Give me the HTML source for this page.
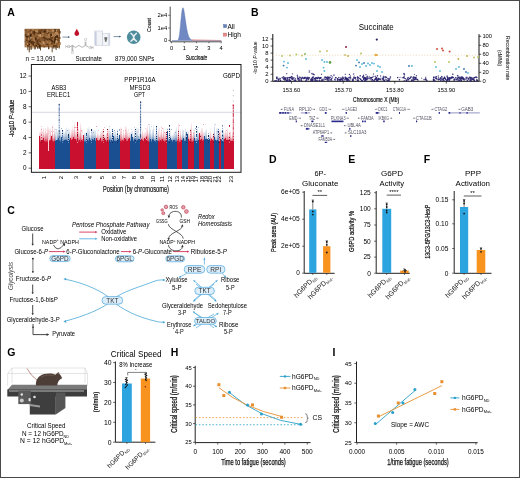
<!DOCTYPE html>
<html><head><meta charset="utf-8"><style>
html,body{margin:0;padding:0;background:#fff;}
svg{display:block;will-change:transform;}
text{font-family:"Liberation Sans", sans-serif;}
</style></head><body>
<svg width="520" height="478" viewBox="0 0 520 478">
<rect x="0" y="0" width="520" height="478" fill="#fff"/>
<text x="7.30" y="16.40" font-size="10.5" text-anchor="start" font-weight="bold" fill="#000">A</text>
<g>
<rect x="24.60" y="28.80" width="35.40" height="18.50" fill="#8e6036"/>
<rect x="32.8" y="38.1" width="2.3" height="1.8" fill="#a87848"/>
<rect x="44.6" y="39.1" width="1.2" height="1.3" fill="#b8885a"/>
<rect x="58.9" y="36.8" width="1.6" height="2.2" fill="#8a5a30"/>
<rect x="29.8" y="39.6" width="1.4" height="0.8" fill="#8a5a30"/>
<rect x="51.3" y="31.5" width="1.3" height="0.9" fill="#4a2a10"/>
<rect x="54.4" y="36.8" width="1.9" height="2.8" fill="#3a2008"/>
<rect x="38.2" y="42.4" width="2.3" height="1.1" fill="#b8885a"/>
<rect x="37.2" y="29.4" width="1.1" height="2.9" fill="#b8885a"/>
<rect x="39.6" y="39.5" width="1.5" height="2.6" fill="#7a4a22"/>
<rect x="44.3" y="37.9" width="1.7" height="2.8" fill="#3a2008"/>
<rect x="48.1" y="44.6" width="2.4" height="2.3" fill="#7a4a22"/>
<rect x="30.2" y="43.4" width="2.2" height="2.1" fill="#8a5a30"/>
<rect x="49.2" y="32.4" width="1.3" height="0.9" fill="#7a4a22"/>
<rect x="54.0" y="45.6" width="1.4" height="0.9" fill="#5a3518"/>
<rect x="55.5" y="29.1" width="2.0" height="2.7" fill="#3a2008"/>
<rect x="26.1" y="39.2" width="1.4" height="2.1" fill="#4a2a10"/>
<rect x="43.5" y="44.5" width="1.6" height="3.0" fill="#7a4a22"/>
<rect x="35.3" y="30.1" width="0.9" height="1.2" fill="#8a5a30"/>
<rect x="38.6" y="39.2" width="1.9" height="3.0" fill="#6b4220"/>
<rect x="36.3" y="34.9" width="2.2" height="1.6" fill="#6b4220"/>
<rect x="40.4" y="37.6" width="1.0" height="2.9" fill="#8a5a30"/>
<rect x="52.5" y="33.4" width="2.3" height="1.8" fill="#c8a070"/>
<rect x="33.5" y="34.0" width="0.8" height="1.7" fill="#a87848"/>
<rect x="44.6" y="29.1" width="0.9" height="2.2" fill="#6b4220"/>
<rect x="40.6" y="40.3" width="1.8" height="1.4" fill="#a87848"/>
<rect x="41.4" y="38.8" width="2.3" height="1.4" fill="#4a2a10"/>
<rect x="40.3" y="38.9" width="1.1" height="1.2" fill="#a87848"/>
<rect x="50.7" y="43.1" width="1.3" height="1.6" fill="#7a4a22"/>
<rect x="51.2" y="29.3" width="1.3" height="1.3" fill="#6b4220"/>
<rect x="52.3" y="32.9" width="1.9" height="2.2" fill="#6b4220"/>
<rect x="27.9" y="39.0" width="1.9" height="1.3" fill="#a87848"/>
<rect x="52.5" y="45.1" width="1.3" height="2.2" fill="#5a3518"/>
<rect x="55.0" y="36.5" width="2.1" height="0.9" fill="#c8a070"/>
<rect x="57.5" y="34.2" width="2.2" height="1.5" fill="#6b4220"/>
<rect x="53.1" y="30.3" width="1.7" height="1.7" fill="#a87848"/>
<rect x="42.4" y="43.2" width="1.4" height="1.7" fill="#b8885a"/>
<rect x="39.0" y="35.8" width="1.0" height="0.8" fill="#3a2008"/>
<rect x="57.0" y="43.8" width="1.5" height="2.9" fill="#8a5a30"/>
<rect x="56.5" y="32.6" width="2.1" height="2.3" fill="#b8885a"/>
<rect x="42.5" y="33.7" width="2.2" height="2.7" fill="#a87848"/>
<rect x="54.1" y="45.3" width="2.1" height="0.9" fill="#5a3518"/>
<rect x="55.7" y="40.6" width="2.2" height="2.8" fill="#c8a070"/>
<rect x="44.4" y="29.0" width="1.1" height="1.5" fill="#5a3518"/>
<rect x="47.4" y="37.7" width="0.9" height="2.8" fill="#3a2008"/>
<rect x="28.5" y="30.9" width="1.6" height="2.5" fill="#8a5a30"/>
<rect x="36.7" y="32.2" width="2.2" height="1.1" fill="#8a5a30"/>
<rect x="32.8" y="33.5" width="2.1" height="0.8" fill="#6b4220"/>
<rect x="46.2" y="43.5" width="2.0" height="1.3" fill="#4a2a10"/>
<rect x="45.9" y="37.6" width="1.6" height="2.5" fill="#4a2a10"/>
<rect x="24.7" y="29.7" width="0.9" height="0.9" fill="#6b4220"/>
<rect x="41.2" y="29.4" width="1.6" height="1.9" fill="#5a3518"/>
<rect x="30.0" y="30.0" width="1.8" height="2.1" fill="#3a2008"/>
<rect x="37.0" y="32.0" width="1.5" height="1.1" fill="#a87848"/>
<rect x="24.7" y="41.1" width="1.7" height="0.9" fill="#5a3518"/>
<rect x="40.5" y="39.9" width="1.4" height="2.6" fill="#8a5a30"/>
<rect x="46.0" y="36.1" width="1.8" height="2.5" fill="#a87848"/>
<rect x="35.4" y="45.0" width="1.5" height="1.3" fill="#3a2008"/>
<rect x="43.0" y="40.6" width="2.1" height="1.3" fill="#5a3518"/>
<rect x="29.1" y="29.3" width="1.4" height="2.8" fill="#a87848"/>
<rect x="51.8" y="33.3" width="1.9" height="2.9" fill="#b8885a"/>
<rect x="49.8" y="43.2" width="2.1" height="2.3" fill="#8a5a30"/>
<rect x="49.8" y="38.4" width="2.1" height="2.4" fill="#5a3518"/>
<rect x="40.9" y="32.8" width="0.9" height="1.0" fill="#3a2008"/>
<rect x="28.0" y="43.8" width="2.1" height="1.6" fill="#6b4220"/>
<rect x="53.9" y="29.2" width="1.9" height="2.6" fill="#5a3518"/>
<rect x="57.4" y="38.6" width="0.9" height="2.5" fill="#5a3518"/>
<rect x="42.2" y="41.0" width="1.7" height="1.0" fill="#5a3518"/>
<rect x="43.6" y="38.2" width="2.1" height="1.3" fill="#6b4220"/>
<rect x="30.8" y="33.0" width="1.2" height="2.1" fill="#3a2008"/>
<rect x="56.9" y="38.3" width="1.4" height="1.3" fill="#5a3518"/>
<rect x="56.6" y="43.1" width="1.5" height="2.1" fill="#6b4220"/>
<rect x="44.5" y="44.5" width="1.0" height="1.7" fill="#b8885a"/>
<rect x="55.1" y="31.6" width="2.0" height="2.8" fill="#b8885a"/>
<rect x="42.4" y="36.3" width="1.0" height="2.5" fill="#6b4220"/>
<rect x="29.6" y="37.6" width="2.2" height="2.0" fill="#c8a070"/>
<rect x="51.4" y="40.2" width="1.8" height="2.1" fill="#3a2008"/>
<rect x="58.4" y="43.9" width="0.8" height="1.9" fill="#7a4a22"/>
<rect x="37.8" y="31.7" width="1.2" height="1.9" fill="#a87848"/>
<rect x="54.3" y="35.9" width="1.9" height="1.3" fill="#b8885a"/>
<rect x="44.6" y="44.1" width="0.8" height="3.0" fill="#8a5a30"/>
<rect x="27.1" y="44.9" width="1.5" height="1.3" fill="#4a2a10"/>
<rect x="32.7" y="41.0" width="2.3" height="2.7" fill="#5a3518"/>
<rect x="32.9" y="32.0" width="1.0" height="2.2" fill="#7a4a22"/>
<rect x="47.8" y="29.4" width="1.1" height="0.9" fill="#7a4a22"/>
<rect x="30.9" y="30.3" width="1.0" height="1.4" fill="#5a3518"/>
<rect x="56.0" y="29.4" width="1.7" height="2.3" fill="#b8885a"/>
<rect x="24.8" y="34.5" width="1.4" height="1.0" fill="#3a2008"/>
<rect x="46.8" y="41.4" width="1.4" height="2.0" fill="#b8885a"/>
<rect x="28.7" y="33.5" width="1.0" height="2.8" fill="#3a2008"/>
<rect x="55.9" y="30.4" width="1.9" height="1.6" fill="#a87848"/>
<rect x="40.1" y="40.1" width="1.0" height="2.9" fill="#7a4a22"/>
<rect x="36.2" y="38.4" width="1.0" height="1.9" fill="#8a5a30"/>
<rect x="36.7" y="41.0" width="1.8" height="2.4" fill="#6b4220"/>
<rect x="29.7" y="35.1" width="1.0" height="2.9" fill="#b8885a"/>
<rect x="29.5" y="34.4" width="1.7" height="2.2" fill="#3a2008"/>
<rect x="40.3" y="34.1" width="1.9" height="1.0" fill="#6b4220"/>
<rect x="30.8" y="38.2" width="1.4" height="1.4" fill="#3a2008"/>
<rect x="37.8" y="43.6" width="1.6" height="1.4" fill="#4a2a10"/>
<rect x="48.5" y="37.6" width="2.3" height="1.8" fill="#a87848"/>
<rect x="52.4" y="30.0" width="2.2" height="1.0" fill="#b8885a"/>
<rect x="33.9" y="30.5" width="1.7" height="2.8" fill="#5a3518"/>
<rect x="28.5" y="40.7" width="1.9" height="1.7" fill="#3a2008"/>
<rect x="58.4" y="31.0" width="2.2" height="2.6" fill="#6b4220"/>
<rect x="43.3" y="31.7" width="1.1" height="1.4" fill="#6b4220"/>
<rect x="51.5" y="29.3" width="2.2" height="2.9" fill="#b8885a"/>
<rect x="37.8" y="38.2" width="1.8" height="2.9" fill="#7a4a22"/>
<rect x="48.2" y="33.9" width="0.8" height="1.2" fill="#b8885a"/>
<rect x="46.4" y="30.6" width="1.6" height="2.0" fill="#c8a070"/>
<rect x="40.4" y="32.1" width="1.1" height="2.6" fill="#8a5a30"/>
<rect x="56.5" y="44.9" width="1.7" height="2.9" fill="#5a3518"/>
<rect x="55.3" y="31.1" width="1.8" height="0.9" fill="#5a3518"/>
<rect x="37.0" y="32.8" width="1.6" height="0.8" fill="#5a3518"/>
<rect x="36.3" y="34.4" width="1.9" height="1.1" fill="#a87848"/>
<rect x="54.1" y="39.0" width="1.9" height="2.4" fill="#4a2a10"/>
<rect x="36.4" y="42.5" width="2.2" height="1.8" fill="#5a3518"/>
<rect x="50.6" y="37.0" width="2.1" height="1.7" fill="#5a3518"/>
<rect x="53.7" y="40.8" width="1.6" height="2.3" fill="#3a2008"/>
<rect x="43.1" y="36.0" width="1.3" height="1.8" fill="#b8885a"/>
<rect x="50.6" y="35.6" width="1.5" height="0.9" fill="#6b4220"/>
<rect x="33.4" y="43.2" width="1.6" height="2.1" fill="#b8885a"/>
<rect x="32.3" y="28.8" width="1.2" height="1.6" fill="#c8a070"/>
<rect x="54.0" y="37.9" width="1.1" height="1.2" fill="#6b4220"/>
<rect x="38.5" y="31.7" width="1.0" height="2.1" fill="#4a2a10"/>
<rect x="39.8" y="31.9" width="1.4" height="1.5" fill="#4a2a10"/>
<rect x="25.7" y="40.9" width="1.4" height="1.7" fill="#c8a070"/>
<rect x="25.5" y="45.2" width="1.2" height="1.7" fill="#c8a070"/>
<rect x="31.2" y="34.5" width="1.4" height="1.1" fill="#5a3518"/>
<rect x="26.4" y="41.2" width="2.4" height="2.9" fill="#7a4a22"/>
<rect x="51.8" y="45.1" width="1.2" height="1.4" fill="#b8885a"/>
<rect x="52.6" y="39.5" width="1.3" height="0.9" fill="#a87848"/>
<rect x="39.6" y="30.3" width="1.0" height="2.3" fill="#4a2a10"/>
<rect x="25.3" y="37.4" width="0.9" height="2.2" fill="#b8885a"/>
<rect x="55.6" y="32.2" width="1.3" height="1.9" fill="#b8885a"/>
<rect x="36.7" y="40.0" width="1.3" height="2.1" fill="#3a2008"/>
<rect x="57.2" y="30.3" width="1.1" height="1.7" fill="#7a4a22"/>
<rect x="42.1" y="38.1" width="1.9" height="2.8" fill="#8a5a30"/>
<rect x="30.6" y="41.4" width="2.1" height="2.0" fill="#3a2008"/>
<rect x="56.4" y="35.0" width="1.5" height="1.8" fill="#3a2008"/>
<rect x="48.8" y="34.7" width="1.6" height="2.5" fill="#6b4220"/>
<rect x="56.1" y="40.6" width="0.9" height="1.2" fill="#b8885a"/>
<rect x="50.5" y="42.8" width="2.0" height="2.3" fill="#5a3518"/>
<rect x="27.9" y="32.8" width="2.2" height="2.7" fill="#4a2a10"/>
<rect x="40.1" y="44.0" width="2.4" height="0.8" fill="#a87848"/>
<rect x="31.3" y="42.2" width="1.3" height="1.5" fill="#5a3518"/>
<rect x="40.1" y="42.8" width="1.2" height="0.9" fill="#c8a070"/>
<rect x="29.9" y="39.8" width="1.0" height="1.4" fill="#4a2a10"/>
<rect x="31.8" y="43.3" width="1.5" height="2.5" fill="#8a5a30"/>
<rect x="45.4" y="42.2" width="2.1" height="1.8" fill="#8a5a30"/>
<rect x="46.0" y="29.5" width="1.8" height="2.7" fill="#5a3518"/>
<rect x="28.1" y="44.8" width="0.9" height="1.8" fill="#7a4a22"/>
<rect x="32.3" y="42.9" width="1.8" height="2.5" fill="#5a3518"/>
<rect x="54.6" y="34.7" width="2.0" height="1.4" fill="#b8885a"/>
<rect x="57.1" y="36.3" width="1.1" height="2.0" fill="#3a2008"/>
<rect x="40.6" y="41.2" width="1.3" height="1.2" fill="#5a3518"/>
<rect x="50.5" y="44.5" width="1.5" height="2.2" fill="#a87848"/>
<rect x="45.4" y="32.4" width="2.1" height="0.9" fill="#a87848"/>
<rect x="32.7" y="36.3" width="1.1" height="1.2" fill="#7a4a22"/>
<rect x="56.6" y="41.1" width="2.3" height="2.0" fill="#b8885a"/>
<rect x="39.0" y="44.9" width="1.6" height="2.5" fill="#3a2008"/>
<rect x="38.6" y="45.8" width="1.3" height="2.9" fill="#4a2a10"/>
<rect x="30.9" y="30.4" width="1.3" height="1.9" fill="#6b4220"/>
<rect x="46.6" y="29.5" width="1.2" height="1.8" fill="#c8a070"/>
<rect x="36.5" y="41.4" width="1.0" height="1.8" fill="#7a4a22"/>
<rect x="55.9" y="36.3" width="1.0" height="2.5" fill="#c8a070"/>
<rect x="48.7" y="45.4" width="2.3" height="1.7" fill="#a87848"/>
<rect x="56.9" y="36.9" width="1.2" height="2.9" fill="#8a5a30"/>
<rect x="34.5" y="29.3" width="2.2" height="2.6" fill="#a87848"/>
<rect x="34.8" y="32.9" width="0.8" height="1.1" fill="#8a5a30"/>
<rect x="42.9" y="37.9" width="2.3" height="0.8" fill="#6b4220"/>
<rect x="58.4" y="42.3" width="2.4" height="2.5" fill="#a87848"/>
<rect x="58.3" y="29.4" width="1.2" height="1.4" fill="#6b4220"/>
<rect x="55.7" y="43.0" width="2.1" height="1.8" fill="#8a5a30"/>
<rect x="33.6" y="40.2" width="1.5" height="1.4" fill="#b8885a"/>
<rect x="26.1" y="36.1" width="2.3" height="2.6" fill="#6b4220"/>
<rect x="33.1" y="31.1" width="1.6" height="2.6" fill="#3a2008"/>
<rect x="43.6" y="33.6" width="0.9" height="1.9" fill="#6b4220"/>
<rect x="26.7" y="42.7" width="1.5" height="2.3" fill="#b8885a"/>
<rect x="56.5" y="42.6" width="1.5" height="1.9" fill="#8a5a30"/>
<rect x="30.5" y="31.9" width="2.4" height="2.0" fill="#6b4220"/>
<rect x="38.6" y="34.8" width="1.2" height="1.4" fill="#b8885a"/>
<rect x="34.3" y="37.8" width="1.0" height="0.9" fill="#a87848"/>
<rect x="41.3" y="32.7" width="2.3" height="2.1" fill="#b8885a"/>
<rect x="25.7" y="38.6" width="1.0" height="1.1" fill="#8a5a30"/>
<rect x="51.6" y="41.6" width="1.0" height="2.3" fill="#7a4a22"/>
<rect x="37.4" y="37.6" width="1.1" height="2.8" fill="#b8885a"/>
<rect x="30.8" y="35.3" width="1.3" height="1.4" fill="#3a2008"/>
<rect x="57.3" y="44.8" width="1.8" height="2.0" fill="#a87848"/>
<rect x="25.8" y="35.9" width="2.4" height="1.0" fill="#3a2008"/>
<rect x="32.5" y="32.2" width="1.9" height="1.1" fill="#5a3518"/>
<rect x="46.4" y="30.9" width="2.3" height="2.9" fill="#4a2a10"/>
<rect x="48.4" y="36.1" width="1.5" height="1.4" fill="#b8885a"/>
<rect x="43.8" y="31.8" width="2.3" height="1.1" fill="#b8885a"/>
<rect x="55.7" y="31.8" width="1.9" height="2.2" fill="#b8885a"/>
<rect x="29.5" y="29.7" width="1.3" height="2.2" fill="#6b4220"/>
<rect x="29.1" y="31.3" width="2.3" height="2.0" fill="#8a5a30"/>
<rect x="37.8" y="30.6" width="1.1" height="0.9" fill="#3a2008"/>
<rect x="28.2" y="30.8" width="1.0" height="1.6" fill="#7a4a22"/>
<rect x="56.1" y="30.1" width="0.8" height="1.6" fill="#c8a070"/>
<rect x="29.5" y="36.9" width="1.4" height="2.9" fill="#5a3518"/>
<rect x="41.3" y="40.8" width="1.6" height="2.4" fill="#a87848"/>
<rect x="42.9" y="43.3" width="1.7" height="1.8" fill="#b8885a"/>
<rect x="43.1" y="36.3" width="1.5" height="1.6" fill="#8a5a30"/>
<rect x="50.6" y="33.8" width="1.3" height="2.7" fill="#6b4220"/>
<rect x="57.6" y="34.2" width="1.0" height="2.1" fill="#c8a070"/>
<rect x="26.6" y="39.2" width="1.0" height="0.8" fill="#6b4220"/>
<rect x="54.5" y="42.3" width="1.6" height="2.5" fill="#a87848"/>
<rect x="27.8" y="38.0" width="1.3" height="2.1" fill="#b8885a"/>
<rect x="32.1" y="36.6" width="1.8" height="2.1" fill="#a87848"/>
<rect x="48.8" y="41.9" width="2.2" height="2.6" fill="#a87848"/>
<rect x="34.5" y="45.4" width="1.1" height="2.1" fill="#7a4a22"/>
<rect x="32.2" y="45.7" width="1.3" height="2.9" fill="#c8a070"/>
<rect x="40.2" y="36.9" width="2.1" height="1.2" fill="#8a5a30"/>
<rect x="45.9" y="37.7" width="0.9" height="1.7" fill="#4a2a10"/>
<rect x="53.8" y="42.0" width="1.2" height="1.6" fill="#4a2a10"/>
<rect x="31.9" y="30.1" width="1.1" height="2.0" fill="#8a5a30"/>
<rect x="55.0" y="36.1" width="1.9" height="1.6" fill="#3a2008"/>
<rect x="34.9" y="37.4" width="1.5" height="2.8" fill="#3a2008"/>
<rect x="48.2" y="30.6" width="1.0" height="1.3" fill="#b8885a"/>
<rect x="37.4" y="39.2" width="2.2" height="1.3" fill="#6b4220"/>
<rect x="39.6" y="32.1" width="1.7" height="2.8" fill="#4a2a10"/>
<rect x="43.0" y="41.3" width="1.5" height="2.3" fill="#c8a070"/>
<rect x="28.8" y="43.8" width="1.2" height="1.1" fill="#3a2008"/>
<rect x="35.1" y="38.2" width="2.1" height="2.1" fill="#5a3518"/>
<rect x="27.5" y="29.3" width="1.4" height="1.9" fill="#a87848"/>
<rect x="58.5" y="36.8" width="1.4" height="1.9" fill="#6b4220"/>
<rect x="39.5" y="39.5" width="1.5" height="1.0" fill="#7a4a22"/>
<rect x="58.3" y="40.6" width="0.9" height="2.7" fill="#5a3518"/>
<rect x="50.3" y="34.3" width="1.3" height="2.8" fill="#4a2a10"/>
<rect x="46.3" y="30.4" width="1.8" height="2.7" fill="#a87848"/>
<rect x="32.4" y="34.3" width="2.3" height="0.9" fill="#3a2008"/>
<rect x="42.4" y="44.1" width="1.6" height="2.1" fill="#8a5a30"/>
<rect x="27.5" y="32.7" width="2.1" height="2.8" fill="#b8885a"/>
<rect x="38.2" y="34.6" width="1.9" height="2.0" fill="#b8885a"/>
<rect x="31.6" y="33.9" width="1.7" height="1.6" fill="#6b4220"/>
<rect x="42.4" y="34.2" width="1.1" height="0.9" fill="#8a5a30"/>
<rect x="39.5" y="34.1" width="1.6" height="2.7" fill="#c8a070"/>
<rect x="30.9" y="30.6" width="1.0" height="2.8" fill="#b8885a"/>
<rect x="38.3" y="32.4" width="2.0" height="1.5" fill="#6b4220"/>
<rect x="33.1" y="43.8" width="1.2" height="1.6" fill="#4a2a10"/>
<rect x="32.3" y="33.6" width="1.2" height="2.3" fill="#a87848"/>
<rect x="36.3" y="30.7" width="1.3" height="1.2" fill="#c8a070"/>
<rect x="30.4" y="37.0" width="1.1" height="2.3" fill="#c8a070"/>
<rect x="45.6" y="31.8" width="1.4" height="2.0" fill="#8a5a30"/>
<rect x="45.2" y="39.5" width="1.4" height="1.0" fill="#b8885a"/>
<rect x="43.0" y="36.6" width="1.7" height="1.4" fill="#4a2a10"/>
<rect x="55.5" y="40.5" width="1.4" height="1.9" fill="#c8a070"/>
<rect x="41.3" y="35.7" width="2.0" height="1.1" fill="#b8885a"/>
<rect x="39.0" y="43.5" width="1.7" height="1.0" fill="#6b4220"/>
<rect x="42.8" y="43.3" width="1.8" height="1.1" fill="#b8885a"/>
<rect x="56.3" y="35.2" width="1.7" height="2.6" fill="#4a2a10"/>
<rect x="31.6" y="30.4" width="1.7" height="2.1" fill="#8a5a30"/>
<rect x="47.9" y="33.7" width="2.4" height="2.6" fill="#a87848"/>
<rect x="50.3" y="33.8" width="1.5" height="2.0" fill="#4a2a10"/>
<rect x="50.9" y="36.0" width="1.7" height="1.3" fill="#a87848"/>
<rect x="48.6" y="38.4" width="1.9" height="1.5" fill="#3a2008"/>
<rect x="30.2" y="44.4" width="1.1" height="1.7" fill="#b8885a"/>
<rect x="31.3" y="35.7" width="1.0" height="0.9" fill="#a87848"/>
<rect x="41.2" y="32.2" width="1.9" height="1.1" fill="#8a5a30"/>
<rect x="43.6" y="30.8" width="2.2" height="1.9" fill="#3a2008"/>
<rect x="38.3" y="29.9" width="1.9" height="1.3" fill="#7a4a22"/>
<rect x="34.6" y="46.5" width="0.9" height="2.5" fill="#5a3a1a"/>
<rect x="29.6" y="46.5" width="0.9" height="3.2" fill="#5a3a1a"/>
<rect x="30.9" y="46.5" width="0.9" height="3.2" fill="#5a3a1a"/>
<rect x="48.5" y="46.5" width="0.9" height="2.7" fill="#5a3a1a"/>
<rect x="51.7" y="46.5" width="0.9" height="5.8" fill="#5a3a1a"/>
<rect x="48.0" y="46.5" width="0.9" height="2.6" fill="#5a3a1a"/>
<rect x="34.5" y="46.5" width="0.9" height="3.1" fill="#5a3a1a"/>
<rect x="37.3" y="46.5" width="0.9" height="2.0" fill="#5a3a1a"/>
<rect x="54.7" y="46.5" width="0.9" height="2.1" fill="#5a3a1a"/>
<rect x="28.8" y="46.5" width="0.9" height="5.9" fill="#5a3a1a"/>
<rect x="37.0" y="46.5" width="0.9" height="2.0" fill="#5a3a1a"/>
<rect x="53.3" y="46.5" width="0.9" height="2.1" fill="#5a3a1a"/>
<rect x="27.4" y="46.5" width="0.9" height="3.7" fill="#5a3a1a"/>
<rect x="58.8" y="46.5" width="0.9" height="2.1" fill="#5a3a1a"/>
<rect x="55.7" y="46.5" width="0.9" height="3.5" fill="#5a3a1a"/>
<rect x="40.1" y="46.5" width="0.9" height="4.0" fill="#5a3a1a"/>
</g>
<line x1="62.50" y1="37.10" x2="69.60" y2="37.10" stroke="#2d4a6b" stroke-width="0.6"/>
<polygon points="69.60,37.10 68.00,36.22 68.00,37.98" fill="#2d4a6b"/>
<line x1="113.50" y1="36.60" x2="120.80" y2="36.60" stroke="#2d4a6b" stroke-width="0.6"/>
<polygon points="120.80,36.60 119.20,35.72 119.20,37.48" fill="#2d4a6b"/>
<path d="M76.8,28.8 C75.5,31.5 74.4,32.6 74.4,33.6 A2.4,2.4 0 0 0 79.2,33.6 C79.2,32.6 78.1,31.5 76.8,28.8 Z" fill="#c0102a"/>
<polyline points="69.5,47.2 72.4,45.4 75.6,47.4 78.9,45.4 82.2,47.4 85.5,45.4 88.6,47.2" fill="none" stroke="#777" stroke-width="0.55"/>
<line x1="72.00" y1="45.60" x2="72.00" y2="51.20" stroke="#777" stroke-width="0.5"/>
<line x1="72.80" y1="45.60" x2="72.80" y2="51.20" stroke="#777" stroke-width="0.5"/>
<line x1="85.10" y1="45.40" x2="85.10" y2="41.60" stroke="#777" stroke-width="0.5"/>
<line x1="85.90" y1="45.40" x2="85.90" y2="41.60" stroke="#777" stroke-width="0.5"/>
<text x="65.60" y="48.40" font-size="3" text-anchor="start" fill="#777">HO</text>
<text x="88.80" y="48.60" font-size="3" text-anchor="start" fill="#777">OH</text>
<text x="71.30" y="54.20" font-size="3" text-anchor="start" fill="#777">O</text>
<text x="84.40" y="41.40" font-size="3" text-anchor="start" fill="#777">O</text>
<rect x="94.80" y="31.00" width="8.00" height="14.60" fill="#f1f3f7" stroke="#b4bccc" stroke-width="0.4"/>
<rect x="95.00" y="31.50" width="1.60" height="13.80" fill="#c6cee0"/>
<rect x="102.50" y="33.50" width="7.40" height="12.00" fill="#f3f4f7" stroke="#b4bccc" stroke-width="0.4"/>
<rect x="108.40" y="34.00" width="1.30" height="11.00" fill="#c8cfdf"/>
<path d="M104.1,37.4 Q105.8,36.6 107.5,37.4 L106.4,41.8 Q105.8,42.3 105.2,41.8 Z" fill="#707070"/>
<circle cx="133.70" cy="37.30" r="6.80" fill="#4d8c9c"/>
<path d="M131.0,33.4 Q136.4,37.3 131.0,41.2 M136.4,33.4 Q131.0,37.3 136.4,41.2" stroke="#e6eef0" stroke-width="1.5" fill="none" stroke-linecap="round"/>
<text x="25.60" y="61.20" font-size="7.3" text-anchor="start" textLength="30.20" lengthAdjust="spacingAndGlyphs">n = 13,091</text>
<text x="75.40" y="61.20" font-size="7.3" text-anchor="start" textLength="26.60" lengthAdjust="spacingAndGlyphs">Succinate</text>
<text x="115.00" y="61.20" font-size="7.3" text-anchor="start" textLength="39.40" lengthAdjust="spacingAndGlyphs">879,000 SNPs</text>
<path d="M172.00,40.60 L172.00,40.60 L172.25,40.60 L172.49,40.60 L172.74,40.60 L172.98,40.60 L173.23,40.60 L173.48,40.60 L173.72,40.60 L173.97,40.60 L174.21,40.60 L174.46,40.60 L174.71,40.60 L174.95,40.60 L175.20,40.60 L175.44,40.60 L175.69,40.60 L175.94,40.60 L176.18,40.60 L176.43,40.60 L176.67,40.59 L176.92,40.58 L177.17,40.54 L177.41,40.48 L177.66,40.36 L177.90,40.16 L178.15,39.84 L178.40,39.35 L178.64,38.66 L178.89,37.71 L179.13,36.49 L179.38,34.96 L179.63,33.13 L179.87,31.02 L180.12,28.67 L180.36,26.14 L180.61,23.51 L180.86,20.85 L181.10,18.26 L181.35,15.83 L181.59,13.62 L181.84,11.72 L182.09,10.15 L182.33,8.97 L182.58,8.19 L182.82,7.80 L183.07,7.80 L183.32,8.16 L183.56,8.85 L183.81,9.83 L184.05,11.04 L184.30,12.45 L184.55,14.01 L184.79,15.66 L185.04,17.38 L185.28,19.13 L185.53,20.87 L185.78,22.57 L186.02,24.22 L186.27,25.79 L186.51,27.28 L186.76,28.68 L187.01,29.98 L187.25,31.17 L187.50,32.26 L187.74,33.26 L187.99,34.16 L188.24,34.96 L188.48,35.69 L188.73,36.33 L188.97,36.90 L189.22,37.40 L189.47,37.84 L189.71,38.22 L189.96,38.56 L190.20,38.85 L190.45,39.11 L190.70,39.33 L190.94,39.52 L191.19,39.68 L191.43,39.82 L191.68,39.94 L191.93,40.04 L192.17,40.13 L192.42,40.20 L192.66,40.26 L192.91,40.32 L193.16,40.36 L193.40,40.40 L193.65,40.43 L193.89,40.46 L194.14,40.48 L194.39,40.50 L194.63,40.52 L194.88,40.53 L195.12,40.54 L195.37,40.55 L195.62,40.56 L195.86,40.57 L196.11,40.57 L196.35,40.58 L196.60,40.58 L196.85,40.58 L197.09,40.59 L197.34,40.59 L197.58,40.59 L197.83,40.59 L198.08,40.59 L198.32,40.59 L198.57,40.60 L198.81,40.60 L199.06,40.60 L199.31,40.60 L199.55,40.60 L199.80,40.60 L200.04,40.60 L200.29,40.60 L200.54,40.60 L200.78,40.60 L201.03,40.60 L201.27,40.60 L201.52,40.60 L201.77,40.60 L202.01,40.60 L202.26,40.60 L202.50,40.60 L202.75,40.60 L203.00,40.60 L203.24,40.60 L203.49,40.60 L203.73,40.60 L203.98,40.60 L204.23,40.60 L204.47,40.60 L204.72,40.60 L204.96,40.60 L205.21,40.60 L205.46,40.60 L205.70,40.60 L205.95,40.60 L206.19,40.60 L206.44,40.60 L206.69,40.60 L206.93,40.60 L207.18,40.60 L207.42,40.60 L207.67,40.60 L207.92,40.60 L208.16,40.60 L208.41,40.60 L208.65,40.60 L208.90,40.60 L209.15,40.60 L209.39,40.60 L209.64,40.60 L209.88,40.60 L210.13,40.60 L210.38,40.60 L210.62,40.60 L210.87,40.60 L211.11,40.60 L211.36,40.60 L211.61,40.60 L211.85,40.60 L212.10,40.60 L212.34,40.60 L212.59,40.60 L212.84,40.60 L213.08,40.60 L213.33,40.60 L213.57,40.60 L213.82,40.60 L214.07,40.60 L214.31,40.60 L214.56,40.60 L214.80,40.60 L215.05,40.60 L215.30,40.60 L215.54,40.60 L215.79,40.60 L216.03,40.60 L216.28,40.60 L216.53,40.60 L216.77,40.60 L217.02,40.60 L217.26,40.60 L217.51,40.60 L217.76,40.60 L218.00,40.60 L218.25,40.60 L218.49,40.60 L218.74,40.60 L218.99,40.60 L219.23,40.60 L219.48,40.60 L219.72,40.60 L219.97,40.60 L220.22,40.60 L220.46,40.60 L220.71,40.60 L220.95,40.60 L221.20,40.60 L221.20,40.60 Z" fill="#7189c2" stroke="#5570ad" stroke-width="0.4"/>
<path d="M191.68,40.60 L191.68,39.60 L221.20,40.00 L221.20,40.60 Z" fill="#e08585"/>
<line x1="170.20" y1="6.60" x2="170.20" y2="41.80" stroke="#222" stroke-width="0.8"/>
<line x1="170.20" y1="41.80" x2="221.60" y2="41.80" stroke="#222" stroke-width="0.8"/>
<line x1="168.20" y1="15.30" x2="170.20" y2="15.30" stroke="#222" stroke-width="0.6"/>
<text x="167.20" y="17.30" font-size="5.8" text-anchor="end">2e4</text>
<line x1="168.20" y1="28.00" x2="170.20" y2="28.00" stroke="#222" stroke-width="0.6"/>
<text x="167.20" y="30.00" font-size="5.8" text-anchor="end">1e4</text>
<line x1="168.20" y1="40.40" x2="170.20" y2="40.40" stroke="#222" stroke-width="0.6"/>
<text x="167.20" y="42.40" font-size="5.8" text-anchor="end">0</text>
<line x1="171.50" y1="41.80" x2="171.50" y2="43.30" stroke="#222" stroke-width="0.6"/>
<text x="171.50" y="49.80" font-size="5.8" text-anchor="middle">0</text>
<line x1="184.30" y1="41.80" x2="184.30" y2="43.30" stroke="#222" stroke-width="0.6"/>
<text x="184.30" y="49.80" font-size="5.8" text-anchor="middle">1</text>
<line x1="196.60" y1="41.80" x2="196.60" y2="43.30" stroke="#222" stroke-width="0.6"/>
<text x="196.60" y="49.80" font-size="5.8" text-anchor="middle">2</text>
<line x1="208.90" y1="41.80" x2="208.90" y2="43.30" stroke="#222" stroke-width="0.6"/>
<text x="208.90" y="49.80" font-size="5.8" text-anchor="middle">3</text>
<line x1="221.20" y1="41.80" x2="221.20" y2="43.30" stroke="#222" stroke-width="0.6"/>
<text x="221.20" y="49.80" font-size="5.8" text-anchor="middle">4</text>
<text x="150.80" y="25.00" font-size="6.2" text-anchor="middle" textLength="14.00" lengthAdjust="spacingAndGlyphs" transform="rotate(-90 150.80 25.00)" stroke="#222" stroke-width="0.15">Count</text>
<text x="196.50" y="60.30" font-size="7.2" text-anchor="middle" font-style="italic" textLength="21.40" lengthAdjust="spacingAndGlyphs" stroke="#222" stroke-width="0.2">Succinate</text>
<rect x="223.60" y="24.60" width="3.00" height="3.00" fill="#6680b8" stroke="#3d5a96" stroke-width="0.4"/>
<rect x="223.60" y="33.10" width="3.00" height="3.00" fill="#e89090" stroke="#c04040" stroke-width="0.4"/>
<text x="227.40" y="28.60" font-size="6.6" text-anchor="start">All</text>
<text x="227.40" y="37.10" font-size="6.6" text-anchor="start">High</text>
<defs>
<linearGradient id="gr" x1="0" y1="0" x2="0" y2="1"><stop offset="0" stop-color="#c9112f" stop-opacity="0.06"/><stop offset="0.4" stop-color="#c9112f" stop-opacity="0.22"/><stop offset="0.75" stop-color="#c9112f" stop-opacity="0.5"/><stop offset="1" stop-color="#c9112f" stop-opacity="0.9"/></linearGradient>
<linearGradient id="gb" x1="0" y1="0" x2="0" y2="1"><stop offset="0" stop-color="#1a4f91" stop-opacity="0.06"/><stop offset="0.4" stop-color="#1a4f91" stop-opacity="0.22"/><stop offset="0.75" stop-color="#1a4f91" stop-opacity="0.5"/><stop offset="1" stop-color="#1a4f91" stop-opacity="0.9"/></linearGradient>
</defs>
<g shape-rendering="crispEdges">
<rect x="39.10" y="141.70" width="15.70" height="27.26" fill="#c9112f"/>
<rect x="39.10" y="131.70" width="0.50" height="10.39" fill="url(#gr)"/>
<rect x="39.10" y="136.04" width="0.50" height="5.66" fill="#c9112f"/>
<rect x="39.60" y="131.28" width="0.50" height="10.81" fill="url(#gr)"/>
<rect x="39.60" y="141.26" width="0.50" height="0.45" fill="#c9112f"/>
<rect x="40.10" y="130.34" width="0.50" height="11.75" fill="url(#gr)"/>
<rect x="40.60" y="134.48" width="0.50" height="7.61" fill="url(#gr)"/>
<rect x="40.60" y="139.11" width="0.50" height="2.59" fill="#c9112f"/>
<rect x="40.60" y="125.36" width="0.50" height="6.14" fill="#ffffff" opacity="0.55"/>
<rect x="41.10" y="127.77" width="0.50" height="14.32" fill="url(#gr)"/>
<rect x="41.10" y="139.61" width="0.50" height="2.10" fill="#c9112f"/>
<rect x="41.10" y="134.27" width="0.50" height="6.14" fill="#ffffff" opacity="0.55"/>
<rect x="41.60" y="130.47" width="0.50" height="11.62" fill="url(#gr)"/>
<rect x="41.60" y="141.10" width="0.50" height="0.61" fill="#c9112f"/>
<rect x="41.60" y="130.13" width="0.50" height="6.14" fill="#ffffff" opacity="0.55"/>
<rect x="42.10" y="131.79" width="0.50" height="10.30" fill="url(#gr)"/>
<rect x="42.10" y="140.10" width="0.50" height="1.61" fill="#c9112f"/>
<rect x="42.60" y="131.34" width="0.50" height="10.75" fill="url(#gr)"/>
<rect x="42.60" y="140.36" width="0.50" height="1.34" fill="#c9112f"/>
<rect x="43.10" y="127.51" width="0.50" height="14.57" fill="url(#gr)"/>
<rect x="43.10" y="137.68" width="0.50" height="4.02" fill="#c9112f"/>
<rect x="43.60" y="131.71" width="0.50" height="10.38" fill="url(#gr)"/>
<rect x="44.10" y="132.10" width="0.50" height="9.99" fill="url(#gr)"/>
<rect x="44.10" y="140.63" width="0.50" height="1.07" fill="#c9112f"/>
<rect x="44.60" y="127.95" width="0.50" height="14.14" fill="url(#gr)"/>
<rect x="44.60" y="136.41" width="0.50" height="5.29" fill="#c9112f"/>
<rect x="45.10" y="127.65" width="0.50" height="14.44" fill="url(#gr)"/>
<rect x="45.60" y="128.92" width="0.50" height="13.17" fill="url(#gr)"/>
<rect x="45.60" y="140.82" width="0.50" height="0.89" fill="#c9112f"/>
<rect x="46.10" y="128.49" width="0.50" height="13.60" fill="url(#gr)"/>
<rect x="46.10" y="127.06" width="0.50" height="6.14" fill="#ffffff" opacity="0.55"/>
<rect x="46.60" y="133.81" width="0.50" height="8.28" fill="url(#gr)"/>
<rect x="46.60" y="140.40" width="0.50" height="1.30" fill="#c9112f"/>
<rect x="47.10" y="126.38" width="0.50" height="15.70" fill="url(#gr)"/>
<rect x="47.60" y="122.89" width="0.50" height="19.20" fill="url(#gr)"/>
<rect x="47.60" y="138.13" width="0.50" height="3.57" fill="#c9112f"/>
<rect x="48.10" y="126.84" width="0.50" height="15.25" fill="url(#gr)"/>
<rect x="48.10" y="137.48" width="0.50" height="4.23" fill="#c9112f"/>
<rect x="48.60" y="134.41" width="0.50" height="7.68" fill="url(#gr)"/>
<rect x="48.60" y="141.18" width="0.50" height="0.53" fill="#c9112f"/>
<rect x="49.10" y="129.24" width="0.50" height="12.85" fill="url(#gr)"/>
<rect x="49.10" y="140.93" width="0.50" height="0.77" fill="#c9112f"/>
<rect x="49.10" y="133.58" width="0.50" height="6.14" fill="#ffffff" opacity="0.55"/>
<rect x="49.60" y="127.88" width="0.50" height="14.21" fill="url(#gr)"/>
<rect x="49.60" y="140.68" width="0.50" height="1.02" fill="#c9112f"/>
<rect x="50.10" y="127.81" width="0.50" height="14.28" fill="url(#gr)"/>
<rect x="50.10" y="139.83" width="0.50" height="1.88" fill="#c9112f"/>
<rect x="50.60" y="126.43" width="0.50" height="15.66" fill="url(#gr)"/>
<rect x="50.60" y="137.97" width="0.50" height="3.74" fill="#c9112f"/>
<rect x="51.10" y="133.72" width="0.50" height="8.37" fill="url(#gr)"/>
<rect x="51.10" y="135.52" width="0.50" height="6.19" fill="#c9112f"/>
<rect x="51.60" y="127.88" width="0.50" height="14.21" fill="url(#gr)"/>
<rect x="51.60" y="139.67" width="0.50" height="2.03" fill="#c9112f"/>
<rect x="52.10" y="124.28" width="0.50" height="17.81" fill="url(#gr)"/>
<rect x="52.10" y="141.11" width="0.50" height="0.60" fill="#c9112f"/>
<rect x="52.60" y="133.20" width="0.50" height="8.89" fill="url(#gr)"/>
<rect x="52.60" y="139.71" width="0.50" height="1.99" fill="#c9112f"/>
<rect x="53.10" y="133.83" width="0.50" height="8.26" fill="url(#gr)"/>
<rect x="53.60" y="130.88" width="0.50" height="11.21" fill="url(#gr)"/>
<rect x="53.60" y="139.61" width="0.50" height="2.09" fill="#c9112f"/>
<rect x="54.10" y="128.08" width="0.50" height="14.01" fill="url(#gr)"/>
<rect x="54.10" y="141.02" width="0.50" height="0.69" fill="#c9112f"/>
<rect x="54.60" y="133.30" width="0.20" height="8.79" fill="url(#gr)"/>
<rect x="54.60" y="139.84" width="0.20" height="1.86" fill="#c9112f"/>
<rect x="54.60" y="131.07" width="0.20" height="6.14" fill="#ffffff" opacity="0.55"/>
<rect x="52.52" y="141.64" width="0.90" height="0.90" fill="#e36a7c"/>
<rect x="52.52" y="140.04" width="0.90" height="0.90" fill="#eea0ab"/>
<rect x="52.52" y="138.07" width="0.90" height="0.90" fill="#d8344e"/>
<rect x="52.52" y="137.12" width="0.90" height="0.90" fill="#eea0ab"/>
<rect x="52.52" y="136.12" width="0.90" height="0.90" fill="#8e0f24"/>
<rect x="52.52" y="135.04" width="0.90" height="0.90" fill="#8e0f24"/>
<rect x="52.52" y="133.60" width="0.90" height="0.90" fill="#8e0f24"/>
<rect x="52.52" y="132.63" width="0.90" height="0.90" fill="#e36a7c"/>
<rect x="52.52" y="130.79" width="0.90" height="0.90" fill="#e36a7c"/>
<rect x="52.52" y="129.77" width="0.90" height="0.90" fill="#d8344e"/>
<rect x="52.52" y="127.85" width="0.90" height="0.90" fill="#d8344e"/>
<rect x="52.52" y="125.93" width="0.90" height="0.90" fill="#eea0ab"/>
<rect x="52.52" y="124.57" width="0.90" height="0.90" fill="#8e0f24"/>
<rect x="40.91" y="141.64" width="0.90" height="0.90" fill="#8e0f24"/>
<rect x="40.91" y="140.24" width="0.90" height="0.90" fill="#8e0f24"/>
<rect x="40.91" y="138.24" width="0.90" height="0.90" fill="#eea0ab"/>
<rect x="40.91" y="136.81" width="0.90" height="0.90" fill="#d8344e"/>
<rect x="40.91" y="135.29" width="0.90" height="0.90" fill="#e36a7c"/>
<rect x="40.91" y="133.68" width="0.90" height="0.90" fill="#e36a7c"/>
<rect x="40.87" y="126.41" width="0.80" height="0.80" fill="#f5c6cc"/>
<rect x="43.12" y="132.82" width="0.80" height="0.80" fill="#f5c6cc"/>
<rect x="41.35" y="128.84" width="0.80" height="0.80" fill="#eea0ab"/>
<rect x="50.93" y="131.08" width="0.80" height="0.80" fill="#f5c6cc"/>
<rect x="46.92" y="131.69" width="0.80" height="0.80" fill="#f5c6cc"/>
<rect x="49.55" y="131.93" width="0.80" height="0.80" fill="#f5c6cc"/>
<rect x="51.72" y="126.88" width="0.80" height="0.80" fill="#eea0ab"/>
<rect x="52.92" y="130.80" width="0.80" height="0.80" fill="#f5c6cc"/>
<rect x="42.40" y="132.26" width="0.80" height="0.80" fill="#f5c6cc"/>
<rect x="48.40" y="129.80" width="0.60" height="20.74" fill="#f4d0d6"/>
<rect x="54.80" y="141.70" width="15.40" height="27.26" fill="#1a4f91"/>
<rect x="54.80" y="128.75" width="0.50" height="13.34" fill="url(#gb)"/>
<rect x="54.80" y="138.98" width="0.50" height="2.73" fill="#1a4f91"/>
<rect x="55.30" y="131.21" width="0.50" height="10.88" fill="url(#gb)"/>
<rect x="55.30" y="141.00" width="0.50" height="0.71" fill="#1a4f91"/>
<rect x="55.80" y="132.00" width="0.50" height="10.09" fill="url(#gb)"/>
<rect x="55.80" y="140.21" width="0.50" height="1.49" fill="#1a4f91"/>
<rect x="56.30" y="128.73" width="0.50" height="13.36" fill="url(#gb)"/>
<rect x="56.30" y="140.38" width="0.50" height="1.32" fill="#1a4f91"/>
<rect x="56.30" y="134.12" width="0.50" height="6.14" fill="#ffffff" opacity="0.55"/>
<rect x="56.80" y="124.68" width="0.50" height="17.40" fill="url(#gb)"/>
<rect x="56.80" y="139.85" width="0.50" height="1.85" fill="#1a4f91"/>
<rect x="57.30" y="128.65" width="0.50" height="13.44" fill="url(#gb)"/>
<rect x="57.30" y="140.37" width="0.50" height="1.33" fill="#1a4f91"/>
<rect x="57.30" y="126.76" width="0.50" height="6.14" fill="#ffffff" opacity="0.55"/>
<rect x="57.80" y="133.20" width="0.50" height="8.88" fill="url(#gb)"/>
<rect x="57.80" y="139.53" width="0.50" height="2.18" fill="#1a4f91"/>
<rect x="58.30" y="130.34" width="0.50" height="11.75" fill="url(#gb)"/>
<rect x="58.30" y="138.09" width="0.50" height="3.61" fill="#1a4f91"/>
<rect x="58.80" y="127.94" width="0.50" height="14.15" fill="url(#gb)"/>
<rect x="58.80" y="141.27" width="0.50" height="0.43" fill="#1a4f91"/>
<rect x="58.80" y="130.06" width="0.50" height="6.14" fill="#ffffff" opacity="0.55"/>
<rect x="59.30" y="128.71" width="0.50" height="13.37" fill="url(#gb)"/>
<rect x="59.30" y="140.77" width="0.50" height="0.93" fill="#1a4f91"/>
<rect x="59.80" y="131.18" width="0.50" height="10.91" fill="url(#gb)"/>
<rect x="59.80" y="138.61" width="0.50" height="3.10" fill="#1a4f91"/>
<rect x="60.30" y="129.09" width="0.50" height="12.99" fill="url(#gb)"/>
<rect x="60.80" y="127.77" width="0.50" height="14.32" fill="url(#gb)"/>
<rect x="60.80" y="139.55" width="0.50" height="2.16" fill="#1a4f91"/>
<rect x="61.30" y="132.28" width="0.50" height="9.81" fill="url(#gb)"/>
<rect x="61.30" y="137.06" width="0.50" height="4.64" fill="#1a4f91"/>
<rect x="61.80" y="127.92" width="0.50" height="14.16" fill="url(#gb)"/>
<rect x="61.80" y="139.39" width="0.50" height="2.31" fill="#1a4f91"/>
<rect x="62.30" y="129.63" width="0.50" height="12.46" fill="url(#gb)"/>
<rect x="62.30" y="139.45" width="0.50" height="2.25" fill="#1a4f91"/>
<rect x="62.80" y="133.54" width="0.50" height="8.55" fill="url(#gb)"/>
<rect x="62.80" y="133.07" width="0.50" height="8.64" fill="#1a4f91"/>
<rect x="63.30" y="131.05" width="0.50" height="11.04" fill="url(#gb)"/>
<rect x="63.30" y="140.86" width="0.50" height="0.85" fill="#1a4f91"/>
<rect x="63.80" y="128.60" width="0.50" height="13.48" fill="url(#gb)"/>
<rect x="64.30" y="130.95" width="0.50" height="11.14" fill="url(#gb)"/>
<rect x="64.30" y="140.24" width="0.50" height="1.47" fill="#1a4f91"/>
<rect x="64.30" y="126.95" width="0.50" height="6.14" fill="#ffffff" opacity="0.55"/>
<rect x="64.80" y="134.68" width="0.50" height="7.40" fill="url(#gb)"/>
<rect x="64.80" y="141.29" width="0.50" height="0.42" fill="#1a4f91"/>
<rect x="65.30" y="128.63" width="0.50" height="13.46" fill="url(#gb)"/>
<rect x="65.30" y="140.11" width="0.50" height="1.59" fill="#1a4f91"/>
<rect x="65.80" y="128.72" width="0.50" height="13.36" fill="url(#gb)"/>
<rect x="65.80" y="135.31" width="0.50" height="6.39" fill="#1a4f91"/>
<rect x="66.30" y="127.12" width="0.50" height="14.97" fill="url(#gb)"/>
<rect x="66.30" y="140.06" width="0.50" height="1.64" fill="#1a4f91"/>
<rect x="66.80" y="129.58" width="0.50" height="12.51" fill="url(#gb)"/>
<rect x="66.80" y="140.08" width="0.50" height="1.62" fill="#1a4f91"/>
<rect x="67.30" y="130.88" width="0.50" height="11.21" fill="url(#gb)"/>
<rect x="67.30" y="140.65" width="0.50" height="1.05" fill="#1a4f91"/>
<rect x="67.80" y="122.89" width="0.50" height="19.20" fill="url(#gb)"/>
<rect x="67.80" y="134.12" width="0.50" height="7.58" fill="#1a4f91"/>
<rect x="68.30" y="128.42" width="0.50" height="13.67" fill="url(#gb)"/>
<rect x="68.30" y="140.17" width="0.50" height="1.53" fill="#1a4f91"/>
<rect x="68.80" y="134.96" width="0.50" height="7.13" fill="url(#gb)"/>
<rect x="68.80" y="140.11" width="0.50" height="1.59" fill="#1a4f91"/>
<rect x="69.30" y="129.02" width="0.50" height="13.06" fill="url(#gb)"/>
<rect x="69.30" y="140.22" width="0.50" height="1.48" fill="#1a4f91"/>
<rect x="69.80" y="134.67" width="0.40" height="7.42" fill="url(#gb)"/>
<rect x="69.80" y="140.53" width="0.40" height="1.17" fill="#1a4f91"/>
<rect x="68.41" y="141.64" width="0.90" height="0.90" fill="#5c83b8"/>
<rect x="68.41" y="140.33" width="0.90" height="0.90" fill="#94afd3"/>
<rect x="68.41" y="138.80" width="0.90" height="0.90" fill="#14305e"/>
<rect x="68.41" y="137.39" width="0.90" height="0.90" fill="#14305e"/>
<rect x="68.41" y="136.17" width="0.90" height="0.90" fill="#2e5f9e"/>
<rect x="68.41" y="135.21" width="0.90" height="0.90" fill="#14305e"/>
<rect x="68.41" y="134.27" width="0.90" height="0.90" fill="#14305e"/>
<rect x="68.41" y="132.52" width="0.90" height="0.90" fill="#14305e"/>
<rect x="62.40" y="141.64" width="0.90" height="0.90" fill="#5c83b8"/>
<rect x="62.40" y="139.89" width="0.90" height="0.90" fill="#94afd3"/>
<rect x="62.40" y="138.94" width="0.90" height="0.90" fill="#5c83b8"/>
<rect x="62.40" y="137.40" width="0.90" height="0.90" fill="#5c83b8"/>
<rect x="62.40" y="135.87" width="0.90" height="0.90" fill="#5c83b8"/>
<rect x="62.40" y="134.68" width="0.90" height="0.90" fill="#5c83b8"/>
<rect x="62.40" y="132.72" width="0.90" height="0.90" fill="#14305e"/>
<rect x="62.40" y="131.43" width="0.90" height="0.90" fill="#5c83b8"/>
<rect x="62.40" y="129.61" width="0.90" height="0.90" fill="#14305e"/>
<rect x="62.40" y="128.58" width="0.90" height="0.90" fill="#5c83b8"/>
<rect x="58.80" y="132.44" width="0.80" height="0.80" fill="#c4d3e8"/>
<rect x="63.17" y="127.67" width="0.80" height="0.80" fill="#94afd3"/>
<rect x="61.00" y="127.94" width="0.80" height="0.80" fill="#94afd3"/>
<rect x="56.28" y="129.27" width="0.80" height="0.80" fill="#c4d3e8"/>
<rect x="56.58" y="129.87" width="0.80" height="0.80" fill="#c4d3e8"/>
<rect x="62.54" y="127.93" width="0.80" height="0.80" fill="#94afd3"/>
<rect x="67.16" y="130.06" width="0.80" height="0.80" fill="#94afd3"/>
<rect x="55.38" y="129.45" width="0.80" height="0.80" fill="#c4d3e8"/>
<rect x="70.20" y="141.70" width="13.80" height="27.26" fill="#c9112f"/>
<rect x="70.20" y="133.35" width="0.50" height="8.74" fill="url(#gr)"/>
<rect x="70.20" y="137.68" width="0.50" height="4.02" fill="#c9112f"/>
<rect x="70.70" y="127.86" width="0.50" height="14.23" fill="url(#gr)"/>
<rect x="70.70" y="135.06" width="0.50" height="6.64" fill="#c9112f"/>
<rect x="71.20" y="129.30" width="0.50" height="12.79" fill="url(#gr)"/>
<rect x="71.20" y="140.32" width="0.50" height="1.38" fill="#c9112f"/>
<rect x="71.70" y="131.87" width="0.50" height="10.22" fill="url(#gr)"/>
<rect x="72.20" y="126.83" width="0.50" height="15.25" fill="url(#gr)"/>
<rect x="72.20" y="138.75" width="0.50" height="2.95" fill="#c9112f"/>
<rect x="72.70" y="131.47" width="0.50" height="10.62" fill="url(#gr)"/>
<rect x="73.20" y="129.02" width="0.50" height="13.07" fill="url(#gr)"/>
<rect x="73.20" y="137.38" width="0.50" height="4.33" fill="#c9112f"/>
<rect x="73.70" y="132.07" width="0.50" height="10.02" fill="url(#gr)"/>
<rect x="73.70" y="140.16" width="0.50" height="1.54" fill="#c9112f"/>
<rect x="74.20" y="122.89" width="0.50" height="19.20" fill="url(#gr)"/>
<rect x="74.20" y="138.71" width="0.50" height="2.99" fill="#c9112f"/>
<rect x="74.70" y="128.92" width="0.50" height="13.17" fill="url(#gr)"/>
<rect x="74.70" y="136.73" width="0.50" height="4.98" fill="#c9112f"/>
<rect x="75.20" y="129.84" width="0.50" height="12.25" fill="url(#gr)"/>
<rect x="75.20" y="138.52" width="0.50" height="3.18" fill="#c9112f"/>
<rect x="75.70" y="128.34" width="0.50" height="13.75" fill="url(#gr)"/>
<rect x="75.70" y="140.32" width="0.50" height="1.39" fill="#c9112f"/>
<rect x="75.70" y="131.13" width="0.50" height="6.14" fill="#ffffff" opacity="0.55"/>
<rect x="76.20" y="130.27" width="0.50" height="11.82" fill="url(#gr)"/>
<rect x="76.20" y="141.12" width="0.50" height="0.58" fill="#c9112f"/>
<rect x="76.70" y="130.06" width="0.50" height="12.03" fill="url(#gr)"/>
<rect x="76.70" y="139.34" width="0.50" height="2.37" fill="#c9112f"/>
<rect x="77.20" y="131.08" width="0.50" height="11.01" fill="url(#gr)"/>
<rect x="77.20" y="121.76" width="0.50" height="19.94" fill="#c9112f"/>
<rect x="77.70" y="129.79" width="0.50" height="12.30" fill="url(#gr)"/>
<rect x="77.70" y="133.11" width="0.50" height="8.59" fill="#c9112f"/>
<rect x="77.70" y="128.74" width="0.50" height="6.14" fill="#ffffff" opacity="0.55"/>
<rect x="78.20" y="127.92" width="0.50" height="14.16" fill="url(#gr)"/>
<rect x="78.70" y="131.40" width="0.50" height="10.68" fill="url(#gr)"/>
<rect x="78.70" y="136.52" width="0.50" height="5.18" fill="#c9112f"/>
<rect x="79.20" y="131.28" width="0.50" height="10.81" fill="url(#gr)"/>
<rect x="79.20" y="139.86" width="0.50" height="1.84" fill="#c9112f"/>
<rect x="79.70" y="130.28" width="0.50" height="11.81" fill="url(#gr)"/>
<rect x="80.20" y="122.89" width="0.50" height="19.20" fill="url(#gr)"/>
<rect x="80.70" y="133.88" width="0.50" height="8.21" fill="url(#gr)"/>
<rect x="80.70" y="139.63" width="0.50" height="2.07" fill="#c9112f"/>
<rect x="80.70" y="125.70" width="0.50" height="6.14" fill="#ffffff" opacity="0.55"/>
<rect x="81.20" y="131.94" width="0.50" height="10.14" fill="url(#gr)"/>
<rect x="81.20" y="139.71" width="0.50" height="2.00" fill="#c9112f"/>
<rect x="81.70" y="132.98" width="0.50" height="9.11" fill="url(#gr)"/>
<rect x="81.70" y="139.90" width="0.50" height="1.80" fill="#c9112f"/>
<rect x="82.20" y="129.63" width="0.50" height="12.46" fill="url(#gr)"/>
<rect x="82.20" y="141.09" width="0.50" height="0.62" fill="#c9112f"/>
<rect x="82.20" y="132.96" width="0.50" height="6.14" fill="#ffffff" opacity="0.55"/>
<rect x="82.70" y="129.38" width="0.50" height="12.71" fill="url(#gr)"/>
<rect x="82.70" y="136.70" width="0.50" height="5.00" fill="#c9112f"/>
<rect x="83.20" y="134.79" width="0.50" height="7.30" fill="url(#gr)"/>
<rect x="83.20" y="135.36" width="0.50" height="6.34" fill="#c9112f"/>
<rect x="83.20" y="126.06" width="0.50" height="6.14" fill="#ffffff" opacity="0.55"/>
<rect x="83.70" y="131.88" width="0.30" height="10.21" fill="url(#gr)"/>
<rect x="83.70" y="133.76" width="0.30" height="7.94" fill="#c9112f"/>
<rect x="77.29" y="141.64" width="0.90" height="0.90" fill="#eea0ab"/>
<rect x="77.29" y="140.55" width="0.90" height="0.90" fill="#e36a7c"/>
<rect x="77.29" y="138.93" width="0.90" height="0.90" fill="#8e0f24"/>
<rect x="77.29" y="137.29" width="0.90" height="0.90" fill="#e36a7c"/>
<rect x="77.29" y="135.38" width="0.90" height="0.90" fill="#8e0f24"/>
<rect x="77.29" y="134.28" width="0.90" height="0.90" fill="#8e0f24"/>
<rect x="77.29" y="133.20" width="0.90" height="0.90" fill="#e36a7c"/>
<rect x="77.29" y="131.54" width="0.90" height="0.90" fill="#e36a7c"/>
<rect x="77.29" y="129.72" width="0.90" height="0.90" fill="#e36a7c"/>
<rect x="77.29" y="127.70" width="0.90" height="0.90" fill="#e36a7c"/>
<rect x="77.29" y="126.23" width="0.90" height="0.90" fill="#e36a7c"/>
<rect x="78.57" y="141.64" width="0.90" height="0.90" fill="#8e0f24"/>
<rect x="78.57" y="139.93" width="0.90" height="0.90" fill="#e36a7c"/>
<rect x="78.57" y="138.28" width="0.90" height="0.90" fill="#e36a7c"/>
<rect x="78.57" y="136.26" width="0.90" height="0.90" fill="#e36a7c"/>
<rect x="78.57" y="134.32" width="0.90" height="0.90" fill="#8e0f24"/>
<rect x="78.57" y="133.33" width="0.90" height="0.90" fill="#8e0f24"/>
<rect x="78.57" y="131.92" width="0.90" height="0.90" fill="#d8344e"/>
<rect x="74.04" y="126.86" width="0.80" height="0.80" fill="#eea0ab"/>
<rect x="77.80" y="128.62" width="0.80" height="0.80" fill="#f5c6cc"/>
<rect x="76.88" y="131.01" width="0.80" height="0.80" fill="#f5c6cc"/>
<rect x="74.94" y="127.04" width="0.80" height="0.80" fill="#eea0ab"/>
<rect x="81.27" y="130.34" width="0.80" height="0.80" fill="#eea0ab"/>
<rect x="76.33" y="127.00" width="0.80" height="0.80" fill="#f5c6cc"/>
<rect x="81.38" y="130.91" width="0.80" height="0.80" fill="#f5c6cc"/>
<rect x="74.21" y="126.80" width="0.80" height="0.80" fill="#eea0ab"/>
<rect x="84.00" y="141.70" width="11.80" height="27.26" fill="#1a4f91"/>
<rect x="84.00" y="131.89" width="0.50" height="10.20" fill="url(#gb)"/>
<rect x="84.50" y="132.02" width="0.50" height="10.07" fill="url(#gb)"/>
<rect x="84.50" y="140.25" width="0.50" height="1.46" fill="#1a4f91"/>
<rect x="85.00" y="132.88" width="0.50" height="9.21" fill="url(#gb)"/>
<rect x="85.50" y="128.98" width="0.50" height="13.11" fill="url(#gb)"/>
<rect x="85.50" y="138.87" width="0.50" height="2.83" fill="#1a4f91"/>
<rect x="86.00" y="131.64" width="0.50" height="10.45" fill="url(#gb)"/>
<rect x="86.00" y="138.86" width="0.50" height="2.84" fill="#1a4f91"/>
<rect x="86.50" y="134.27" width="0.50" height="7.81" fill="url(#gb)"/>
<rect x="86.50" y="139.86" width="0.50" height="1.85" fill="#1a4f91"/>
<rect x="87.00" y="127.96" width="0.50" height="14.13" fill="url(#gb)"/>
<rect x="87.00" y="140.44" width="0.50" height="1.26" fill="#1a4f91"/>
<rect x="87.50" y="132.84" width="0.50" height="9.25" fill="url(#gb)"/>
<rect x="87.50" y="140.58" width="0.50" height="1.12" fill="#1a4f91"/>
<rect x="88.00" y="126.93" width="0.50" height="15.16" fill="url(#gb)"/>
<rect x="88.00" y="140.71" width="0.50" height="1.00" fill="#1a4f91"/>
<rect x="88.50" y="132.14" width="0.50" height="9.95" fill="url(#gb)"/>
<rect x="88.50" y="141.23" width="0.50" height="0.48" fill="#1a4f91"/>
<rect x="89.00" y="129.05" width="0.50" height="13.03" fill="url(#gb)"/>
<rect x="89.00" y="137.73" width="0.50" height="3.97" fill="#1a4f91"/>
<rect x="89.50" y="133.82" width="0.50" height="8.27" fill="url(#gb)"/>
<rect x="89.50" y="137.04" width="0.50" height="4.67" fill="#1a4f91"/>
<rect x="90.00" y="135.01" width="0.50" height="7.08" fill="url(#gb)"/>
<rect x="90.00" y="139.98" width="0.50" height="1.72" fill="#1a4f91"/>
<rect x="90.50" y="127.75" width="0.50" height="14.33" fill="url(#gb)"/>
<rect x="90.50" y="138.12" width="0.50" height="3.58" fill="#1a4f91"/>
<rect x="90.50" y="129.37" width="0.50" height="6.14" fill="#ffffff" opacity="0.55"/>
<rect x="91.00" y="128.86" width="0.50" height="13.23" fill="url(#gb)"/>
<rect x="91.00" y="138.77" width="0.50" height="2.93" fill="#1a4f91"/>
<rect x="91.50" y="134.53" width="0.50" height="7.56" fill="url(#gb)"/>
<rect x="92.00" y="129.43" width="0.50" height="12.66" fill="url(#gb)"/>
<rect x="92.00" y="138.52" width="0.50" height="3.18" fill="#1a4f91"/>
<rect x="92.50" y="129.30" width="0.50" height="12.78" fill="url(#gb)"/>
<rect x="92.50" y="140.80" width="0.50" height="0.90" fill="#1a4f91"/>
<rect x="93.00" y="130.01" width="0.50" height="12.08" fill="url(#gb)"/>
<rect x="93.00" y="140.01" width="0.50" height="1.69" fill="#1a4f91"/>
<rect x="93.50" y="129.74" width="0.50" height="12.35" fill="url(#gb)"/>
<rect x="93.50" y="140.54" width="0.50" height="1.16" fill="#1a4f91"/>
<rect x="94.00" y="130.06" width="0.50" height="12.03" fill="url(#gb)"/>
<rect x="94.00" y="138.11" width="0.50" height="3.60" fill="#1a4f91"/>
<rect x="94.50" y="128.35" width="0.50" height="13.74" fill="url(#gb)"/>
<rect x="94.50" y="139.46" width="0.50" height="2.24" fill="#1a4f91"/>
<rect x="95.00" y="129.72" width="0.50" height="12.37" fill="url(#gb)"/>
<rect x="95.00" y="140.50" width="0.50" height="1.20" fill="#1a4f91"/>
<rect x="95.50" y="134.05" width="0.30" height="8.03" fill="url(#gb)"/>
<rect x="95.50" y="131.37" width="0.30" height="10.34" fill="#1a4f91"/>
<rect x="86.28" y="141.64" width="0.90" height="0.90" fill="#5c83b8"/>
<rect x="86.28" y="140.40" width="0.90" height="0.90" fill="#94afd3"/>
<rect x="86.28" y="139.12" width="0.90" height="0.90" fill="#14305e"/>
<rect x="86.28" y="137.46" width="0.90" height="0.90" fill="#5c83b8"/>
<rect x="86.28" y="135.48" width="0.90" height="0.90" fill="#2e5f9e"/>
<rect x="86.28" y="133.89" width="0.90" height="0.90" fill="#2e5f9e"/>
<rect x="86.28" y="132.61" width="0.90" height="0.90" fill="#14305e"/>
<rect x="90.74" y="141.64" width="0.90" height="0.90" fill="#5c83b8"/>
<rect x="90.74" y="140.21" width="0.90" height="0.90" fill="#94afd3"/>
<rect x="90.74" y="139.09" width="0.90" height="0.90" fill="#5c83b8"/>
<rect x="90.74" y="137.44" width="0.90" height="0.90" fill="#94afd3"/>
<rect x="90.74" y="135.54" width="0.90" height="0.90" fill="#94afd3"/>
<rect x="90.74" y="133.56" width="0.90" height="0.90" fill="#14305e"/>
<rect x="90.74" y="132.01" width="0.90" height="0.90" fill="#94afd3"/>
<rect x="90.74" y="130.10" width="0.90" height="0.90" fill="#14305e"/>
<rect x="90.74" y="128.92" width="0.90" height="0.90" fill="#14305e"/>
<rect x="95.52" y="126.12" width="0.80" height="0.80" fill="#c4d3e8"/>
<rect x="93.29" y="132.62" width="0.80" height="0.80" fill="#94afd3"/>
<rect x="94.53" y="124.03" width="0.80" height="0.80" fill="#c4d3e8"/>
<rect x="89.31" y="131.66" width="0.80" height="0.80" fill="#c4d3e8"/>
<rect x="91.15" y="132.14" width="0.80" height="0.80" fill="#94afd3"/>
<rect x="93.11" y="132.20" width="0.80" height="0.80" fill="#94afd3"/>
<rect x="95.80" y="141.70" width="12.90" height="27.26" fill="#c9112f"/>
<rect x="95.80" y="133.13" width="0.50" height="8.96" fill="url(#gr)"/>
<rect x="96.30" y="135.17" width="0.50" height="6.92" fill="url(#gr)"/>
<rect x="96.30" y="137.60" width="0.50" height="4.11" fill="#c9112f"/>
<rect x="96.80" y="130.67" width="0.50" height="11.42" fill="url(#gr)"/>
<rect x="97.30" y="131.58" width="0.50" height="10.51" fill="url(#gr)"/>
<rect x="97.30" y="139.77" width="0.50" height="1.94" fill="#c9112f"/>
<rect x="97.80" y="132.84" width="0.50" height="9.24" fill="url(#gr)"/>
<rect x="97.80" y="140.52" width="0.50" height="1.18" fill="#c9112f"/>
<rect x="98.30" y="134.48" width="0.50" height="7.61" fill="url(#gr)"/>
<rect x="98.30" y="141.19" width="0.50" height="0.51" fill="#c9112f"/>
<rect x="98.80" y="125.66" width="0.50" height="16.43" fill="url(#gr)"/>
<rect x="98.80" y="140.89" width="0.50" height="0.82" fill="#c9112f"/>
<rect x="99.30" y="134.59" width="0.50" height="7.50" fill="url(#gr)"/>
<rect x="99.30" y="140.32" width="0.50" height="1.38" fill="#c9112f"/>
<rect x="99.80" y="132.41" width="0.50" height="9.67" fill="url(#gr)"/>
<rect x="100.30" y="131.63" width="0.50" height="10.46" fill="url(#gr)"/>
<rect x="100.30" y="137.82" width="0.50" height="3.88" fill="#c9112f"/>
<rect x="100.80" y="135.08" width="0.50" height="7.01" fill="url(#gr)"/>
<rect x="100.80" y="138.99" width="0.50" height="2.72" fill="#c9112f"/>
<rect x="101.30" y="130.84" width="0.50" height="11.24" fill="url(#gr)"/>
<rect x="101.80" y="126.10" width="0.50" height="15.99" fill="url(#gr)"/>
<rect x="101.80" y="140.95" width="0.50" height="0.75" fill="#c9112f"/>
<rect x="102.30" y="129.77" width="0.50" height="12.32" fill="url(#gr)"/>
<rect x="102.30" y="140.61" width="0.50" height="1.09" fill="#c9112f"/>
<rect x="102.80" y="129.17" width="0.50" height="12.92" fill="url(#gr)"/>
<rect x="102.80" y="140.83" width="0.50" height="0.88" fill="#c9112f"/>
<rect x="103.30" y="130.85" width="0.50" height="11.23" fill="url(#gr)"/>
<rect x="103.30" y="140.82" width="0.50" height="0.88" fill="#c9112f"/>
<rect x="103.80" y="134.16" width="0.50" height="7.93" fill="url(#gr)"/>
<rect x="103.80" y="139.22" width="0.50" height="2.48" fill="#c9112f"/>
<rect x="104.30" y="133.79" width="0.50" height="8.29" fill="url(#gr)"/>
<rect x="104.30" y="137.72" width="0.50" height="3.98" fill="#c9112f"/>
<rect x="104.80" y="133.96" width="0.50" height="8.13" fill="url(#gr)"/>
<rect x="105.30" y="134.62" width="0.50" height="7.47" fill="url(#gr)"/>
<rect x="105.30" y="140.48" width="0.50" height="1.22" fill="#c9112f"/>
<rect x="105.80" y="130.21" width="0.50" height="11.88" fill="url(#gr)"/>
<rect x="105.80" y="137.93" width="0.50" height="3.78" fill="#c9112f"/>
<rect x="106.30" y="132.63" width="0.50" height="9.46" fill="url(#gr)"/>
<rect x="106.80" y="129.80" width="0.50" height="12.29" fill="url(#gr)"/>
<rect x="106.80" y="138.28" width="0.50" height="3.42" fill="#c9112f"/>
<rect x="107.30" y="129.27" width="0.50" height="12.82" fill="url(#gr)"/>
<rect x="107.30" y="140.78" width="0.50" height="0.92" fill="#c9112f"/>
<rect x="107.80" y="134.36" width="0.50" height="7.73" fill="url(#gr)"/>
<rect x="107.80" y="140.14" width="0.50" height="1.56" fill="#c9112f"/>
<rect x="108.30" y="128.84" width="0.40" height="13.25" fill="url(#gr)"/>
<rect x="106.87" y="141.64" width="0.90" height="0.90" fill="#8e0f24"/>
<rect x="106.87" y="140.14" width="0.90" height="0.90" fill="#8e0f24"/>
<rect x="106.87" y="138.40" width="0.90" height="0.90" fill="#e36a7c"/>
<rect x="106.87" y="136.82" width="0.90" height="0.90" fill="#8e0f24"/>
<rect x="106.87" y="135.14" width="0.90" height="0.90" fill="#e36a7c"/>
<rect x="106.87" y="133.94" width="0.90" height="0.90" fill="#e36a7c"/>
<rect x="106.87" y="132.64" width="0.90" height="0.90" fill="#e36a7c"/>
<rect x="106.87" y="131.41" width="0.90" height="0.90" fill="#eea0ab"/>
<rect x="106.87" y="129.36" width="0.90" height="0.90" fill="#8e0f24"/>
<rect x="102.66" y="141.64" width="0.90" height="0.90" fill="#e36a7c"/>
<rect x="102.66" y="140.52" width="0.90" height="0.90" fill="#e36a7c"/>
<rect x="102.66" y="138.91" width="0.90" height="0.90" fill="#8e0f24"/>
<rect x="102.66" y="137.04" width="0.90" height="0.90" fill="#8e0f24"/>
<rect x="102.66" y="135.08" width="0.90" height="0.90" fill="#8e0f24"/>
<rect x="102.66" y="133.50" width="0.90" height="0.90" fill="#e36a7c"/>
<rect x="102.66" y="131.89" width="0.90" height="0.90" fill="#eea0ab"/>
<rect x="102.66" y="130.93" width="0.90" height="0.90" fill="#8e0f24"/>
<rect x="102.66" y="128.87" width="0.90" height="0.90" fill="#e36a7c"/>
<rect x="104.46" y="127.16" width="0.80" height="0.80" fill="#f5c6cc"/>
<rect x="103.74" y="128.51" width="0.80" height="0.80" fill="#eea0ab"/>
<rect x="97.85" y="130.61" width="0.80" height="0.80" fill="#eea0ab"/>
<rect x="97.64" y="130.79" width="0.80" height="0.80" fill="#f5c6cc"/>
<rect x="98.04" y="129.74" width="0.80" height="0.80" fill="#f5c6cc"/>
<rect x="96.49" y="126.33" width="0.80" height="0.80" fill="#eea0ab"/>
<rect x="108.70" y="141.70" width="11.10" height="27.26" fill="#1a4f91"/>
<rect x="108.70" y="132.08" width="0.50" height="10.01" fill="url(#gb)"/>
<rect x="109.20" y="128.29" width="0.50" height="13.80" fill="url(#gb)"/>
<rect x="109.20" y="139.88" width="0.50" height="1.83" fill="#1a4f91"/>
<rect x="109.70" y="133.01" width="0.50" height="9.07" fill="url(#gb)"/>
<rect x="109.70" y="140.34" width="0.50" height="1.37" fill="#1a4f91"/>
<rect x="110.20" y="129.87" width="0.50" height="12.21" fill="url(#gb)"/>
<rect x="110.20" y="125.75" width="0.50" height="6.14" fill="#ffffff" opacity="0.55"/>
<rect x="110.70" y="132.64" width="0.50" height="9.45" fill="url(#gb)"/>
<rect x="110.70" y="140.51" width="0.50" height="1.20" fill="#1a4f91"/>
<rect x="110.70" y="126.05" width="0.50" height="6.14" fill="#ffffff" opacity="0.55"/>
<rect x="111.20" y="132.90" width="0.50" height="9.19" fill="url(#gb)"/>
<rect x="111.20" y="140.46" width="0.50" height="1.25" fill="#1a4f91"/>
<rect x="111.70" y="132.70" width="0.50" height="9.38" fill="url(#gb)"/>
<rect x="111.70" y="137.00" width="0.50" height="4.70" fill="#1a4f91"/>
<rect x="112.20" y="133.30" width="0.50" height="8.79" fill="url(#gb)"/>
<rect x="112.20" y="141.10" width="0.50" height="0.61" fill="#1a4f91"/>
<rect x="112.70" y="127.71" width="0.50" height="14.38" fill="url(#gb)"/>
<rect x="113.20" y="130.99" width="0.50" height="11.10" fill="url(#gb)"/>
<rect x="113.20" y="135.52" width="0.50" height="6.18" fill="#1a4f91"/>
<rect x="113.70" y="127.50" width="0.50" height="14.59" fill="url(#gb)"/>
<rect x="113.70" y="137.20" width="0.50" height="4.50" fill="#1a4f91"/>
<rect x="114.20" y="130.98" width="0.50" height="11.11" fill="url(#gb)"/>
<rect x="114.20" y="141.31" width="0.50" height="0.39" fill="#1a4f91"/>
<rect x="114.70" y="131.71" width="0.50" height="10.38" fill="url(#gb)"/>
<rect x="114.70" y="140.10" width="0.50" height="1.61" fill="#1a4f91"/>
<rect x="114.70" y="126.28" width="0.50" height="6.14" fill="#ffffff" opacity="0.55"/>
<rect x="115.20" y="130.75" width="0.50" height="11.33" fill="url(#gb)"/>
<rect x="115.20" y="140.93" width="0.50" height="0.77" fill="#1a4f91"/>
<rect x="115.70" y="133.21" width="0.50" height="8.88" fill="url(#gb)"/>
<rect x="115.70" y="140.39" width="0.50" height="1.31" fill="#1a4f91"/>
<rect x="116.20" y="134.09" width="0.50" height="8.00" fill="url(#gb)"/>
<rect x="116.20" y="141.13" width="0.50" height="0.58" fill="#1a4f91"/>
<rect x="116.70" y="131.68" width="0.50" height="10.41" fill="url(#gb)"/>
<rect x="116.70" y="140.84" width="0.50" height="0.86" fill="#1a4f91"/>
<rect x="116.70" y="127.25" width="0.50" height="6.14" fill="#ffffff" opacity="0.55"/>
<rect x="117.20" y="129.21" width="0.50" height="12.88" fill="url(#gb)"/>
<rect x="117.20" y="141.21" width="0.50" height="0.50" fill="#1a4f91"/>
<rect x="117.70" y="128.69" width="0.50" height="13.40" fill="url(#gb)"/>
<rect x="117.70" y="137.40" width="0.50" height="4.30" fill="#1a4f91"/>
<rect x="118.20" y="135.05" width="0.50" height="7.04" fill="url(#gb)"/>
<rect x="118.20" y="139.08" width="0.50" height="2.63" fill="#1a4f91"/>
<rect x="118.70" y="122.89" width="0.50" height="19.20" fill="url(#gb)"/>
<rect x="118.70" y="133.50" width="0.50" height="8.21" fill="#1a4f91"/>
<rect x="119.20" y="132.83" width="0.50" height="9.26" fill="url(#gb)"/>
<rect x="119.20" y="134.57" width="0.50" height="7.14" fill="#1a4f91"/>
<rect x="119.70" y="131.95" width="0.10" height="10.14" fill="url(#gb)"/>
<rect x="119.70" y="140.81" width="0.10" height="0.89" fill="#1a4f91"/>
<rect x="116.91" y="141.64" width="0.90" height="0.90" fill="#14305e"/>
<rect x="116.91" y="139.72" width="0.90" height="0.90" fill="#14305e"/>
<rect x="116.91" y="138.01" width="0.90" height="0.90" fill="#14305e"/>
<rect x="116.91" y="136.25" width="0.90" height="0.90" fill="#5c83b8"/>
<rect x="116.91" y="134.42" width="0.90" height="0.90" fill="#14305e"/>
<rect x="116.91" y="132.74" width="0.90" height="0.90" fill="#5c83b8"/>
<rect x="116.91" y="130.69" width="0.90" height="0.90" fill="#5c83b8"/>
<rect x="111.94" y="141.64" width="0.90" height="0.90" fill="#14305e"/>
<rect x="111.94" y="139.58" width="0.90" height="0.90" fill="#2e5f9e"/>
<rect x="111.94" y="138.05" width="0.90" height="0.90" fill="#14305e"/>
<rect x="111.94" y="136.44" width="0.90" height="0.90" fill="#14305e"/>
<rect x="111.94" y="135.23" width="0.90" height="0.90" fill="#2e5f9e"/>
<rect x="111.94" y="134.12" width="0.90" height="0.90" fill="#5c83b8"/>
<rect x="111.94" y="132.91" width="0.90" height="0.90" fill="#14305e"/>
<rect x="111.94" y="131.36" width="0.90" height="0.90" fill="#14305e"/>
<rect x="111.94" y="129.40" width="0.90" height="0.90" fill="#2e5f9e"/>
<rect x="118.87" y="129.12" width="0.80" height="0.80" fill="#94afd3"/>
<rect x="119.01" y="129.92" width="0.80" height="0.80" fill="#94afd3"/>
<rect x="109.41" y="126.47" width="0.80" height="0.80" fill="#c4d3e8"/>
<rect x="112.26" y="130.05" width="0.80" height="0.80" fill="#94afd3"/>
<rect x="114.44" y="129.87" width="0.80" height="0.80" fill="#94afd3"/>
<rect x="115.29" y="126.58" width="0.80" height="0.80" fill="#94afd3"/>
<rect x="119.80" y="141.70" width="10.60" height="27.26" fill="#c9112f"/>
<rect x="119.80" y="128.72" width="0.50" height="13.37" fill="url(#gr)"/>
<rect x="119.80" y="138.45" width="0.50" height="3.25" fill="#c9112f"/>
<rect x="120.30" y="127.04" width="0.50" height="15.05" fill="url(#gr)"/>
<rect x="120.30" y="141.16" width="0.50" height="0.55" fill="#c9112f"/>
<rect x="120.80" y="128.55" width="0.50" height="13.53" fill="url(#gr)"/>
<rect x="120.80" y="138.95" width="0.50" height="2.75" fill="#c9112f"/>
<rect x="121.30" y="127.97" width="0.50" height="14.12" fill="url(#gr)"/>
<rect x="121.80" y="131.84" width="0.50" height="10.25" fill="url(#gr)"/>
<rect x="121.80" y="141.03" width="0.50" height="0.67" fill="#c9112f"/>
<rect x="122.30" y="134.62" width="0.50" height="7.47" fill="url(#gr)"/>
<rect x="122.30" y="139.86" width="0.50" height="1.85" fill="#c9112f"/>
<rect x="122.80" y="128.61" width="0.50" height="13.48" fill="url(#gr)"/>
<rect x="122.80" y="140.89" width="0.50" height="0.82" fill="#c9112f"/>
<rect x="122.80" y="131.51" width="0.50" height="6.14" fill="#ffffff" opacity="0.55"/>
<rect x="123.30" y="130.41" width="0.50" height="11.68" fill="url(#gr)"/>
<rect x="123.30" y="141.03" width="0.50" height="0.67" fill="#c9112f"/>
<rect x="123.80" y="134.50" width="0.50" height="7.59" fill="url(#gr)"/>
<rect x="123.80" y="141.29" width="0.50" height="0.41" fill="#c9112f"/>
<rect x="124.30" y="133.95" width="0.50" height="8.14" fill="url(#gr)"/>
<rect x="124.30" y="137.80" width="0.50" height="3.90" fill="#c9112f"/>
<rect x="124.80" y="134.71" width="0.50" height="7.38" fill="url(#gr)"/>
<rect x="124.80" y="140.71" width="0.50" height="0.99" fill="#c9112f"/>
<rect x="125.30" y="125.66" width="0.50" height="16.43" fill="url(#gr)"/>
<rect x="125.30" y="138.56" width="0.50" height="3.14" fill="#c9112f"/>
<rect x="125.80" y="134.07" width="0.50" height="8.02" fill="url(#gr)"/>
<rect x="125.80" y="138.71" width="0.50" height="3.00" fill="#c9112f"/>
<rect x="125.80" y="132.19" width="0.50" height="6.14" fill="#ffffff" opacity="0.55"/>
<rect x="126.30" y="126.81" width="0.50" height="15.28" fill="url(#gr)"/>
<rect x="126.30" y="140.93" width="0.50" height="0.78" fill="#c9112f"/>
<rect x="126.80" y="122.89" width="0.50" height="19.20" fill="url(#gr)"/>
<rect x="126.80" y="138.54" width="0.50" height="3.16" fill="#c9112f"/>
<rect x="127.30" y="130.94" width="0.50" height="11.14" fill="url(#gr)"/>
<rect x="127.30" y="141.10" width="0.50" height="0.61" fill="#c9112f"/>
<rect x="127.80" y="128.01" width="0.50" height="14.07" fill="url(#gr)"/>
<rect x="127.80" y="140.80" width="0.50" height="0.90" fill="#c9112f"/>
<rect x="128.30" y="128.90" width="0.50" height="13.19" fill="url(#gr)"/>
<rect x="128.30" y="139.40" width="0.50" height="2.30" fill="#c9112f"/>
<rect x="128.30" y="131.25" width="0.50" height="6.14" fill="#ffffff" opacity="0.55"/>
<rect x="128.80" y="129.84" width="0.50" height="12.25" fill="url(#gr)"/>
<rect x="128.80" y="139.74" width="0.50" height="1.96" fill="#c9112f"/>
<rect x="129.30" y="131.62" width="0.50" height="10.46" fill="url(#gr)"/>
<rect x="129.30" y="137.64" width="0.50" height="4.06" fill="#c9112f"/>
<rect x="129.80" y="127.86" width="0.50" height="14.22" fill="url(#gr)"/>
<rect x="129.80" y="141.26" width="0.50" height="0.45" fill="#c9112f"/>
<rect x="130.30" y="133.18" width="0.10" height="8.91" fill="url(#gr)"/>
<rect x="130.30" y="140.32" width="0.10" height="1.38" fill="#c9112f"/>
<rect x="124.50" y="141.64" width="0.90" height="0.90" fill="#eea0ab"/>
<rect x="124.50" y="140.48" width="0.90" height="0.90" fill="#8e0f24"/>
<rect x="124.50" y="139.48" width="0.90" height="0.90" fill="#e36a7c"/>
<rect x="124.50" y="137.46" width="0.90" height="0.90" fill="#e36a7c"/>
<rect x="124.50" y="135.68" width="0.90" height="0.90" fill="#e36a7c"/>
<rect x="124.50" y="134.45" width="0.90" height="0.90" fill="#8e0f24"/>
<rect x="124.50" y="133.36" width="0.90" height="0.90" fill="#e36a7c"/>
<rect x="124.50" y="132.28" width="0.90" height="0.90" fill="#8e0f24"/>
<rect x="124.50" y="130.39" width="0.90" height="0.90" fill="#8e0f24"/>
<rect x="124.50" y="128.32" width="0.90" height="0.90" fill="#eea0ab"/>
<rect x="124.50" y="127.30" width="0.90" height="0.90" fill="#e36a7c"/>
<rect x="124.50" y="126.08" width="0.90" height="0.90" fill="#d8344e"/>
<rect x="124.50" y="124.81" width="0.90" height="0.90" fill="#eea0ab"/>
<rect x="121.40" y="129.01" width="0.80" height="0.80" fill="#eea0ab"/>
<rect x="122.01" y="130.62" width="0.80" height="0.80" fill="#f5c6cc"/>
<rect x="125.57" y="132.25" width="0.80" height="0.80" fill="#f5c6cc"/>
<rect x="123.13" y="130.31" width="0.80" height="0.80" fill="#f5c6cc"/>
<rect x="121.36" y="131.89" width="0.80" height="0.80" fill="#f5c6cc"/>
<rect x="125.47" y="130.33" width="0.80" height="0.80" fill="#eea0ab"/>
<rect x="130.40" y="141.70" width="10.00" height="27.26" fill="#1a4f91"/>
<rect x="130.40" y="132.21" width="0.50" height="9.88" fill="url(#gb)"/>
<rect x="130.40" y="141.14" width="0.50" height="0.56" fill="#1a4f91"/>
<rect x="130.90" y="132.40" width="0.50" height="9.69" fill="url(#gb)"/>
<rect x="131.40" y="130.83" width="0.50" height="11.26" fill="url(#gb)"/>
<rect x="131.40" y="133.56" width="0.50" height="8.15" fill="#1a4f91"/>
<rect x="131.90" y="130.03" width="0.50" height="12.06" fill="url(#gb)"/>
<rect x="131.90" y="141.17" width="0.50" height="0.53" fill="#1a4f91"/>
<rect x="132.40" y="130.06" width="0.50" height="12.03" fill="url(#gb)"/>
<rect x="132.40" y="137.25" width="0.50" height="4.45" fill="#1a4f91"/>
<rect x="132.90" y="128.60" width="0.50" height="13.48" fill="url(#gb)"/>
<rect x="132.90" y="140.61" width="0.50" height="1.09" fill="#1a4f91"/>
<rect x="132.90" y="130.87" width="0.50" height="6.14" fill="#ffffff" opacity="0.55"/>
<rect x="133.40" y="132.66" width="0.50" height="9.43" fill="url(#gb)"/>
<rect x="133.40" y="140.98" width="0.50" height="0.72" fill="#1a4f91"/>
<rect x="133.40" y="130.70" width="0.50" height="6.14" fill="#ffffff" opacity="0.55"/>
<rect x="133.90" y="128.16" width="0.50" height="13.92" fill="url(#gb)"/>
<rect x="133.90" y="141.10" width="0.50" height="0.60" fill="#1a4f91"/>
<rect x="133.90" y="131.26" width="0.50" height="6.14" fill="#ffffff" opacity="0.55"/>
<rect x="134.40" y="129.25" width="0.50" height="12.84" fill="url(#gb)"/>
<rect x="134.40" y="139.05" width="0.50" height="2.65" fill="#1a4f91"/>
<rect x="134.90" y="128.27" width="0.50" height="13.81" fill="url(#gb)"/>
<rect x="134.90" y="140.71" width="0.50" height="0.99" fill="#1a4f91"/>
<rect x="134.90" y="130.68" width="0.50" height="6.14" fill="#ffffff" opacity="0.55"/>
<rect x="135.40" y="134.76" width="0.50" height="7.33" fill="url(#gb)"/>
<rect x="135.40" y="139.77" width="0.50" height="1.93" fill="#1a4f91"/>
<rect x="135.90" y="132.60" width="0.50" height="9.49" fill="url(#gb)"/>
<rect x="135.90" y="140.77" width="0.50" height="0.94" fill="#1a4f91"/>
<rect x="136.40" y="127.44" width="0.50" height="14.64" fill="url(#gb)"/>
<rect x="136.40" y="141.25" width="0.50" height="0.45" fill="#1a4f91"/>
<rect x="136.90" y="130.45" width="0.50" height="11.64" fill="url(#gb)"/>
<rect x="136.90" y="140.72" width="0.50" height="0.99" fill="#1a4f91"/>
<rect x="137.40" y="127.94" width="0.50" height="14.15" fill="url(#gb)"/>
<rect x="137.40" y="139.54" width="0.50" height="2.17" fill="#1a4f91"/>
<rect x="137.90" y="132.02" width="0.50" height="10.07" fill="url(#gb)"/>
<rect x="137.90" y="140.99" width="0.50" height="0.71" fill="#1a4f91"/>
<rect x="138.40" y="128.42" width="0.50" height="13.67" fill="url(#gb)"/>
<rect x="138.40" y="136.43" width="0.50" height="5.27" fill="#1a4f91"/>
<rect x="138.40" y="133.16" width="0.50" height="6.14" fill="#ffffff" opacity="0.55"/>
<rect x="138.90" y="131.28" width="0.50" height="10.81" fill="url(#gb)"/>
<rect x="138.90" y="140.72" width="0.50" height="0.98" fill="#1a4f91"/>
<rect x="139.40" y="133.23" width="0.50" height="8.86" fill="url(#gb)"/>
<rect x="139.40" y="139.20" width="0.50" height="2.50" fill="#1a4f91"/>
<rect x="139.90" y="135.17" width="0.50" height="6.92" fill="url(#gb)"/>
<rect x="139.90" y="140.61" width="0.50" height="1.10" fill="#1a4f91"/>
<rect x="135.24" y="141.64" width="0.90" height="0.90" fill="#5c83b8"/>
<rect x="135.24" y="140.41" width="0.90" height="0.90" fill="#14305e"/>
<rect x="135.24" y="139.47" width="0.90" height="0.90" fill="#5c83b8"/>
<rect x="135.24" y="137.75" width="0.90" height="0.90" fill="#5c83b8"/>
<rect x="135.24" y="135.87" width="0.90" height="0.90" fill="#14305e"/>
<rect x="135.24" y="134.24" width="0.90" height="0.90" fill="#5c83b8"/>
<rect x="135.24" y="132.89" width="0.90" height="0.90" fill="#14305e"/>
<rect x="135.24" y="131.10" width="0.90" height="0.90" fill="#5c83b8"/>
<rect x="135.24" y="129.44" width="0.90" height="0.90" fill="#14305e"/>
<rect x="139.57" y="127.17" width="0.80" height="0.80" fill="#94afd3"/>
<rect x="140.29" y="125.61" width="0.80" height="0.80" fill="#c4d3e8"/>
<rect x="131.53" y="130.31" width="0.80" height="0.80" fill="#c4d3e8"/>
<rect x="130.80" y="128.73" width="0.80" height="0.80" fill="#c4d3e8"/>
<rect x="139.10" y="132.64" width="0.80" height="0.80" fill="#c4d3e8"/>
<rect x="134.37" y="127.13" width="0.80" height="0.80" fill="#c4d3e8"/>
<rect x="140.40" y="141.70" width="8.30" height="27.26" fill="#c9112f"/>
<rect x="140.40" y="133.23" width="0.50" height="8.85" fill="url(#gr)"/>
<rect x="140.40" y="140.70" width="0.50" height="1.01" fill="#c9112f"/>
<rect x="140.90" y="133.77" width="0.50" height="8.32" fill="url(#gr)"/>
<rect x="140.90" y="141.20" width="0.50" height="0.50" fill="#c9112f"/>
<rect x="141.40" y="134.18" width="0.50" height="7.91" fill="url(#gr)"/>
<rect x="141.40" y="139.45" width="0.50" height="2.25" fill="#c9112f"/>
<rect x="141.40" y="127.59" width="0.50" height="6.14" fill="#ffffff" opacity="0.55"/>
<rect x="141.90" y="132.42" width="0.50" height="9.67" fill="url(#gr)"/>
<rect x="141.90" y="139.57" width="0.50" height="2.13" fill="#c9112f"/>
<rect x="142.40" y="130.17" width="0.50" height="11.92" fill="url(#gr)"/>
<rect x="142.40" y="140.30" width="0.50" height="1.40" fill="#c9112f"/>
<rect x="142.90" y="129.10" width="0.50" height="12.99" fill="url(#gr)"/>
<rect x="142.90" y="141.02" width="0.50" height="0.68" fill="#c9112f"/>
<rect x="143.40" y="133.24" width="0.50" height="8.85" fill="url(#gr)"/>
<rect x="143.40" y="140.63" width="0.50" height="1.07" fill="#c9112f"/>
<rect x="143.90" y="122.89" width="0.50" height="19.20" fill="url(#gr)"/>
<rect x="143.90" y="137.21" width="0.50" height="4.49" fill="#c9112f"/>
<rect x="144.40" y="132.44" width="0.50" height="9.65" fill="url(#gr)"/>
<rect x="144.40" y="138.15" width="0.50" height="3.55" fill="#c9112f"/>
<rect x="144.90" y="128.23" width="0.50" height="13.86" fill="url(#gr)"/>
<rect x="144.90" y="137.46" width="0.50" height="4.25" fill="#c9112f"/>
<rect x="144.90" y="133.79" width="0.50" height="6.14" fill="#ffffff" opacity="0.55"/>
<rect x="145.40" y="131.81" width="0.50" height="10.28" fill="url(#gr)"/>
<rect x="145.40" y="139.40" width="0.50" height="2.30" fill="#c9112f"/>
<rect x="145.90" y="129.63" width="0.50" height="12.46" fill="url(#gr)"/>
<rect x="146.40" y="128.97" width="0.50" height="13.12" fill="url(#gr)"/>
<rect x="146.40" y="137.28" width="0.50" height="4.42" fill="#c9112f"/>
<rect x="146.90" y="128.77" width="0.50" height="13.32" fill="url(#gr)"/>
<rect x="146.90" y="136.72" width="0.50" height="4.98" fill="#c9112f"/>
<rect x="147.40" y="125.22" width="0.50" height="16.86" fill="url(#gr)"/>
<rect x="147.40" y="141.01" width="0.50" height="0.69" fill="#c9112f"/>
<rect x="147.90" y="133.07" width="0.50" height="9.01" fill="url(#gr)"/>
<rect x="147.90" y="140.85" width="0.50" height="0.85" fill="#c9112f"/>
<rect x="147.90" y="132.55" width="0.50" height="6.14" fill="#ffffff" opacity="0.55"/>
<rect x="148.40" y="130.94" width="0.30" height="11.15" fill="url(#gr)"/>
<rect x="148.40" y="127.40" width="0.30" height="6.14" fill="#ffffff" opacity="0.55"/>
<rect x="145.66" y="141.64" width="0.90" height="0.90" fill="#8e0f24"/>
<rect x="145.66" y="140.56" width="0.90" height="0.90" fill="#eea0ab"/>
<rect x="145.66" y="139.08" width="0.90" height="0.90" fill="#eea0ab"/>
<rect x="145.66" y="137.51" width="0.90" height="0.90" fill="#8e0f24"/>
<rect x="145.66" y="135.88" width="0.90" height="0.90" fill="#e36a7c"/>
<rect x="148.19" y="124.34" width="0.80" height="0.80" fill="#f5c6cc"/>
<rect x="140.79" y="124.57" width="0.80" height="0.80" fill="#eea0ab"/>
<rect x="144.87" y="128.08" width="0.80" height="0.80" fill="#f5c6cc"/>
<rect x="148.70" y="141.70" width="9.00" height="27.26" fill="#1a4f91"/>
<rect x="148.70" y="132.42" width="0.50" height="9.67" fill="url(#gb)"/>
<rect x="148.70" y="140.89" width="0.50" height="0.81" fill="#1a4f91"/>
<rect x="149.20" y="125.26" width="0.50" height="16.82" fill="url(#gb)"/>
<rect x="149.70" y="128.95" width="0.50" height="13.13" fill="url(#gb)"/>
<rect x="149.70" y="138.79" width="0.50" height="2.92" fill="#1a4f91"/>
<rect x="150.20" y="129.01" width="0.50" height="13.08" fill="url(#gb)"/>
<rect x="150.20" y="138.50" width="0.50" height="3.20" fill="#1a4f91"/>
<rect x="150.70" y="134.40" width="0.50" height="7.69" fill="url(#gb)"/>
<rect x="150.70" y="140.57" width="0.50" height="1.13" fill="#1a4f91"/>
<rect x="151.20" y="133.25" width="0.50" height="8.84" fill="url(#gb)"/>
<rect x="151.70" y="133.43" width="0.50" height="8.66" fill="url(#gb)"/>
<rect x="151.70" y="140.69" width="0.50" height="1.01" fill="#1a4f91"/>
<rect x="152.20" y="128.95" width="0.50" height="13.14" fill="url(#gb)"/>
<rect x="152.20" y="139.47" width="0.50" height="2.23" fill="#1a4f91"/>
<rect x="152.70" y="133.03" width="0.50" height="9.06" fill="url(#gb)"/>
<rect x="152.70" y="140.85" width="0.50" height="0.85" fill="#1a4f91"/>
<rect x="152.70" y="131.32" width="0.50" height="6.14" fill="#ffffff" opacity="0.55"/>
<rect x="153.20" y="125.30" width="0.50" height="16.78" fill="url(#gb)"/>
<rect x="153.20" y="139.97" width="0.50" height="1.73" fill="#1a4f91"/>
<rect x="153.70" y="133.34" width="0.50" height="8.75" fill="url(#gb)"/>
<rect x="153.70" y="140.76" width="0.50" height="0.95" fill="#1a4f91"/>
<rect x="154.20" y="135.10" width="0.50" height="6.98" fill="url(#gb)"/>
<rect x="154.20" y="140.57" width="0.50" height="1.13" fill="#1a4f91"/>
<rect x="154.70" y="131.05" width="0.50" height="11.04" fill="url(#gb)"/>
<rect x="154.70" y="141.20" width="0.50" height="0.50" fill="#1a4f91"/>
<rect x="155.20" y="132.71" width="0.50" height="9.38" fill="url(#gb)"/>
<rect x="155.70" y="131.87" width="0.50" height="10.22" fill="url(#gb)"/>
<rect x="155.70" y="141.16" width="0.50" height="0.54" fill="#1a4f91"/>
<rect x="156.20" y="128.77" width="0.50" height="13.32" fill="url(#gb)"/>
<rect x="156.20" y="139.22" width="0.50" height="2.48" fill="#1a4f91"/>
<rect x="156.70" y="131.34" width="0.50" height="10.74" fill="url(#gb)"/>
<rect x="156.70" y="131.71" width="0.50" height="9.99" fill="#1a4f91"/>
<rect x="156.70" y="128.56" width="0.50" height="6.14" fill="#ffffff" opacity="0.55"/>
<rect x="157.20" y="132.27" width="0.50" height="9.82" fill="url(#gb)"/>
<rect x="157.20" y="141.18" width="0.50" height="0.52" fill="#1a4f91"/>
<rect x="156.12" y="141.64" width="0.90" height="0.90" fill="#2e5f9e"/>
<rect x="156.12" y="140.58" width="0.90" height="0.90" fill="#94afd3"/>
<rect x="156.12" y="139.15" width="0.90" height="0.90" fill="#94afd3"/>
<rect x="156.12" y="137.65" width="0.90" height="0.90" fill="#14305e"/>
<rect x="156.12" y="136.11" width="0.90" height="0.90" fill="#14305e"/>
<rect x="156.12" y="134.13" width="0.90" height="0.90" fill="#94afd3"/>
<rect x="156.12" y="132.69" width="0.90" height="0.90" fill="#2e5f9e"/>
<rect x="156.12" y="130.70" width="0.90" height="0.90" fill="#14305e"/>
<rect x="156.12" y="129.23" width="0.90" height="0.90" fill="#5c83b8"/>
<rect x="156.12" y="128.10" width="0.90" height="0.90" fill="#94afd3"/>
<rect x="156.12" y="127.11" width="0.90" height="0.90" fill="#94afd3"/>
<rect x="156.12" y="126.06" width="0.90" height="0.90" fill="#14305e"/>
<rect x="155.81" y="132.22" width="0.80" height="0.80" fill="#94afd3"/>
<rect x="155.88" y="129.81" width="0.80" height="0.80" fill="#c4d3e8"/>
<rect x="149.28" y="124.16" width="0.80" height="0.80" fill="#c4d3e8"/>
<rect x="150.96" y="125.85" width="0.80" height="0.80" fill="#c4d3e8"/>
<rect x="150.57" y="132.81" width="0.80" height="0.80" fill="#c4d3e8"/>
<rect x="157.70" y="141.70" width="9.60" height="27.26" fill="#c9112f"/>
<rect x="157.70" y="130.50" width="0.50" height="11.59" fill="url(#gr)"/>
<rect x="158.20" y="129.13" width="0.50" height="12.96" fill="url(#gr)"/>
<rect x="158.20" y="141.10" width="0.50" height="0.61" fill="#c9112f"/>
<rect x="158.70" y="128.61" width="0.50" height="13.48" fill="url(#gr)"/>
<rect x="158.70" y="139.96" width="0.50" height="1.75" fill="#c9112f"/>
<rect x="159.20" y="127.66" width="0.50" height="14.43" fill="url(#gr)"/>
<rect x="159.20" y="131.22" width="0.50" height="6.14" fill="#ffffff" opacity="0.55"/>
<rect x="159.70" y="128.53" width="0.50" height="13.55" fill="url(#gr)"/>
<rect x="160.20" y="132.19" width="0.50" height="9.90" fill="url(#gr)"/>
<rect x="160.20" y="139.60" width="0.50" height="2.11" fill="#c9112f"/>
<rect x="160.70" y="134.62" width="0.50" height="7.46" fill="url(#gr)"/>
<rect x="160.70" y="141.20" width="0.50" height="0.51" fill="#c9112f"/>
<rect x="161.20" y="128.44" width="0.50" height="13.64" fill="url(#gr)"/>
<rect x="161.20" y="141.22" width="0.50" height="0.48" fill="#c9112f"/>
<rect x="161.70" y="130.59" width="0.50" height="11.49" fill="url(#gr)"/>
<rect x="161.70" y="140.87" width="0.50" height="0.83" fill="#c9112f"/>
<rect x="162.20" y="133.04" width="0.50" height="9.05" fill="url(#gr)"/>
<rect x="162.20" y="139.10" width="0.50" height="2.60" fill="#c9112f"/>
<rect x="162.70" y="134.19" width="0.50" height="7.90" fill="url(#gr)"/>
<rect x="162.70" y="140.33" width="0.50" height="1.38" fill="#c9112f"/>
<rect x="162.70" y="133.34" width="0.50" height="6.14" fill="#ffffff" opacity="0.55"/>
<rect x="163.20" y="127.95" width="0.50" height="14.14" fill="url(#gr)"/>
<rect x="163.20" y="140.73" width="0.50" height="0.97" fill="#c9112f"/>
<rect x="163.70" y="127.54" width="0.50" height="14.55" fill="url(#gr)"/>
<rect x="163.70" y="138.78" width="0.50" height="2.92" fill="#c9112f"/>
<rect x="164.20" y="132.79" width="0.50" height="9.29" fill="url(#gr)"/>
<rect x="164.70" y="131.91" width="0.50" height="10.17" fill="url(#gr)"/>
<rect x="164.70" y="140.55" width="0.50" height="1.15" fill="#c9112f"/>
<rect x="165.20" y="131.29" width="0.50" height="10.80" fill="url(#gr)"/>
<rect x="165.20" y="140.77" width="0.50" height="0.93" fill="#c9112f"/>
<rect x="165.70" y="133.37" width="0.50" height="8.72" fill="url(#gr)"/>
<rect x="165.70" y="140.97" width="0.50" height="0.74" fill="#c9112f"/>
<rect x="166.20" y="132.98" width="0.50" height="9.11" fill="url(#gr)"/>
<rect x="166.20" y="139.23" width="0.50" height="2.48" fill="#c9112f"/>
<rect x="166.70" y="128.01" width="0.50" height="14.08" fill="url(#gr)"/>
<rect x="166.70" y="138.72" width="0.50" height="2.98" fill="#c9112f"/>
<rect x="167.20" y="130.06" width="0.10" height="12.02" fill="url(#gr)"/>
<rect x="167.20" y="140.98" width="0.10" height="0.72" fill="#c9112f"/>
<rect x="166.22" y="141.64" width="0.90" height="0.90" fill="#e36a7c"/>
<rect x="166.22" y="140.70" width="0.90" height="0.90" fill="#8e0f24"/>
<rect x="166.22" y="139.09" width="0.90" height="0.90" fill="#eea0ab"/>
<rect x="166.22" y="137.69" width="0.90" height="0.90" fill="#8e0f24"/>
<rect x="166.22" y="135.82" width="0.90" height="0.90" fill="#d8344e"/>
<rect x="166.22" y="134.27" width="0.90" height="0.90" fill="#8e0f24"/>
<rect x="166.22" y="132.32" width="0.90" height="0.90" fill="#8e0f24"/>
<rect x="161.30" y="127.39" width="0.80" height="0.80" fill="#f5c6cc"/>
<rect x="167.20" y="125.66" width="0.80" height="0.80" fill="#eea0ab"/>
<rect x="164.11" y="132.15" width="0.80" height="0.80" fill="#eea0ab"/>
<rect x="161.17" y="130.20" width="0.80" height="0.80" fill="#f5c6cc"/>
<rect x="162.30" y="128.37" width="0.80" height="0.80" fill="#eea0ab"/>
<rect x="167.30" y="141.70" width="9.20" height="27.26" fill="#1a4f91"/>
<rect x="167.30" y="127.72" width="0.50" height="14.36" fill="url(#gb)"/>
<rect x="167.30" y="130.94" width="0.50" height="10.77" fill="#1a4f91"/>
<rect x="167.80" y="128.81" width="0.50" height="13.28" fill="url(#gb)"/>
<rect x="167.80" y="139.05" width="0.50" height="2.65" fill="#1a4f91"/>
<rect x="168.30" y="134.66" width="0.50" height="7.42" fill="url(#gb)"/>
<rect x="168.30" y="140.58" width="0.50" height="1.13" fill="#1a4f91"/>
<rect x="168.80" y="133.50" width="0.50" height="8.59" fill="url(#gb)"/>
<rect x="168.80" y="141.19" width="0.50" height="0.52" fill="#1a4f91"/>
<rect x="169.30" y="134.08" width="0.50" height="8.01" fill="url(#gb)"/>
<rect x="169.30" y="138.73" width="0.50" height="2.97" fill="#1a4f91"/>
<rect x="169.30" y="132.87" width="0.50" height="6.14" fill="#ffffff" opacity="0.55"/>
<rect x="169.80" y="130.19" width="0.50" height="11.90" fill="url(#gb)"/>
<rect x="169.80" y="138.73" width="0.50" height="2.97" fill="#1a4f91"/>
<rect x="170.30" y="128.95" width="0.50" height="13.14" fill="url(#gb)"/>
<rect x="170.30" y="138.42" width="0.50" height="3.28" fill="#1a4f91"/>
<rect x="170.30" y="130.09" width="0.50" height="6.14" fill="#ffffff" opacity="0.55"/>
<rect x="170.80" y="135.05" width="0.50" height="7.03" fill="url(#gb)"/>
<rect x="170.80" y="135.36" width="0.50" height="6.35" fill="#1a4f91"/>
<rect x="171.30" y="134.99" width="0.50" height="7.10" fill="url(#gb)"/>
<rect x="171.30" y="140.02" width="0.50" height="1.68" fill="#1a4f91"/>
<rect x="171.80" y="134.32" width="0.50" height="7.77" fill="url(#gb)"/>
<rect x="171.80" y="140.92" width="0.50" height="0.79" fill="#1a4f91"/>
<rect x="172.30" y="134.22" width="0.50" height="7.87" fill="url(#gb)"/>
<rect x="172.30" y="129.69" width="0.50" height="6.14" fill="#ffffff" opacity="0.55"/>
<rect x="172.80" y="132.92" width="0.50" height="9.17" fill="url(#gb)"/>
<rect x="172.80" y="141.08" width="0.50" height="0.62" fill="#1a4f91"/>
<rect x="173.30" y="132.91" width="0.50" height="9.18" fill="url(#gb)"/>
<rect x="173.30" y="139.91" width="0.50" height="1.79" fill="#1a4f91"/>
<rect x="173.80" y="122.89" width="0.50" height="19.20" fill="url(#gb)"/>
<rect x="174.30" y="131.14" width="0.50" height="10.94" fill="url(#gb)"/>
<rect x="174.30" y="139.63" width="0.50" height="2.08" fill="#1a4f91"/>
<rect x="174.80" y="127.77" width="0.50" height="14.31" fill="url(#gb)"/>
<rect x="174.80" y="126.87" width="0.50" height="6.14" fill="#ffffff" opacity="0.55"/>
<rect x="175.30" y="129.54" width="0.50" height="12.55" fill="url(#gb)"/>
<rect x="175.80" y="133.86" width="0.50" height="8.23" fill="url(#gb)"/>
<rect x="175.80" y="134.27" width="0.50" height="7.43" fill="#1a4f91"/>
<rect x="176.30" y="127.01" width="0.20" height="15.08" fill="url(#gb)"/>
<rect x="168.69" y="141.64" width="0.90" height="0.90" fill="#14305e"/>
<rect x="168.69" y="140.15" width="0.90" height="0.90" fill="#5c83b8"/>
<rect x="168.69" y="138.58" width="0.90" height="0.90" fill="#2e5f9e"/>
<rect x="168.69" y="137.20" width="0.90" height="0.90" fill="#14305e"/>
<rect x="168.69" y="135.43" width="0.90" height="0.90" fill="#14305e"/>
<rect x="168.69" y="134.08" width="0.90" height="0.90" fill="#94afd3"/>
<rect x="168.69" y="132.72" width="0.90" height="0.90" fill="#5c83b8"/>
<rect x="168.69" y="131.28" width="0.90" height="0.90" fill="#14305e"/>
<rect x="168.69" y="129.39" width="0.90" height="0.90" fill="#14305e"/>
<rect x="168.69" y="127.86" width="0.90" height="0.90" fill="#94afd3"/>
<rect x="168.69" y="126.00" width="0.90" height="0.90" fill="#5c83b8"/>
<rect x="168.69" y="125.04" width="0.90" height="0.90" fill="#14305e"/>
<rect x="172.08" y="129.68" width="0.80" height="0.80" fill="#94afd3"/>
<rect x="170.74" y="129.03" width="0.80" height="0.80" fill="#94afd3"/>
<rect x="167.37" y="129.03" width="0.80" height="0.80" fill="#94afd3"/>
<rect x="170.66" y="128.98" width="0.80" height="0.80" fill="#c4d3e8"/>
<rect x="175.03" y="131.87" width="0.80" height="0.80" fill="#94afd3"/>
<rect x="176.50" y="141.70" width="5.00" height="27.26" fill="#c9112f"/>
<rect x="176.50" y="132.76" width="0.50" height="9.33" fill="url(#gr)"/>
<rect x="176.50" y="140.11" width="0.50" height="1.59" fill="#c9112f"/>
<rect x="177.00" y="133.88" width="0.50" height="8.21" fill="url(#gr)"/>
<rect x="177.00" y="141.01" width="0.50" height="0.69" fill="#c9112f"/>
<rect x="177.50" y="131.91" width="0.50" height="10.18" fill="url(#gr)"/>
<rect x="177.50" y="140.57" width="0.50" height="1.13" fill="#c9112f"/>
<rect x="178.00" y="122.89" width="0.50" height="19.20" fill="url(#gr)"/>
<rect x="178.00" y="137.80" width="0.50" height="3.91" fill="#c9112f"/>
<rect x="178.50" y="132.74" width="0.50" height="9.35" fill="url(#gr)"/>
<rect x="178.50" y="138.30" width="0.50" height="3.41" fill="#c9112f"/>
<rect x="179.00" y="134.74" width="0.50" height="7.35" fill="url(#gr)"/>
<rect x="179.50" y="130.94" width="0.50" height="11.15" fill="url(#gr)"/>
<rect x="179.50" y="139.47" width="0.50" height="2.23" fill="#c9112f"/>
<rect x="179.50" y="125.80" width="0.50" height="6.14" fill="#ffffff" opacity="0.55"/>
<rect x="180.00" y="129.40" width="0.50" height="12.69" fill="url(#gr)"/>
<rect x="180.50" y="131.96" width="0.50" height="10.12" fill="url(#gr)"/>
<rect x="180.50" y="132.67" width="0.50" height="9.03" fill="#c9112f"/>
<rect x="181.00" y="134.60" width="0.50" height="7.49" fill="url(#gr)"/>
<rect x="181.00" y="140.43" width="0.50" height="1.27" fill="#c9112f"/>
<rect x="178.44" y="141.64" width="0.90" height="0.90" fill="#d8344e"/>
<rect x="178.44" y="140.20" width="0.90" height="0.90" fill="#d8344e"/>
<rect x="178.44" y="138.32" width="0.90" height="0.90" fill="#e36a7c"/>
<rect x="178.44" y="136.63" width="0.90" height="0.90" fill="#d8344e"/>
<rect x="178.44" y="134.90" width="0.90" height="0.90" fill="#8e0f24"/>
<rect x="178.44" y="133.18" width="0.90" height="0.90" fill="#d8344e"/>
<rect x="178.44" y="131.20" width="0.90" height="0.90" fill="#8e0f24"/>
<rect x="179.18" y="125.07" width="0.80" height="0.80" fill="#eea0ab"/>
<rect x="177.28" y="131.51" width="0.80" height="0.80" fill="#f5c6cc"/>
<rect x="176.66" y="130.46" width="0.80" height="0.80" fill="#f5c6cc"/>
<rect x="181.50" y="141.70" width="6.50" height="27.26" fill="#1a4f91"/>
<rect x="181.50" y="133.64" width="0.50" height="8.45" fill="url(#gb)"/>
<rect x="181.50" y="140.21" width="0.50" height="1.50" fill="#1a4f91"/>
<rect x="182.00" y="129.04" width="0.50" height="13.05" fill="url(#gb)"/>
<rect x="182.00" y="140.26" width="0.50" height="1.44" fill="#1a4f91"/>
<rect x="182.50" y="128.61" width="0.50" height="13.48" fill="url(#gb)"/>
<rect x="182.50" y="140.84" width="0.50" height="0.86" fill="#1a4f91"/>
<rect x="182.50" y="126.82" width="0.50" height="6.14" fill="#ffffff" opacity="0.55"/>
<rect x="183.00" y="130.17" width="0.50" height="11.91" fill="url(#gb)"/>
<rect x="183.00" y="138.14" width="0.50" height="3.56" fill="#1a4f91"/>
<rect x="183.50" y="131.70" width="0.50" height="10.39" fill="url(#gb)"/>
<rect x="183.50" y="140.34" width="0.50" height="1.36" fill="#1a4f91"/>
<rect x="184.00" y="134.04" width="0.50" height="8.05" fill="url(#gb)"/>
<rect x="184.00" y="140.60" width="0.50" height="1.11" fill="#1a4f91"/>
<rect x="184.00" y="129.90" width="0.50" height="6.14" fill="#ffffff" opacity="0.55"/>
<rect x="184.50" y="130.32" width="0.50" height="11.77" fill="url(#gb)"/>
<rect x="184.50" y="140.54" width="0.50" height="1.16" fill="#1a4f91"/>
<rect x="184.50" y="125.91" width="0.50" height="6.14" fill="#ffffff" opacity="0.55"/>
<rect x="185.00" y="128.16" width="0.50" height="13.93" fill="url(#gb)"/>
<rect x="185.00" y="141.18" width="0.50" height="0.53" fill="#1a4f91"/>
<rect x="185.50" y="133.03" width="0.50" height="9.05" fill="url(#gb)"/>
<rect x="185.50" y="140.04" width="0.50" height="1.66" fill="#1a4f91"/>
<rect x="186.00" y="131.30" width="0.50" height="10.79" fill="url(#gb)"/>
<rect x="186.00" y="139.21" width="0.50" height="2.50" fill="#1a4f91"/>
<rect x="186.50" y="134.02" width="0.50" height="8.07" fill="url(#gb)"/>
<rect x="186.50" y="140.75" width="0.50" height="0.95" fill="#1a4f91"/>
<rect x="186.50" y="129.89" width="0.50" height="6.14" fill="#ffffff" opacity="0.55"/>
<rect x="187.00" y="131.42" width="0.50" height="10.67" fill="url(#gb)"/>
<rect x="187.00" y="133.95" width="0.50" height="7.76" fill="#1a4f91"/>
<rect x="187.50" y="132.33" width="0.50" height="9.75" fill="url(#gb)"/>
<rect x="187.50" y="132.33" width="0.50" height="9.38" fill="#1a4f91"/>
<rect x="185.91" y="141.64" width="0.90" height="0.90" fill="#14305e"/>
<rect x="185.91" y="140.50" width="0.90" height="0.90" fill="#14305e"/>
<rect x="185.91" y="138.43" width="0.90" height="0.90" fill="#14305e"/>
<rect x="185.91" y="137.13" width="0.90" height="0.90" fill="#14305e"/>
<rect x="185.91" y="135.30" width="0.90" height="0.90" fill="#5c83b8"/>
<rect x="185.91" y="134.26" width="0.90" height="0.90" fill="#14305e"/>
<rect x="185.91" y="133.13" width="0.90" height="0.90" fill="#5c83b8"/>
<rect x="185.91" y="131.88" width="0.90" height="0.90" fill="#5c83b8"/>
<rect x="183.27" y="131.44" width="0.80" height="0.80" fill="#c4d3e8"/>
<rect x="187.63" y="132.17" width="0.80" height="0.80" fill="#c4d3e8"/>
<rect x="182.54" y="124.50" width="0.80" height="0.80" fill="#94afd3"/>
<rect x="188.00" y="141.70" width="5.70" height="27.26" fill="#c9112f"/>
<rect x="188.00" y="130.50" width="0.50" height="11.59" fill="url(#gr)"/>
<rect x="188.00" y="138.80" width="0.50" height="2.91" fill="#c9112f"/>
<rect x="188.50" y="130.11" width="0.50" height="11.98" fill="url(#gr)"/>
<rect x="188.50" y="138.43" width="0.50" height="3.28" fill="#c9112f"/>
<rect x="189.00" y="134.76" width="0.50" height="7.33" fill="url(#gr)"/>
<rect x="189.00" y="140.72" width="0.50" height="0.99" fill="#c9112f"/>
<rect x="189.50" y="133.38" width="0.50" height="8.70" fill="url(#gr)"/>
<rect x="189.50" y="140.69" width="0.50" height="1.02" fill="#c9112f"/>
<rect x="190.00" y="127.93" width="0.50" height="14.16" fill="url(#gr)"/>
<rect x="190.00" y="139.87" width="0.50" height="1.83" fill="#c9112f"/>
<rect x="190.50" y="133.39" width="0.50" height="8.70" fill="url(#gr)"/>
<rect x="191.00" y="123.00" width="0.50" height="19.09" fill="url(#gr)"/>
<rect x="191.50" y="134.26" width="0.50" height="7.83" fill="url(#gr)"/>
<rect x="191.50" y="140.89" width="0.50" height="0.81" fill="#c9112f"/>
<rect x="192.00" y="134.70" width="0.50" height="7.38" fill="url(#gr)"/>
<rect x="192.00" y="129.15" width="0.50" height="6.14" fill="#ffffff" opacity="0.55"/>
<rect x="192.50" y="127.63" width="0.50" height="14.46" fill="url(#gr)"/>
<rect x="192.50" y="137.46" width="0.50" height="4.24" fill="#c9112f"/>
<rect x="193.00" y="128.87" width="0.50" height="13.21" fill="url(#gr)"/>
<rect x="193.00" y="141.26" width="0.50" height="0.45" fill="#c9112f"/>
<rect x="193.50" y="132.46" width="0.20" height="9.63" fill="url(#gr)"/>
<rect x="193.50" y="141.22" width="0.20" height="0.48" fill="#c9112f"/>
<rect x="190.38" y="141.64" width="0.90" height="0.90" fill="#8e0f24"/>
<rect x="190.38" y="140.16" width="0.90" height="0.90" fill="#d8344e"/>
<rect x="190.38" y="139.08" width="0.90" height="0.90" fill="#8e0f24"/>
<rect x="190.38" y="137.77" width="0.90" height="0.90" fill="#e36a7c"/>
<rect x="190.38" y="135.72" width="0.90" height="0.90" fill="#e36a7c"/>
<rect x="190.38" y="133.81" width="0.90" height="0.90" fill="#d8344e"/>
<rect x="190.38" y="132.19" width="0.90" height="0.90" fill="#e36a7c"/>
<rect x="190.38" y="130.19" width="0.90" height="0.90" fill="#8e0f24"/>
<rect x="193.47" y="132.73" width="0.80" height="0.80" fill="#eea0ab"/>
<rect x="189.70" y="131.35" width="0.80" height="0.80" fill="#eea0ab"/>
<rect x="190.36" y="132.18" width="0.80" height="0.80" fill="#eea0ab"/>
<rect x="193.70" y="141.70" width="5.30" height="27.26" fill="#1a4f91"/>
<rect x="193.70" y="129.89" width="0.50" height="12.20" fill="url(#gb)"/>
<rect x="193.70" y="139.80" width="0.50" height="1.90" fill="#1a4f91"/>
<rect x="194.20" y="128.76" width="0.50" height="13.33" fill="url(#gb)"/>
<rect x="194.20" y="138.24" width="0.50" height="3.47" fill="#1a4f91"/>
<rect x="194.70" y="128.78" width="0.50" height="13.31" fill="url(#gb)"/>
<rect x="194.70" y="140.81" width="0.50" height="0.90" fill="#1a4f91"/>
<rect x="195.20" y="135.06" width="0.50" height="7.03" fill="url(#gb)"/>
<rect x="195.20" y="141.04" width="0.50" height="0.67" fill="#1a4f91"/>
<rect x="195.70" y="131.14" width="0.50" height="10.95" fill="url(#gb)"/>
<rect x="195.70" y="139.24" width="0.50" height="2.47" fill="#1a4f91"/>
<rect x="196.20" y="133.38" width="0.50" height="8.71" fill="url(#gb)"/>
<rect x="196.20" y="141.28" width="0.50" height="0.42" fill="#1a4f91"/>
<rect x="196.20" y="132.07" width="0.50" height="6.14" fill="#ffffff" opacity="0.55"/>
<rect x="196.70" y="131.50" width="0.50" height="10.59" fill="url(#gb)"/>
<rect x="196.70" y="140.82" width="0.50" height="0.89" fill="#1a4f91"/>
<rect x="197.20" y="127.88" width="0.50" height="14.21" fill="url(#gb)"/>
<rect x="197.20" y="141.06" width="0.50" height="0.65" fill="#1a4f91"/>
<rect x="197.70" y="132.66" width="0.50" height="9.43" fill="url(#gb)"/>
<rect x="197.70" y="140.83" width="0.50" height="0.88" fill="#1a4f91"/>
<rect x="198.20" y="130.00" width="0.50" height="12.09" fill="url(#gb)"/>
<rect x="198.20" y="140.00" width="0.50" height="1.70" fill="#1a4f91"/>
<rect x="198.20" y="127.37" width="0.50" height="6.14" fill="#ffffff" opacity="0.55"/>
<rect x="198.70" y="131.65" width="0.30" height="10.43" fill="url(#gb)"/>
<rect x="198.70" y="131.64" width="0.30" height="10.06" fill="#1a4f91"/>
<rect x="195.66" y="141.64" width="0.90" height="0.90" fill="#94afd3"/>
<rect x="195.66" y="139.56" width="0.90" height="0.90" fill="#5c83b8"/>
<rect x="195.66" y="138.25" width="0.90" height="0.90" fill="#94afd3"/>
<rect x="195.66" y="136.29" width="0.90" height="0.90" fill="#2e5f9e"/>
<rect x="195.66" y="134.82" width="0.90" height="0.90" fill="#2e5f9e"/>
<rect x="195.66" y="133.84" width="0.90" height="0.90" fill="#14305e"/>
<rect x="195.66" y="131.81" width="0.90" height="0.90" fill="#5c83b8"/>
<rect x="195.66" y="130.73" width="0.90" height="0.90" fill="#14305e"/>
<rect x="195.66" y="128.79" width="0.90" height="0.90" fill="#5c83b8"/>
<rect x="195.66" y="127.48" width="0.90" height="0.90" fill="#5c83b8"/>
<rect x="195.66" y="125.63" width="0.90" height="0.90" fill="#14305e"/>
<rect x="194.96" y="127.71" width="0.80" height="0.80" fill="#94afd3"/>
<rect x="198.38" y="127.34" width="0.80" height="0.80" fill="#c4d3e8"/>
<rect x="195.65" y="127.34" width="0.80" height="0.80" fill="#c4d3e8"/>
<rect x="199.00" y="141.70" width="5.20" height="27.26" fill="#c9112f"/>
<rect x="199.00" y="134.05" width="0.50" height="8.04" fill="url(#gr)"/>
<rect x="199.00" y="132.70" width="0.50" height="9.00" fill="#c9112f"/>
<rect x="199.50" y="128.79" width="0.50" height="13.30" fill="url(#gr)"/>
<rect x="199.50" y="139.79" width="0.50" height="1.92" fill="#c9112f"/>
<rect x="200.00" y="131.17" width="0.50" height="10.92" fill="url(#gr)"/>
<rect x="200.00" y="140.42" width="0.50" height="1.28" fill="#c9112f"/>
<rect x="200.50" y="129.91" width="0.50" height="12.18" fill="url(#gr)"/>
<rect x="201.00" y="127.68" width="0.50" height="14.40" fill="url(#gr)"/>
<rect x="201.00" y="139.22" width="0.50" height="2.48" fill="#c9112f"/>
<rect x="201.50" y="127.76" width="0.50" height="14.32" fill="url(#gr)"/>
<rect x="202.00" y="128.32" width="0.50" height="13.77" fill="url(#gr)"/>
<rect x="202.00" y="140.76" width="0.50" height="0.95" fill="#c9112f"/>
<rect x="202.50" y="130.93" width="0.50" height="11.15" fill="url(#gr)"/>
<rect x="202.50" y="140.31" width="0.50" height="1.39" fill="#c9112f"/>
<rect x="203.00" y="131.81" width="0.50" height="10.28" fill="url(#gr)"/>
<rect x="203.00" y="139.98" width="0.50" height="1.72" fill="#c9112f"/>
<rect x="203.50" y="134.83" width="0.50" height="7.26" fill="url(#gr)"/>
<rect x="203.50" y="137.91" width="0.50" height="3.79" fill="#c9112f"/>
<rect x="204.00" y="134.99" width="0.20" height="7.10" fill="url(#gr)"/>
<rect x="204.00" y="134.56" width="0.20" height="7.15" fill="#c9112f"/>
<rect x="199.75" y="141.64" width="0.90" height="0.90" fill="#8e0f24"/>
<rect x="199.75" y="140.52" width="0.90" height="0.90" fill="#e36a7c"/>
<rect x="199.75" y="139.30" width="0.90" height="0.90" fill="#e36a7c"/>
<rect x="199.75" y="137.59" width="0.90" height="0.90" fill="#8e0f24"/>
<rect x="199.75" y="135.81" width="0.90" height="0.90" fill="#8e0f24"/>
<rect x="199.75" y="134.72" width="0.90" height="0.90" fill="#eea0ab"/>
<rect x="202.05" y="131.61" width="0.80" height="0.80" fill="#f5c6cc"/>
<rect x="203.44" y="123.75" width="0.80" height="0.80" fill="#eea0ab"/>
<rect x="204.20" y="141.70" width="6.20" height="27.26" fill="#1a4f91"/>
<rect x="204.20" y="131.58" width="0.50" height="10.51" fill="url(#gb)"/>
<rect x="204.20" y="136.18" width="0.50" height="5.53" fill="#1a4f91"/>
<rect x="204.70" y="128.00" width="0.50" height="14.08" fill="url(#gb)"/>
<rect x="204.70" y="139.93" width="0.50" height="1.78" fill="#1a4f91"/>
<rect x="205.20" y="129.78" width="0.50" height="12.30" fill="url(#gb)"/>
<rect x="205.20" y="139.47" width="0.50" height="2.24" fill="#1a4f91"/>
<rect x="205.70" y="135.15" width="0.50" height="6.94" fill="url(#gb)"/>
<rect x="206.20" y="129.03" width="0.50" height="13.06" fill="url(#gb)"/>
<rect x="206.20" y="139.16" width="0.50" height="2.54" fill="#1a4f91"/>
<rect x="206.70" y="132.10" width="0.50" height="9.99" fill="url(#gb)"/>
<rect x="206.70" y="137.59" width="0.50" height="4.12" fill="#1a4f91"/>
<rect x="207.20" y="134.74" width="0.50" height="7.34" fill="url(#gb)"/>
<rect x="207.20" y="139.47" width="0.50" height="2.24" fill="#1a4f91"/>
<rect x="207.20" y="133.09" width="0.50" height="6.14" fill="#ffffff" opacity="0.55"/>
<rect x="207.70" y="134.97" width="0.50" height="7.12" fill="url(#gb)"/>
<rect x="208.20" y="134.79" width="0.50" height="7.30" fill="url(#gb)"/>
<rect x="208.20" y="140.59" width="0.50" height="1.12" fill="#1a4f91"/>
<rect x="208.20" y="132.61" width="0.50" height="6.14" fill="#ffffff" opacity="0.55"/>
<rect x="208.70" y="128.98" width="0.50" height="13.11" fill="url(#gb)"/>
<rect x="208.70" y="126.49" width="0.50" height="6.14" fill="#ffffff" opacity="0.55"/>
<rect x="209.20" y="134.01" width="0.50" height="8.08" fill="url(#gb)"/>
<rect x="209.20" y="139.30" width="0.50" height="2.40" fill="#1a4f91"/>
<rect x="209.70" y="128.06" width="0.50" height="14.03" fill="url(#gb)"/>
<rect x="209.70" y="139.14" width="0.50" height="2.57" fill="#1a4f91"/>
<rect x="210.20" y="132.88" width="0.20" height="9.21" fill="url(#gb)"/>
<rect x="208.35" y="141.64" width="0.90" height="0.90" fill="#14305e"/>
<rect x="208.35" y="139.70" width="0.90" height="0.90" fill="#14305e"/>
<rect x="208.35" y="138.23" width="0.90" height="0.90" fill="#2e5f9e"/>
<rect x="208.35" y="136.25" width="0.90" height="0.90" fill="#14305e"/>
<rect x="208.35" y="134.74" width="0.90" height="0.90" fill="#14305e"/>
<rect x="208.35" y="132.91" width="0.90" height="0.90" fill="#94afd3"/>
<rect x="208.19" y="132.59" width="0.80" height="0.80" fill="#94afd3"/>
<rect x="209.60" y="131.28" width="0.80" height="0.80" fill="#94afd3"/>
<rect x="210.40" y="141.70" width="3.40" height="27.26" fill="#c9112f"/>
<rect x="210.40" y="130.49" width="0.50" height="11.60" fill="url(#gr)"/>
<rect x="210.40" y="141.04" width="0.50" height="0.67" fill="#c9112f"/>
<rect x="210.90" y="130.19" width="0.50" height="11.90" fill="url(#gr)"/>
<rect x="210.90" y="139.28" width="0.50" height="2.43" fill="#c9112f"/>
<rect x="211.40" y="132.05" width="0.50" height="10.04" fill="url(#gr)"/>
<rect x="211.40" y="138.65" width="0.50" height="3.06" fill="#c9112f"/>
<rect x="211.40" y="131.97" width="0.50" height="6.14" fill="#ffffff" opacity="0.55"/>
<rect x="211.90" y="131.38" width="0.50" height="10.70" fill="url(#gr)"/>
<rect x="211.90" y="141.14" width="0.50" height="0.56" fill="#c9112f"/>
<rect x="212.40" y="134.88" width="0.50" height="7.21" fill="url(#gr)"/>
<rect x="212.40" y="140.18" width="0.50" height="1.52" fill="#c9112f"/>
<rect x="212.90" y="133.40" width="0.50" height="8.68" fill="url(#gr)"/>
<rect x="212.90" y="130.43" width="0.50" height="6.14" fill="#ffffff" opacity="0.55"/>
<rect x="213.40" y="131.59" width="0.40" height="10.50" fill="url(#gr)"/>
<rect x="212.60" y="141.64" width="0.90" height="0.90" fill="#8e0f24"/>
<rect x="212.60" y="140.65" width="0.90" height="0.90" fill="#8e0f24"/>
<rect x="212.60" y="139.12" width="0.90" height="0.90" fill="#e36a7c"/>
<rect x="212.60" y="137.09" width="0.90" height="0.90" fill="#e36a7c"/>
<rect x="212.60" y="136.04" width="0.90" height="0.90" fill="#8e0f24"/>
<rect x="212.60" y="133.98" width="0.90" height="0.90" fill="#8e0f24"/>
<rect x="212.80" y="132.65" width="0.80" height="0.80" fill="#eea0ab"/>
<rect x="213.80" y="141.70" width="4.90" height="27.26" fill="#1a4f91"/>
<rect x="213.80" y="132.38" width="0.50" height="9.71" fill="url(#gb)"/>
<rect x="213.80" y="140.59" width="0.50" height="1.11" fill="#1a4f91"/>
<rect x="214.30" y="122.89" width="0.50" height="19.20" fill="url(#gb)"/>
<rect x="214.30" y="137.44" width="0.50" height="4.26" fill="#1a4f91"/>
<rect x="214.80" y="133.52" width="0.50" height="8.57" fill="url(#gb)"/>
<rect x="214.80" y="138.28" width="0.50" height="3.42" fill="#1a4f91"/>
<rect x="215.30" y="134.57" width="0.50" height="7.52" fill="url(#gb)"/>
<rect x="215.30" y="140.29" width="0.50" height="1.42" fill="#1a4f91"/>
<rect x="215.80" y="130.34" width="0.50" height="11.74" fill="url(#gb)"/>
<rect x="215.80" y="136.03" width="0.50" height="5.67" fill="#1a4f91"/>
<rect x="216.30" y="127.90" width="0.50" height="14.19" fill="url(#gb)"/>
<rect x="216.30" y="140.51" width="0.50" height="1.19" fill="#1a4f91"/>
<rect x="216.30" y="133.60" width="0.50" height="6.14" fill="#ffffff" opacity="0.55"/>
<rect x="216.80" y="133.78" width="0.50" height="8.31" fill="url(#gb)"/>
<rect x="216.80" y="139.61" width="0.50" height="2.10" fill="#1a4f91"/>
<rect x="217.30" y="127.73" width="0.50" height="14.35" fill="url(#gb)"/>
<rect x="217.30" y="139.78" width="0.50" height="1.93" fill="#1a4f91"/>
<rect x="217.80" y="133.12" width="0.50" height="8.97" fill="url(#gb)"/>
<rect x="217.80" y="133.85" width="0.50" height="6.14" fill="#ffffff" opacity="0.55"/>
<rect x="218.30" y="127.68" width="0.40" height="14.41" fill="url(#gb)"/>
<rect x="218.30" y="141.23" width="0.40" height="0.47" fill="#1a4f91"/>
<rect x="217.65" y="141.64" width="0.90" height="0.90" fill="#14305e"/>
<rect x="217.65" y="140.18" width="0.90" height="0.90" fill="#5c83b8"/>
<rect x="217.65" y="138.11" width="0.90" height="0.90" fill="#5c83b8"/>
<rect x="217.65" y="136.73" width="0.90" height="0.90" fill="#94afd3"/>
<rect x="217.65" y="135.75" width="0.90" height="0.90" fill="#5c83b8"/>
<rect x="217.65" y="134.55" width="0.90" height="0.90" fill="#94afd3"/>
<rect x="217.65" y="133.61" width="0.90" height="0.90" fill="#14305e"/>
<rect x="217.65" y="132.23" width="0.90" height="0.90" fill="#2e5f9e"/>
<rect x="217.65" y="131.07" width="0.90" height="0.90" fill="#14305e"/>
<rect x="217.65" y="129.30" width="0.90" height="0.90" fill="#5c83b8"/>
<rect x="216.93" y="131.13" width="0.80" height="0.80" fill="#94afd3"/>
<rect x="214.88" y="124.31" width="0.80" height="0.80" fill="#c4d3e8"/>
<rect x="218.70" y="141.70" width="2.50" height="27.26" fill="#c9112f"/>
<rect x="218.70" y="129.50" width="0.50" height="12.59" fill="url(#gr)"/>
<rect x="218.70" y="141.24" width="0.50" height="0.47" fill="#c9112f"/>
<rect x="218.70" y="133.56" width="0.50" height="6.14" fill="#ffffff" opacity="0.55"/>
<rect x="219.20" y="129.78" width="0.50" height="12.31" fill="url(#gr)"/>
<rect x="219.20" y="141.20" width="0.50" height="0.50" fill="#c9112f"/>
<rect x="219.70" y="127.23" width="0.50" height="14.86" fill="url(#gr)"/>
<rect x="219.70" y="139.57" width="0.50" height="2.13" fill="#c9112f"/>
<rect x="219.70" y="127.63" width="0.50" height="6.14" fill="#ffffff" opacity="0.55"/>
<rect x="220.20" y="130.37" width="0.50" height="11.72" fill="url(#gr)"/>
<rect x="220.20" y="139.34" width="0.50" height="2.36" fill="#c9112f"/>
<rect x="220.70" y="131.30" width="0.50" height="10.79" fill="url(#gr)"/>
<rect x="220.70" y="135.87" width="0.50" height="5.84" fill="#c9112f"/>
<rect x="219.30" y="141.64" width="0.90" height="0.90" fill="#8e0f24"/>
<rect x="219.30" y="140.02" width="0.90" height="0.90" fill="#eea0ab"/>
<rect x="219.30" y="138.60" width="0.90" height="0.90" fill="#e36a7c"/>
<rect x="219.30" y="136.98" width="0.90" height="0.90" fill="#8e0f24"/>
<rect x="219.30" y="135.39" width="0.90" height="0.90" fill="#eea0ab"/>
<rect x="219.30" y="134.45" width="0.90" height="0.90" fill="#eea0ab"/>
<rect x="219.30" y="133.22" width="0.90" height="0.90" fill="#e36a7c"/>
<rect x="221.20" y="141.70" width="2.30" height="27.26" fill="#1a4f91"/>
<rect x="221.20" y="129.44" width="0.50" height="12.65" fill="url(#gb)"/>
<rect x="221.20" y="140.19" width="0.50" height="1.51" fill="#1a4f91"/>
<rect x="221.20" y="132.42" width="0.50" height="6.14" fill="#ffffff" opacity="0.55"/>
<rect x="221.70" y="122.89" width="0.50" height="19.20" fill="url(#gb)"/>
<rect x="221.70" y="138.97" width="0.50" height="2.73" fill="#1a4f91"/>
<rect x="222.20" y="132.37" width="0.50" height="9.71" fill="url(#gb)"/>
<rect x="222.20" y="141.05" width="0.50" height="0.65" fill="#1a4f91"/>
<rect x="222.70" y="131.97" width="0.50" height="10.12" fill="url(#gb)"/>
<rect x="222.70" y="138.64" width="0.50" height="3.07" fill="#1a4f91"/>
<rect x="223.20" y="128.96" width="0.30" height="13.13" fill="url(#gb)"/>
<rect x="222.08" y="141.64" width="0.90" height="0.90" fill="#14305e"/>
<rect x="222.08" y="139.65" width="0.90" height="0.90" fill="#94afd3"/>
<rect x="222.08" y="137.97" width="0.90" height="0.90" fill="#14305e"/>
<rect x="222.08" y="136.12" width="0.90" height="0.90" fill="#5c83b8"/>
<rect x="222.08" y="135.08" width="0.90" height="0.90" fill="#14305e"/>
<rect x="222.08" y="133.63" width="0.90" height="0.90" fill="#94afd3"/>
<rect x="222.08" y="132.05" width="0.90" height="0.90" fill="#5c83b8"/>
<rect x="222.08" y="130.63" width="0.90" height="0.90" fill="#14305e"/>
<rect x="222.08" y="129.70" width="0.90" height="0.90" fill="#5c83b8"/>
<rect x="222.08" y="127.98" width="0.90" height="0.90" fill="#94afd3"/>
<rect x="222.08" y="126.25" width="0.90" height="0.90" fill="#14305e"/>
<rect x="222.08" y="124.66" width="0.90" height="0.90" fill="#5c83b8"/>
<rect x="222.13" y="126.25" width="0.80" height="0.80" fill="#94afd3"/>
<rect x="223.50" y="141.70" width="10.50" height="27.26" fill="#c9112f"/>
<rect x="223.50" y="126.17" width="0.50" height="15.91" fill="url(#gr)"/>
<rect x="223.50" y="139.48" width="0.50" height="2.22" fill="#c9112f"/>
<rect x="223.50" y="132.64" width="0.50" height="6.14" fill="#ffffff" opacity="0.55"/>
<rect x="224.00" y="132.33" width="0.50" height="9.76" fill="url(#gr)"/>
<rect x="224.00" y="139.30" width="0.50" height="2.40" fill="#c9112f"/>
<rect x="224.50" y="132.64" width="0.50" height="9.45" fill="url(#gr)"/>
<rect x="224.50" y="140.72" width="0.50" height="0.99" fill="#c9112f"/>
<rect x="225.00" y="128.94" width="0.50" height="13.14" fill="url(#gr)"/>
<rect x="225.00" y="137.60" width="0.50" height="4.10" fill="#c9112f"/>
<rect x="225.50" y="134.96" width="0.50" height="7.12" fill="url(#gr)"/>
<rect x="225.50" y="138.30" width="0.50" height="3.41" fill="#c9112f"/>
<rect x="226.00" y="131.30" width="0.50" height="10.79" fill="url(#gr)"/>
<rect x="226.00" y="139.96" width="0.50" height="1.75" fill="#c9112f"/>
<rect x="226.50" y="132.72" width="0.50" height="9.37" fill="url(#gr)"/>
<rect x="226.50" y="136.11" width="0.50" height="5.59" fill="#c9112f"/>
<rect x="227.00" y="127.75" width="0.50" height="14.34" fill="url(#gr)"/>
<rect x="227.00" y="139.73" width="0.50" height="1.97" fill="#c9112f"/>
<rect x="227.50" y="131.54" width="0.50" height="10.55" fill="url(#gr)"/>
<rect x="227.50" y="140.76" width="0.50" height="0.94" fill="#c9112f"/>
<rect x="228.00" y="132.73" width="0.50" height="9.36" fill="url(#gr)"/>
<rect x="228.00" y="140.27" width="0.50" height="1.43" fill="#c9112f"/>
<rect x="228.00" y="129.87" width="0.50" height="6.14" fill="#ffffff" opacity="0.55"/>
<rect x="228.50" y="130.04" width="0.50" height="12.05" fill="url(#gr)"/>
<rect x="228.50" y="138.70" width="0.50" height="3.00" fill="#c9112f"/>
<rect x="229.00" y="129.95" width="0.50" height="12.14" fill="url(#gr)"/>
<rect x="229.50" y="130.62" width="0.50" height="11.47" fill="url(#gr)"/>
<rect x="229.50" y="140.22" width="0.50" height="1.49" fill="#c9112f"/>
<rect x="230.00" y="132.21" width="0.50" height="9.88" fill="url(#gr)"/>
<rect x="230.00" y="140.52" width="0.50" height="1.19" fill="#c9112f"/>
<rect x="230.50" y="130.46" width="0.50" height="11.63" fill="url(#gr)"/>
<rect x="230.50" y="128.15" width="0.50" height="6.14" fill="#ffffff" opacity="0.55"/>
<rect x="231.00" y="134.76" width="0.50" height="7.32" fill="url(#gr)"/>
<rect x="231.00" y="141.16" width="0.50" height="0.55" fill="#c9112f"/>
<rect x="231.00" y="132.11" width="0.50" height="6.14" fill="#ffffff" opacity="0.55"/>
<rect x="231.50" y="135.15" width="0.50" height="6.94" fill="url(#gr)"/>
<rect x="231.50" y="140.92" width="0.50" height="0.78" fill="#c9112f"/>
<rect x="231.50" y="131.05" width="0.50" height="6.14" fill="#ffffff" opacity="0.55"/>
<rect x="232.00" y="131.39" width="0.50" height="10.69" fill="url(#gr)"/>
<rect x="232.00" y="141.31" width="0.50" height="0.39" fill="#c9112f"/>
<rect x="232.00" y="128.16" width="0.50" height="6.14" fill="#ffffff" opacity="0.55"/>
<rect x="232.50" y="133.72" width="0.50" height="8.37" fill="url(#gr)"/>
<rect x="232.50" y="137.05" width="0.50" height="4.66" fill="#c9112f"/>
<rect x="233.00" y="129.03" width="0.50" height="13.05" fill="url(#gr)"/>
<rect x="233.00" y="138.93" width="0.50" height="2.78" fill="#c9112f"/>
<rect x="233.50" y="128.90" width="0.50" height="13.18" fill="url(#gr)"/>
<rect x="233.50" y="141.03" width="0.50" height="0.68" fill="#c9112f"/>
<rect x="229.35" y="141.64" width="0.90" height="0.90" fill="#e36a7c"/>
<rect x="229.35" y="140.39" width="0.90" height="0.90" fill="#8e0f24"/>
<rect x="229.35" y="139.02" width="0.90" height="0.90" fill="#d8344e"/>
<rect x="229.35" y="137.38" width="0.90" height="0.90" fill="#8e0f24"/>
<rect x="229.35" y="136.24" width="0.90" height="0.90" fill="#eea0ab"/>
<rect x="229.35" y="134.52" width="0.90" height="0.90" fill="#eea0ab"/>
<rect x="229.35" y="133.49" width="0.90" height="0.90" fill="#e36a7c"/>
<rect x="229.35" y="131.56" width="0.90" height="0.90" fill="#e36a7c"/>
<rect x="229.35" y="130.55" width="0.90" height="0.90" fill="#8e0f24"/>
<rect x="229.35" y="128.51" width="0.90" height="0.90" fill="#e36a7c"/>
<rect x="229.35" y="127.54" width="0.90" height="0.90" fill="#8e0f24"/>
<rect x="229.35" y="126.21" width="0.90" height="0.90" fill="#d8344e"/>
<rect x="229.35" y="125.27" width="0.90" height="0.90" fill="#8e0f24"/>
<rect x="230.21" y="132.37" width="0.80" height="0.80" fill="#f5c6cc"/>
<rect x="229.71" y="129.50" width="0.80" height="0.80" fill="#eea0ab"/>
<rect x="229.62" y="132.06" width="0.80" height="0.80" fill="#f5c6cc"/>
<rect x="231.32" y="131.69" width="0.80" height="0.80" fill="#f5c6cc"/>
<rect x="225.78" y="130.34" width="0.80" height="0.80" fill="#f5c6cc"/>
</g>
<rect x="58.70" y="140.05" width="1.00" height="1.00" fill="#1a3f7a"/>
<rect x="58.70" y="139.12" width="1.00" height="1.00" fill="#6d8dbb"/>
<rect x="58.70" y="137.35" width="1.00" height="1.00" fill="#1a3f7a"/>
<rect x="58.70" y="136.20" width="1.00" height="1.00" fill="#1a3f7a"/>
<rect x="58.70" y="135.12" width="1.00" height="1.00" fill="#6d8dbb"/>
<rect x="58.70" y="133.71" width="1.00" height="1.00" fill="#6d8dbb"/>
<rect x="58.70" y="132.62" width="1.00" height="1.00" fill="#1a3f7a"/>
<rect x="58.70" y="130.96" width="1.00" height="1.00" fill="#1a3f7a"/>
<rect x="58.70" y="129.89" width="1.00" height="1.00" fill="#1a3f7a"/>
<rect x="58.70" y="128.30" width="1.00" height="1.00" fill="#6d8dbb"/>
<rect x="58.70" y="126.65" width="1.00" height="1.00" fill="#1a3f7a"/>
<rect x="58.70" y="125.05" width="1.00" height="1.00" fill="#6d8dbb"/>
<rect x="58.70" y="123.53" width="1.00" height="1.00" fill="#6d8dbb"/>
<rect x="58.70" y="121.87" width="1.00" height="1.00" fill="#6d8dbb"/>
<rect x="58.70" y="120.26" width="1.00" height="1.00" fill="#1a3f7a"/>
<rect x="58.70" y="119.23" width="1.00" height="1.00" fill="#1a3f7a"/>
<rect x="58.70" y="117.68" width="1.00" height="1.00" fill="#6d8dbb"/>
<rect x="58.70" y="116.48" width="1.00" height="1.00" fill="#6d8dbb"/>
<rect x="58.70" y="114.95" width="1.00" height="1.00" fill="#1a3f7a"/>
<rect x="58.70" y="113.43" width="1.00" height="1.00" fill="#1a3f7a"/>
<rect x="58.70" y="111.91" width="1.00" height="1.00" fill="#1a3f7a"/>
<rect x="58.70" y="110.44" width="1.00" height="1.00" fill="#1a3f7a"/>
<rect x="58.70" y="109.34" width="1.00" height="1.00" fill="#1a3f7a"/>
<rect x="58.70" y="108.18" width="1.00" height="1.00" fill="#1a3f7a"/>
<rect x="58.70" y="106.91" width="1.00" height="1.00" fill="#6d8dbb"/>
<rect x="58.70" y="105.37" width="1.00" height="1.00" fill="#1a3f7a"/>
<rect x="58.60" y="103.86" width="1.20" height="1.20" fill="#1a3f7a"/>
<rect x="140.10" y="140.05" width="1.00" height="1.00" fill="#1a3f7a"/>
<rect x="140.10" y="138.49" width="1.00" height="1.00" fill="#6d8dbb"/>
<rect x="140.10" y="137.28" width="1.00" height="1.00" fill="#1a3f7a"/>
<rect x="140.10" y="135.98" width="1.00" height="1.00" fill="#1a3f7a"/>
<rect x="140.10" y="134.94" width="1.00" height="1.00" fill="#1a3f7a"/>
<rect x="140.10" y="133.91" width="1.00" height="1.00" fill="#1a3f7a"/>
<rect x="140.10" y="132.43" width="1.00" height="1.00" fill="#1a3f7a"/>
<rect x="140.10" y="131.15" width="1.00" height="1.00" fill="#6d8dbb"/>
<rect x="140.10" y="129.64" width="1.00" height="1.00" fill="#1a3f7a"/>
<rect x="140.10" y="128.53" width="1.00" height="1.00" fill="#1a3f7a"/>
<rect x="140.10" y="127.00" width="1.00" height="1.00" fill="#1a3f7a"/>
<rect x="140.10" y="125.50" width="1.00" height="1.00" fill="#1a3f7a"/>
<rect x="140.10" y="124.13" width="1.00" height="1.00" fill="#1a3f7a"/>
<rect x="140.10" y="122.71" width="1.00" height="1.00" fill="#6d8dbb"/>
<rect x="140.10" y="121.67" width="1.00" height="1.00" fill="#1a3f7a"/>
<rect x="140.10" y="120.54" width="1.00" height="1.00" fill="#1a3f7a"/>
<rect x="140.10" y="119.27" width="1.00" height="1.00" fill="#1a3f7a"/>
<rect x="140.10" y="118.01" width="1.00" height="1.00" fill="#6d8dbb"/>
<rect x="140.10" y="116.77" width="1.00" height="1.00" fill="#1a3f7a"/>
<rect x="140.10" y="115.59" width="1.00" height="1.00" fill="#1a3f7a"/>
<rect x="140.10" y="113.84" width="1.00" height="1.00" fill="#1a3f7a"/>
<rect x="140.10" y="112.33" width="1.00" height="1.00" fill="#1a3f7a"/>
<rect x="140.10" y="110.75" width="1.00" height="1.00" fill="#1a3f7a"/>
<rect x="140.10" y="109.51" width="1.00" height="1.00" fill="#6d8dbb"/>
<rect x="140.10" y="107.85" width="1.00" height="1.00" fill="#1a3f7a"/>
<rect x="140.10" y="106.71" width="1.00" height="1.00" fill="#1a3f7a"/>
<rect x="140.10" y="105.38" width="1.00" height="1.00" fill="#1a3f7a"/>
<rect x="140.10" y="104.39" width="1.00" height="1.00" fill="#1a3f7a"/>
<rect x="140.10" y="103.40" width="1.00" height="1.00" fill="#6d8dbb"/>
<rect x="140.10" y="101.75" width="1.00" height="1.00" fill="#1a3f7a"/>
<rect x="140.00" y="101.55" width="1.20" height="1.20" fill="#1a3f7a"/>
<rect x="232.80" y="140.05" width="1.00" height="1.00" fill="#e8909c"/>
<rect x="232.80" y="139.21" width="1.00" height="1.00" fill="#c9112f"/>
<rect x="232.80" y="138.21" width="1.00" height="1.00" fill="#e8909c"/>
<rect x="232.80" y="137.42" width="1.00" height="1.00" fill="#e8909c"/>
<rect x="232.80" y="135.93" width="1.00" height="1.00" fill="#c9112f"/>
<rect x="232.80" y="134.56" width="1.00" height="1.00" fill="#e8909c"/>
<rect x="232.80" y="133.57" width="1.00" height="1.00" fill="#c9112f"/>
<rect x="232.80" y="132.29" width="1.00" height="1.00" fill="#c9112f"/>
<rect x="232.80" y="130.90" width="1.00" height="1.00" fill="#e8909c"/>
<rect x="232.80" y="129.43" width="1.00" height="1.00" fill="#c9112f"/>
<rect x="232.80" y="128.16" width="1.00" height="1.00" fill="#c9112f"/>
<rect x="232.80" y="127.16" width="1.00" height="1.00" fill="#c9112f"/>
<rect x="232.80" y="125.63" width="1.00" height="1.00" fill="#c9112f"/>
<rect x="232.80" y="124.30" width="1.00" height="1.00" fill="#c9112f"/>
<rect x="232.80" y="123.05" width="1.00" height="1.00" fill="#e8909c"/>
<rect x="232.80" y="122.02" width="1.00" height="1.00" fill="#c9112f"/>
<rect x="232.80" y="120.82" width="1.00" height="1.00" fill="#c9112f"/>
<rect x="232.80" y="119.73" width="1.00" height="1.00" fill="#c9112f"/>
<rect x="232.80" y="118.51" width="1.00" height="1.00" fill="#c9112f"/>
<rect x="232.80" y="117.30" width="1.00" height="1.00" fill="#e8909c"/>
<rect x="232.80" y="115.85" width="1.00" height="1.00" fill="#c9112f"/>
<rect x="232.80" y="114.90" width="1.00" height="1.00" fill="#c9112f"/>
<rect x="232.80" y="113.93" width="1.00" height="1.00" fill="#c9112f"/>
<rect x="232.80" y="112.96" width="1.00" height="1.00" fill="#c9112f"/>
<rect x="232.80" y="112.12" width="1.00" height="1.00" fill="#e8909c"/>
<rect x="232.80" y="110.85" width="1.00" height="1.00" fill="#c9112f"/>
<rect x="232.80" y="109.64" width="1.00" height="1.00" fill="#c9112f"/>
<rect x="232.80" y="108.14" width="1.00" height="1.00" fill="#c9112f"/>
<rect x="232.80" y="107.16" width="1.00" height="1.00" fill="#c9112f"/>
<rect x="232.80" y="105.73" width="1.00" height="1.00" fill="#c9112f"/>
<rect x="232.80" y="104.82" width="1.00" height="1.00" fill="#c9112f"/>
<rect x="232.70" y="104.62" width="1.20" height="1.20" fill="#c9112f"/>
<rect x="232.80" y="100.62" width="1.00" height="1.00" fill="#b8b0b4"/>
<rect x="232.80" y="95.24" width="1.00" height="1.00" fill="#b8b0b4"/>
<rect x="232.80" y="89.86" width="1.00" height="1.00" fill="#b8b0b4"/>
<line x1="31.30" y1="112.30" x2="241.00" y2="112.30" stroke="#b8bccc" stroke-width="0.6"/>
<rect x="31.4" y="64.5" width="209.6" height="107.8" fill="none" stroke="#1a1a1a" stroke-width="1"/>
<line x1="28.60" y1="168.20" x2="31.30" y2="168.20" stroke="#222" stroke-width="0.7"/>
<text x="26.60" y="170.40" font-size="6.4" text-anchor="end">0</text>
<line x1="28.60" y1="152.84" x2="31.30" y2="152.84" stroke="#222" stroke-width="0.7"/>
<text x="26.60" y="155.04" font-size="6.4" text-anchor="end">2</text>
<line x1="28.60" y1="137.48" x2="31.30" y2="137.48" stroke="#222" stroke-width="0.7"/>
<text x="26.60" y="139.68" font-size="6.4" text-anchor="end">4</text>
<line x1="28.60" y1="122.12" x2="31.30" y2="122.12" stroke="#222" stroke-width="0.7"/>
<text x="26.60" y="124.32" font-size="6.4" text-anchor="end">6</text>
<line x1="28.60" y1="106.76" x2="31.30" y2="106.76" stroke="#222" stroke-width="0.7"/>
<text x="26.60" y="108.96" font-size="6.4" text-anchor="end">8</text>
<line x1="28.60" y1="91.40" x2="31.30" y2="91.40" stroke="#222" stroke-width="0.7"/>
<text x="26.60" y="93.60" font-size="6.4" text-anchor="end">10</text>
<line x1="28.60" y1="76.04" x2="31.30" y2="76.04" stroke="#222" stroke-width="0.7"/>
<text x="26.60" y="78.24" font-size="6.4" text-anchor="end">12</text>
<text x="13.60" y="118.40" font-size="6.8" text-anchor="middle" textLength="37.20" lengthAdjust="spacingAndGlyphs" transform="rotate(-90 13.60 118.40)" stroke="#222" stroke-width="0.2">-log10 <tspan font-style="italic">P</tspan>-value</text>
<text x="58.90" y="89.80" font-size="6.6" text-anchor="middle" textLength="14.80" lengthAdjust="spacingAndGlyphs">ASB3</text>
<text x="58.60" y="97.40" font-size="6.6" text-anchor="middle" textLength="23.20" lengthAdjust="spacingAndGlyphs">ERLEC1</text>
<text x="139.90" y="82.20" font-size="6.6" text-anchor="middle" textLength="31.20" lengthAdjust="spacingAndGlyphs">PPP1R16A</text>
<text x="139.90" y="89.80" font-size="6.6" text-anchor="middle" textLength="20.80" lengthAdjust="spacingAndGlyphs">MFSD3</text>
<text x="139.50" y="97.40" font-size="6.6" text-anchor="middle" textLength="11.00" lengthAdjust="spacingAndGlyphs">GPT</text>
<text x="231.50" y="78.40" font-size="6.6" text-anchor="middle" textLength="17.00" lengthAdjust="spacingAndGlyphs">G6PD</text>
<text x="46.50" y="175.80" font-size="6.0" text-anchor="end" transform="rotate(-90 46.50 175.80)">1</text>
<text x="62.90" y="175.80" font-size="6.0" text-anchor="end" transform="rotate(-90 62.90 175.80)">2</text>
<text x="78.30" y="175.80" font-size="6.0" text-anchor="end" transform="rotate(-90 78.30 175.80)">3</text>
<text x="91.70" y="175.80" font-size="6.0" text-anchor="end" transform="rotate(-90 91.70 175.80)">4</text>
<text x="103.90" y="175.80" font-size="6.0" text-anchor="end" transform="rotate(-90 103.90 175.80)">5</text>
<text x="115.70" y="175.80" font-size="6.0" text-anchor="end" transform="rotate(-90 115.70 175.80)">6</text>
<text x="125.90" y="175.80" font-size="6.0" text-anchor="end" transform="rotate(-90 125.90 175.80)">7</text>
<text x="136.10" y="175.80" font-size="6.0" text-anchor="end" transform="rotate(-90 136.10 175.80)">8</text>
<text x="144.50" y="175.80" font-size="6.0" text-anchor="end" transform="rotate(-90 144.50 175.80)">9</text>
<text x="155.00" y="175.80" font-size="6.0" text-anchor="end" transform="rotate(-90 155.00 175.80)">10</text>
<text x="163.60" y="175.80" font-size="6.0" text-anchor="end" transform="rotate(-90 163.60 175.80)">11</text>
<text x="172.30" y="175.80" font-size="6.0" text-anchor="end" transform="rotate(-90 172.30 175.80)">12</text>
<text x="179.10" y="175.80" font-size="6.0" text-anchor="end" transform="rotate(-90 179.10 175.80)">13</text>
<text x="184.80" y="175.80" font-size="6.0" text-anchor="end" transform="rotate(-90 184.80 175.80)">14</text>
<text x="189.60" y="175.80" font-size="6.0" text-anchor="end" transform="rotate(-90 189.60 175.80)">15</text>
<text x="194.10" y="175.80" font-size="6.0" text-anchor="end" transform="rotate(-90 194.10 175.80)">16</text>
<text x="198.10" y="175.80" font-size="6.0" text-anchor="end" transform="rotate(-90 198.10 175.80)">17</text>
<text x="203.60" y="175.80" font-size="6.0" text-anchor="end" transform="rotate(-90 203.60 175.80)">18</text>
<text x="207.90" y="175.80" font-size="6.0" text-anchor="end" transform="rotate(-90 207.90 175.80)">19</text>
<text x="212.10" y="175.80" font-size="6.0" text-anchor="end" transform="rotate(-90 212.10 175.80)">20</text>
<text x="217.50" y="175.80" font-size="6.0" text-anchor="end" transform="rotate(-90 217.50 175.80)">21</text>
<text x="221.30" y="175.80" font-size="6.0" text-anchor="end" transform="rotate(-90 221.30 175.80)">22</text>
<text x="232.90" y="175.80" font-size="6.0" text-anchor="end" transform="rotate(-90 232.90 175.80)">23</text>
<text x="103.00" y="192.30" font-size="8.4" text-anchor="start" fill="#1a1a1a" textLength="66.00" lengthAdjust="spacingAndGlyphs" stroke="#1a1a1a" stroke-width="0.22">Position (by chromosome)</text>
<text x="251.00" y="16.40" font-size="10.5" text-anchor="start" font-weight="bold" fill="#000">B</text>
<text x="358.70" y="29.60" font-size="8.8" text-anchor="start" textLength="35.10" lengthAdjust="spacingAndGlyphs">Succinate</text>
<line x1="272.80" y1="34.00" x2="272.80" y2="81.30" stroke="#111" stroke-width="1"/>
<line x1="272.80" y1="81.30" x2="479.00" y2="81.30" stroke="#111" stroke-width="1"/>
<line x1="479.00" y1="34.20" x2="479.00" y2="81.30" stroke="#111" stroke-width="1"/>
<line x1="270.60" y1="81.30" x2="272.80" y2="81.30" stroke="#111" stroke-width="0.7"/>
<text x="268.40" y="83.30" font-size="5.8" text-anchor="end">0</text>
<line x1="270.60" y1="74.25" x2="272.80" y2="74.25" stroke="#111" stroke-width="0.7"/>
<text x="268.40" y="76.25" font-size="5.8" text-anchor="end">2</text>
<line x1="270.60" y1="67.20" x2="272.80" y2="67.20" stroke="#111" stroke-width="0.7"/>
<text x="268.40" y="69.20" font-size="5.8" text-anchor="end">4</text>
<line x1="270.60" y1="60.15" x2="272.80" y2="60.15" stroke="#111" stroke-width="0.7"/>
<text x="268.40" y="62.15" font-size="5.8" text-anchor="end">6</text>
<line x1="270.60" y1="53.10" x2="272.80" y2="53.10" stroke="#111" stroke-width="0.7"/>
<text x="268.40" y="55.10" font-size="5.8" text-anchor="end">8</text>
<line x1="270.60" y1="46.05" x2="272.80" y2="46.05" stroke="#111" stroke-width="0.7"/>
<text x="268.40" y="48.05" font-size="5.8" text-anchor="end">10</text>
<line x1="270.60" y1="39.00" x2="272.80" y2="39.00" stroke="#111" stroke-width="0.7"/>
<text x="268.40" y="41.00" font-size="5.8" text-anchor="end">12</text>
<line x1="479.00" y1="81.30" x2="481.20" y2="81.30" stroke="#111" stroke-width="0.7"/>
<text x="482.40" y="83.30" font-size="5.8" text-anchor="start">0</text>
<line x1="479.00" y1="72.30" x2="481.20" y2="72.30" stroke="#111" stroke-width="0.7"/>
<text x="482.40" y="74.30" font-size="5.8" text-anchor="start">20</text>
<line x1="479.00" y1="63.30" x2="481.20" y2="63.30" stroke="#111" stroke-width="0.7"/>
<text x="482.40" y="65.30" font-size="5.8" text-anchor="start">40</text>
<line x1="479.00" y1="54.30" x2="481.20" y2="54.30" stroke="#111" stroke-width="0.7"/>
<text x="482.40" y="56.30" font-size="5.8" text-anchor="start">60</text>
<line x1="479.00" y1="45.30" x2="481.20" y2="45.30" stroke="#111" stroke-width="0.7"/>
<text x="482.40" y="47.30" font-size="5.8" text-anchor="start">80</text>
<line x1="479.00" y1="36.30" x2="481.20" y2="36.30" stroke="#111" stroke-width="0.7"/>
<text x="482.40" y="38.30" font-size="5.8" text-anchor="start">100</text>
<text x="256.80" y="57.80" font-size="5.8" text-anchor="middle" textLength="32.80" lengthAdjust="spacingAndGlyphs" transform="rotate(-90 256.80 57.80)">-log10 <tspan font-style="italic">P</tspan>-value</text>
<text x="505.80" y="58.00" font-size="6.2" text-anchor="middle" fill="#333" textLength="44.00" lengthAdjust="spacingAndGlyphs" transform="rotate(90 505.80 58.00)" stroke="#333" stroke-width="0.12">Recombination rate</text>
<text x="497.60" y="58.00" font-size="6.2" text-anchor="middle" fill="#333" textLength="16.00" lengthAdjust="spacingAndGlyphs" transform="rotate(90 497.60 58.00)" stroke="#333" stroke-width="0.12">(cM/Mb)</text>
<line x1="291.40" y1="81.30" x2="291.40" y2="83.60" stroke="#111" stroke-width="0.7"/>
<text x="291.40" y="91.60" font-size="6.2" text-anchor="middle" textLength="17.60" lengthAdjust="spacingAndGlyphs">153.60</text>
<line x1="343.20" y1="81.30" x2="343.20" y2="83.60" stroke="#111" stroke-width="0.7"/>
<text x="343.20" y="91.60" font-size="6.2" text-anchor="middle" textLength="17.60" lengthAdjust="spacingAndGlyphs">153.70</text>
<line x1="394.80" y1="81.30" x2="394.80" y2="83.60" stroke="#111" stroke-width="0.7"/>
<text x="394.80" y="91.60" font-size="6.2" text-anchor="middle" textLength="17.60" lengthAdjust="spacingAndGlyphs">153.80</text>
<line x1="446.30" y1="81.30" x2="446.30" y2="83.60" stroke="#111" stroke-width="0.7"/>
<text x="446.30" y="91.60" font-size="6.2" text-anchor="middle" textLength="17.60" lengthAdjust="spacingAndGlyphs">153.90</text>
<text x="376.10" y="101.80" font-size="6.8" text-anchor="middle" fill="#1a1a1a" textLength="46.00" lengthAdjust="spacingAndGlyphs" stroke="#1a1a1a" stroke-width="0.22">Chromosome X (Mb)</text>
<line x1="273" y1="55.2" x2="479" y2="55.2" stroke="#e2d2a6" stroke-width="0.7" stroke-dasharray="1.2,1.6"/>
<rect x="307.9" y="77.6" width="1.1" height="1.1" fill="#2a2470" transform="rotate(45 308.5 78.2)"/>
<rect x="318.3" y="77.2" width="1.2" height="1.2" fill="#2a2470" transform="rotate(45 318.9 77.7)"/>
<rect x="376.9" y="75.2" width="1.2" height="1.2" fill="#2a2470" transform="rotate(45 377.5 75.8)"/>
<rect x="288.6" y="77.2" width="1.0" height="1.0" fill="#2a2470" transform="rotate(45 289.1 77.7)"/>
<rect x="282.9" y="76.2" width="1.3" height="1.3" fill="#2a2470" transform="rotate(45 283.6 76.9)"/>
<rect x="341.1" y="78.2" width="1.4" height="1.4" fill="#2a2470" transform="rotate(45 341.8 78.9)"/>
<rect x="349.3" y="79.8" width="1.0" height="1.0" fill="#2a2470" transform="rotate(45 349.8 80.3)"/>
<rect x="462.8" y="78.6" width="1.1" height="1.1" fill="#2a2470" transform="rotate(45 463.4 79.1)"/>
<rect x="372.9" y="73.5" width="1.0" height="1.0" fill="#2a2470" transform="rotate(45 373.4 74.0)"/>
<rect x="432.7" y="79.4" width="1.3" height="1.3" fill="#2a2470" transform="rotate(45 433.4 80.1)"/>
<rect x="299.4" y="78.5" width="1.0" height="1.0" fill="#2a2470" transform="rotate(45 299.9 79.0)"/>
<rect x="461.9" y="76.8" width="1.1" height="1.1" fill="#2a2470" transform="rotate(45 462.4 77.3)"/>
<rect x="366.1" y="78.8" width="1.1" height="1.1" fill="#2a2470" transform="rotate(45 366.6 79.4)"/>
<rect x="279.7" y="79.9" width="1.4" height="1.4" fill="#2a2470" transform="rotate(45 280.4 80.6)"/>
<rect x="375.1" y="78.3" width="1.3" height="1.3" fill="#2a2470" transform="rotate(45 375.7 79.0)"/>
<rect x="319.5" y="77.9" width="1.2" height="1.2" fill="#2a2470" transform="rotate(45 320.1 78.5)"/>
<rect x="311.0" y="79.6" width="1.4" height="1.4" fill="#2a2470" transform="rotate(45 311.7 80.3)"/>
<rect x="344.9" y="78.1" width="1.0" height="1.0" fill="#2a2470" transform="rotate(45 345.4 78.5)"/>
<rect x="287.8" y="77.1" width="1.1" height="1.1" fill="#2a2470" transform="rotate(45 288.3 77.6)"/>
<rect x="413.0" y="77.5" width="1.4" height="1.4" fill="#2a2470" transform="rotate(45 413.7 78.2)"/>
<rect x="357.0" y="76.3" width="1.2" height="1.2" fill="#2a2470" transform="rotate(45 357.6 76.9)"/>
<rect x="453.8" y="78.4" width="1.0" height="1.0" fill="#2a2470" transform="rotate(45 454.3 79.0)"/>
<rect x="452.2" y="73.6" width="1.3" height="1.3" fill="#2a2470" transform="rotate(45 452.9 74.2)"/>
<rect x="372.6" y="75.6" width="1.0" height="1.0" fill="#2a2470" transform="rotate(45 373.1 76.2)"/>
<rect x="359.5" y="75.2" width="1.3" height="1.3" fill="#2a2470" transform="rotate(45 360.2 75.9)"/>
<rect x="474.1" y="77.4" width="1.0" height="1.0" fill="#2a2470" transform="rotate(45 474.6 77.9)"/>
<rect x="469.2" y="78.4" width="0.9" height="0.9" fill="#2a2470" transform="rotate(45 469.7 78.8)"/>
<rect x="317.4" y="76.9" width="1.3" height="1.3" fill="#2a2470" transform="rotate(45 318.1 77.5)"/>
<rect x="336.9" y="78.1" width="1.3" height="1.3" fill="#2a2470" transform="rotate(45 337.5 78.8)"/>
<rect x="276.6" y="77.7" width="0.9" height="0.9" fill="#2a2470" transform="rotate(45 277.1 78.2)"/>
<rect x="447.3" y="78.0" width="1.1" height="1.1" fill="#2a2470" transform="rotate(45 447.9 78.6)"/>
<rect x="469.1" y="76.8" width="0.9" height="0.9" fill="#2a2470" transform="rotate(45 469.6 77.3)"/>
<rect x="293.6" y="80.4" width="1.0" height="1.0" fill="#2a2470" transform="rotate(45 294.1 80.8)"/>
<rect x="450.5" y="77.7" width="1.2" height="1.2" fill="#2a2470" transform="rotate(45 451.1 78.3)"/>
<rect x="340.3" y="78.5" width="1.0" height="1.0" fill="#2a2470" transform="rotate(45 340.8 78.9)"/>
<rect x="311.8" y="78.8" width="1.2" height="1.2" fill="#2a2470" transform="rotate(45 312.3 79.4)"/>
<rect x="283.7" y="77.4" width="1.3" height="1.3" fill="#2a2470" transform="rotate(45 284.4 78.1)"/>
<rect x="435.1" y="80.4" width="0.9" height="0.9" fill="#2a2470" transform="rotate(45 435.5 80.9)"/>
<rect x="415.9" y="75.2" width="1.1" height="1.1" fill="#2a2470" transform="rotate(45 416.4 75.7)"/>
<rect x="457.3" y="79.2" width="1.2" height="1.2" fill="#2a2470" transform="rotate(45 457.9 79.8)"/>
<rect x="466.9" y="80.0" width="1.2" height="1.2" fill="#2a2470" transform="rotate(45 467.5 80.5)"/>
<rect x="423.5" y="79.1" width="1.2" height="1.2" fill="#2a2470" transform="rotate(45 424.1 79.7)"/>
<rect x="388.1" y="80.0" width="1.4" height="1.4" fill="#2a2470" transform="rotate(45 388.8 80.7)"/>
<rect x="346.6" y="79.2" width="1.0" height="1.0" fill="#2a2470" transform="rotate(45 347.1 79.7)"/>
<rect x="289.8" y="80.0" width="1.3" height="1.3" fill="#2a2470" transform="rotate(45 290.4 80.7)"/>
<rect x="365.4" y="74.2" width="1.1" height="1.1" fill="#2a2470" transform="rotate(45 366.0 74.8)"/>
<rect x="379.5" y="78.9" width="1.0" height="1.0" fill="#2a2470" transform="rotate(45 380.0 79.4)"/>
<rect x="284.3" y="78.6" width="1.3" height="1.3" fill="#2a2470" transform="rotate(45 284.9 79.2)"/>
<rect x="440.4" y="77.5" width="1.0" height="1.0" fill="#2a2470" transform="rotate(45 440.9 78.0)"/>
<rect x="352.5" y="78.3" width="1.4" height="1.4" fill="#2a2470" transform="rotate(45 353.2 79.0)"/>
<rect x="291.7" y="78.4" width="1.3" height="1.3" fill="#2a2470" transform="rotate(45 292.3 79.0)"/>
<rect x="455.1" y="77.1" width="1.3" height="1.3" fill="#2a2470" transform="rotate(45 455.8 77.8)"/>
<rect x="410.0" y="76.8" width="1.2" height="1.2" fill="#2a2470" transform="rotate(45 410.6 77.5)"/>
<rect x="324.2" y="76.6" width="1.2" height="1.2" fill="#2a2470" transform="rotate(45 324.8 77.2)"/>
<rect x="442.0" y="76.6" width="0.9" height="0.9" fill="#2a2470" transform="rotate(45 442.4 77.0)"/>
<rect x="338.0" y="79.2" width="1.0" height="1.0" fill="#2a2470" transform="rotate(45 338.5 79.7)"/>
<rect x="386.6" y="79.9" width="1.4" height="1.4" fill="#2a2470" transform="rotate(45 387.3 80.6)"/>
<rect x="425.0" y="78.4" width="1.4" height="1.4" fill="#2a2470" transform="rotate(45 425.7 79.1)"/>
<rect x="417.3" y="79.5" width="1.2" height="1.2" fill="#2a2470" transform="rotate(45 417.9 80.1)"/>
<rect x="412.8" y="79.4" width="1.1" height="1.1" fill="#2a2470" transform="rotate(45 413.4 79.9)"/>
<rect x="326.0" y="76.9" width="1.2" height="1.2" fill="#2a2470" transform="rotate(45 326.6 77.5)"/>
<rect x="315.0" y="78.0" width="1.1" height="1.1" fill="#2a2470" transform="rotate(45 315.6 78.5)"/>
<rect x="465.4" y="78.5" width="1.2" height="1.2" fill="#2a2470" transform="rotate(45 466.0 79.1)"/>
<rect x="331.4" y="79.7" width="1.0" height="1.0" fill="#2a2470" transform="rotate(45 332.0 80.2)"/>
<rect x="312.6" y="73.5" width="1.4" height="1.4" fill="#2a2470" transform="rotate(45 313.3 74.2)"/>
<rect x="376.1" y="80.2" width="1.3" height="1.3" fill="#2a2470" transform="rotate(45 376.7 80.8)"/>
<rect x="323.3" y="80.4" width="0.9" height="0.9" fill="#2a2470" transform="rotate(45 323.8 80.9)"/>
<rect x="337.2" y="78.6" width="1.1" height="1.1" fill="#2a2470" transform="rotate(45 337.7 79.1)"/>
<rect x="301.8" y="77.2" width="1.2" height="1.2" fill="#2a2470" transform="rotate(45 302.4 77.7)"/>
<rect x="284.4" y="79.6" width="1.2" height="1.2" fill="#2a2470" transform="rotate(45 285.0 80.2)"/>
<rect x="320.0" y="77.0" width="1.4" height="1.4" fill="#2a2470" transform="rotate(45 320.7 77.7)"/>
<rect x="453.9" y="80.4" width="0.9" height="0.9" fill="#2a2470" transform="rotate(45 454.4 80.9)"/>
<rect x="457.1" y="77.4" width="1.0" height="1.0" fill="#2a2470" transform="rotate(45 457.6 77.9)"/>
<rect x="286.5" y="77.0" width="1.2" height="1.2" fill="#2a2470" transform="rotate(45 287.1 77.6)"/>
<rect x="370.1" y="77.2" width="1.0" height="1.0" fill="#2a2470" transform="rotate(45 370.6 77.7)"/>
<rect x="346.0" y="79.1" width="1.3" height="1.3" fill="#2a2470" transform="rotate(45 346.7 79.7)"/>
<rect x="288.8" y="80.1" width="1.2" height="1.2" fill="#2a2470" transform="rotate(45 289.4 80.7)"/>
<rect x="313.0" y="76.4" width="1.1" height="1.1" fill="#2a2470" transform="rotate(45 313.5 76.9)"/>
<rect x="412.7" y="77.8" width="1.0" height="1.0" fill="#2a2470" transform="rotate(45 413.2 78.3)"/>
<rect x="463.3" y="78.1" width="1.2" height="1.2" fill="#2a2470" transform="rotate(45 464.0 78.8)"/>
<rect x="290.4" y="77.1" width="0.9" height="0.9" fill="#2a2470" transform="rotate(45 290.9 77.6)"/>
<rect x="346.0" y="78.3" width="1.0" height="1.0" fill="#2a2470" transform="rotate(45 346.5 78.8)"/>
<rect x="307.2" y="76.8" width="1.4" height="1.4" fill="#2a2470" transform="rotate(45 307.9 77.5)"/>
<rect x="412.3" y="79.4" width="1.4" height="1.4" fill="#2a2470" transform="rotate(45 412.9 80.1)"/>
<rect x="382.7" y="76.7" width="1.1" height="1.1" fill="#2a2470" transform="rotate(45 383.3 77.3)"/>
<rect x="465.7" y="76.7" width="0.9" height="0.9" fill="#2a2470" transform="rotate(45 466.2 77.2)"/>
<rect x="345.8" y="77.8" width="1.3" height="1.3" fill="#2a2470" transform="rotate(45 346.4 78.5)"/>
<rect x="405.7" y="79.7" width="1.2" height="1.2" fill="#2a2470" transform="rotate(45 406.3 80.3)"/>
<rect x="453.4" y="79.5" width="1.2" height="1.2" fill="#2a2470" transform="rotate(45 454.0 80.1)"/>
<rect x="453.7" y="78.9" width="1.1" height="1.1" fill="#2a2470" transform="rotate(45 454.2 79.5)"/>
<rect x="310.6" y="78.2" width="1.1" height="1.1" fill="#2a2470" transform="rotate(45 311.2 78.8)"/>
<rect x="301.0" y="80.2" width="1.2" height="1.2" fill="#2a2470" transform="rotate(45 301.6 80.8)"/>
<rect x="279.9" y="77.8" width="1.0" height="1.0" fill="#2a2470" transform="rotate(45 280.3 78.2)"/>
<rect x="462.7" y="78.2" width="1.2" height="1.2" fill="#2a2470" transform="rotate(45 463.3 78.8)"/>
<rect x="299.3" y="79.4" width="1.2" height="1.2" fill="#2a2470" transform="rotate(45 299.9 80.0)"/>
<rect x="406.6" y="79.4" width="1.1" height="1.1" fill="#2a2470" transform="rotate(45 407.1 79.9)"/>
<rect x="373.8" y="79.3" width="1.1" height="1.1" fill="#2a2470" transform="rotate(45 374.4 79.9)"/>
<rect x="281.6" y="77.0" width="1.3" height="1.3" fill="#2a2470" transform="rotate(45 282.2 77.6)"/>
<rect x="476.2" y="79.0" width="0.9" height="0.9" fill="#2a2470" transform="rotate(45 476.7 79.4)"/>
<rect x="409.2" y="77.9" width="1.4" height="1.4" fill="#2a2470" transform="rotate(45 409.9 78.6)"/>
<rect x="314.3" y="79.4" width="1.3" height="1.3" fill="#2a2470" transform="rotate(45 315.0 80.0)"/>
<rect x="372.4" y="80.1" width="1.3" height="1.3" fill="#2a2470" transform="rotate(45 373.0 80.7)"/>
<rect x="375.9" y="78.5" width="1.2" height="1.2" fill="#2a2470" transform="rotate(45 376.5 79.1)"/>
<rect x="450.1" y="77.4" width="1.0" height="1.0" fill="#2a2470" transform="rotate(45 450.7 77.9)"/>
<rect x="433.2" y="77.2" width="1.0" height="1.0" fill="#2a2470" transform="rotate(45 433.7 77.7)"/>
<rect x="446.5" y="75.4" width="1.2" height="1.2" fill="#2a2470" transform="rotate(45 447.1 76.0)"/>
<rect x="304.0" y="77.0" width="1.2" height="1.2" fill="#2a2470" transform="rotate(45 304.7 77.6)"/>
<rect x="334.5" y="79.5" width="1.1" height="1.1" fill="#2a2470" transform="rotate(45 335.0 80.1)"/>
<rect x="413.8" y="79.0" width="1.1" height="1.1" fill="#2a2470" transform="rotate(45 414.3 79.6)"/>
<rect x="313.7" y="74.1" width="1.1" height="1.1" fill="#2a2470" transform="rotate(45 314.2 74.6)"/>
<rect x="299.6" y="76.9" width="0.9" height="0.9" fill="#2a2470" transform="rotate(45 300.0 77.4)"/>
<rect x="364.5" y="78.4" width="1.1" height="1.1" fill="#2a2470" transform="rotate(45 365.1 78.9)"/>
<rect x="403.6" y="77.8" width="1.1" height="1.1" fill="#2a2470" transform="rotate(45 404.2 78.4)"/>
<rect x="367.1" y="78.2" width="1.3" height="1.3" fill="#2a2470" transform="rotate(45 367.8 78.9)"/>
<rect x="278.5" y="77.8" width="1.0" height="1.0" fill="#2a2470" transform="rotate(45 279.0 78.3)"/>
<rect x="292.0" y="78.3" width="1.3" height="1.3" fill="#2a2470" transform="rotate(45 292.6 79.0)"/>
<rect x="340.9" y="79.2" width="0.9" height="0.9" fill="#2a2470" transform="rotate(45 341.4 79.6)"/>
<rect x="312.2" y="79.7" width="1.3" height="1.3" fill="#2a2470" transform="rotate(45 312.9 80.3)"/>
<rect x="319.4" y="80.0" width="1.0" height="1.0" fill="#2a2470" transform="rotate(45 319.9 80.5)"/>
<rect x="356.6" y="77.2" width="1.2" height="1.2" fill="#2a2470" transform="rotate(45 357.3 77.9)"/>
<rect x="383.8" y="80.0" width="1.2" height="1.2" fill="#2a2470" transform="rotate(45 384.4 80.6)"/>
<rect x="293.9" y="79.5" width="1.3" height="1.3" fill="#2a2470" transform="rotate(45 294.5 80.1)"/>
<rect x="380.1" y="75.5" width="1.1" height="1.1" fill="#2a2470" transform="rotate(45 380.6 76.0)"/>
<rect x="460.0" y="79.0" width="0.9" height="0.9" fill="#2a2470" transform="rotate(45 460.4 79.5)"/>
<rect x="375.6" y="76.7" width="1.2" height="1.2" fill="#2a2470" transform="rotate(45 376.2 77.3)"/>
<rect x="311.3" y="73.0" width="1.3" height="1.3" fill="#2a2470" transform="rotate(45 312.0 73.7)"/>
<rect x="307.7" y="79.0" width="1.2" height="1.2" fill="#2a2470" transform="rotate(45 308.3 79.6)"/>
<rect x="353.6" y="75.6" width="0.9" height="0.9" fill="#2a2470" transform="rotate(45 354.0 76.1)"/>
<rect x="340.5" y="77.2" width="1.0" height="1.0" fill="#2a2470" transform="rotate(45 340.9 77.7)"/>
<rect x="337.0" y="79.9" width="1.1" height="1.1" fill="#2a2470" transform="rotate(45 337.6 80.5)"/>
<rect x="321.5" y="78.9" width="1.1" height="1.1" fill="#2a2470" transform="rotate(45 322.0 79.4)"/>
<rect x="414.7" y="77.8" width="1.2" height="1.2" fill="#2a2470" transform="rotate(45 415.2 78.4)"/>
<rect x="348.3" y="79.6" width="1.1" height="1.1" fill="#2a2470" transform="rotate(45 348.9 80.1)"/>
<rect x="341.5" y="79.6" width="1.1" height="1.1" fill="#2a2470" transform="rotate(45 342.0 80.2)"/>
<rect x="315.0" y="80.2" width="1.3" height="1.3" fill="#2a2470" transform="rotate(45 315.7 80.8)"/>
<rect x="342.8" y="77.6" width="1.2" height="1.2" fill="#2a2470" transform="rotate(45 343.4 78.2)"/>
<rect x="365.9" y="77.4" width="1.1" height="1.1" fill="#2a2470" transform="rotate(45 366.4 78.0)"/>
<rect x="331.2" y="77.9" width="1.2" height="1.2" fill="#2a2470" transform="rotate(45 331.9 78.5)"/>
<rect x="371.8" y="79.0" width="1.3" height="1.3" fill="#2a2470" transform="rotate(45 372.5 79.6)"/>
<rect x="304.0" y="77.6" width="1.2" height="1.2" fill="#2a2470" transform="rotate(45 304.6 78.2)"/>
<rect x="470.1" y="76.7" width="1.4" height="1.4" fill="#2a2470" transform="rotate(45 470.8 77.4)"/>
<rect x="341.0" y="78.9" width="1.0" height="1.0" fill="#2a2470" transform="rotate(45 341.5 79.4)"/>
<rect x="354.8" y="77.9" width="1.0" height="1.0" fill="#2a2470" transform="rotate(45 355.3 78.4)"/>
<rect x="435.6" y="77.8" width="1.3" height="1.3" fill="#2a2470" transform="rotate(45 436.2 78.5)"/>
<rect x="451.3" y="76.6" width="1.4" height="1.4" fill="#2a2470" transform="rotate(45 452.0 77.3)"/>
<rect x="375.7" y="77.4" width="1.4" height="1.4" fill="#2a2470" transform="rotate(45 376.4 78.1)"/>
<rect x="407.4" y="78.7" width="1.0" height="1.0" fill="#2a2470" transform="rotate(45 408.0 79.2)"/>
<rect x="300.8" y="78.9" width="0.9" height="0.9" fill="#2a2470" transform="rotate(45 301.3 79.4)"/>
<rect x="293.3" y="78.6" width="0.9" height="0.9" fill="#2a2470" transform="rotate(45 293.8 79.1)"/>
<rect x="403.7" y="80.0" width="1.0" height="1.0" fill="#2a2470" transform="rotate(45 404.2 80.5)"/>
<rect x="365.0" y="77.5" width="1.1" height="1.1" fill="#2a2470" transform="rotate(45 365.5 78.1)"/>
<rect x="345.1" y="77.4" width="1.4" height="1.4" fill="#2a2470" transform="rotate(45 345.8 78.1)"/>
<rect x="326.6" y="77.8" width="1.3" height="1.3" fill="#2a2470" transform="rotate(45 327.2 78.4)"/>
<rect x="446.1" y="79.7" width="1.4" height="1.4" fill="#2a2470" transform="rotate(45 446.8 80.4)"/>
<rect x="346.0" y="77.9" width="1.0" height="1.0" fill="#2a2470" transform="rotate(45 346.5 78.4)"/>
<rect x="433.5" y="80.4" width="1.0" height="1.0" fill="#2a2470" transform="rotate(45 434.0 80.9)"/>
<rect x="344.7" y="73.7" width="1.0" height="1.0" fill="#2a2470" transform="rotate(45 345.2 74.2)"/>
<rect x="447.0" y="77.0" width="1.0" height="1.0" fill="#2a2470" transform="rotate(45 447.4 77.5)"/>
<rect x="463.0" y="79.2" width="1.0" height="1.0" fill="#2a2470" transform="rotate(45 463.5 79.7)"/>
<rect x="354.8" y="77.1" width="1.3" height="1.3" fill="#2a2470" transform="rotate(45 355.4 77.7)"/>
<rect x="339.5" y="79.0" width="1.3" height="1.3" fill="#2a2470" transform="rotate(45 340.2 79.7)"/>
<rect x="476.5" y="79.9" width="1.4" height="1.4" fill="#2a2470" transform="rotate(45 477.2 80.6)"/>
<rect x="368.1" y="77.6" width="1.0" height="1.0" fill="#2a2470" transform="rotate(45 368.6 78.1)"/>
<rect x="399.5" y="76.9" width="0.9" height="0.9" fill="#2a2470" transform="rotate(45 400.0 77.4)"/>
<rect x="459.1" y="79.8" width="1.0" height="1.0" fill="#2a2470" transform="rotate(45 459.6 80.3)"/>
<rect x="437.8" y="75.5" width="1.0" height="1.0" fill="#2a2470" transform="rotate(45 438.3 76.0)"/>
<rect x="403.3" y="73.0" width="1.4" height="1.4" fill="#2a2470" transform="rotate(45 404.0 73.7)"/>
<rect x="363.9" y="78.0" width="1.2" height="1.2" fill="#2a2470" transform="rotate(45 364.5 78.6)"/>
<rect x="355.4" y="78.7" width="1.0" height="1.0" fill="#2a2470" transform="rotate(45 355.9 79.2)"/>
<rect x="335.1" y="77.4" width="0.9" height="0.9" fill="#2a2470" transform="rotate(45 335.6 77.9)"/>
<rect x="459.5" y="79.8" width="1.1" height="1.1" fill="#2a2470" transform="rotate(45 460.0 80.3)"/>
<rect x="327.6" y="79.0" width="1.0" height="1.0" fill="#2a2470" transform="rotate(45 328.1 79.5)"/>
<rect x="382.7" y="75.8" width="1.0" height="1.0" fill="#2a2470" transform="rotate(45 383.2 76.4)"/>
<rect x="343.7" y="79.2" width="1.2" height="1.2" fill="#2a2470" transform="rotate(45 344.3 79.8)"/>
<rect x="370.5" y="77.3" width="1.1" height="1.1" fill="#2a2470" transform="rotate(45 371.1 77.8)"/>
<rect x="382.8" y="77.2" width="1.4" height="1.4" fill="#2a2470" transform="rotate(45 383.5 77.9)"/>
<rect x="328.0" y="77.6" width="1.2" height="1.2" fill="#2a2470" transform="rotate(45 328.6 78.2)"/>
<rect x="458.2" y="80.0" width="1.0" height="1.0" fill="#2a2470" transform="rotate(45 458.8 80.6)"/>
<rect x="382.9" y="79.3" width="1.3" height="1.3" fill="#2a2470" transform="rotate(45 383.6 79.9)"/>
<rect x="405.1" y="77.9" width="1.0" height="1.0" fill="#2a2470" transform="rotate(45 405.6 78.4)"/>
<rect x="470.9" y="79.5" width="1.2" height="1.2" fill="#2a2470" transform="rotate(45 471.5 80.1)"/>
<rect x="378.0" y="78.1" width="1.3" height="1.3" fill="#2a2470" transform="rotate(45 378.6 78.7)"/>
<rect x="322.5" y="78.6" width="1.2" height="1.2" fill="#2a2470" transform="rotate(45 323.1 79.2)"/>
<rect x="411.5" y="79.3" width="1.1" height="1.1" fill="#2a2470" transform="rotate(45 412.0 79.9)"/>
<rect x="277.6" y="79.3" width="1.0" height="1.0" fill="#2a2470" transform="rotate(45 278.1 79.8)"/>
<rect x="410.5" y="76.3" width="1.2" height="1.2" fill="#2a2470" transform="rotate(45 411.2 76.9)"/>
<rect x="448.3" y="78.3" width="1.3" height="1.3" fill="#2a2470" transform="rotate(45 449.0 79.0)"/>
<rect x="286.6" y="78.9" width="1.1" height="1.1" fill="#2a2470" transform="rotate(45 287.1 79.5)"/>
<rect x="361.2" y="80.0" width="1.4" height="1.4" fill="#2a2470" transform="rotate(45 361.8 80.7)"/>
<rect x="321.9" y="79.5" width="1.3" height="1.3" fill="#2a2470" transform="rotate(45 322.5 80.2)"/>
<rect x="320.4" y="77.2" width="1.2" height="1.2" fill="#2a2470" transform="rotate(45 321.0 77.8)"/>
<rect x="291.6" y="76.5" width="1.1" height="1.1" fill="#2a2470" transform="rotate(45 292.1 77.1)"/>
<rect x="448.9" y="78.0" width="1.1" height="1.1" fill="#2a2470" transform="rotate(45 449.5 78.5)"/>
<rect x="441.1" y="76.0" width="1.0" height="1.0" fill="#2a2470" transform="rotate(45 441.6 76.5)"/>
<rect x="365.4" y="78.8" width="1.1" height="1.1" fill="#2a2470" transform="rotate(45 365.9 79.3)"/>
<rect x="410.9" y="79.6" width="1.0" height="1.0" fill="#2a2470" transform="rotate(45 411.4 80.1)"/>
<rect x="297.5" y="79.0" width="1.1" height="1.1" fill="#2a2470" transform="rotate(45 298.0 79.6)"/>
<rect x="407.0" y="78.2" width="1.1" height="1.1" fill="#2a2470" transform="rotate(45 407.5 78.7)"/>
<rect x="291.4" y="77.4" width="1.3" height="1.3" fill="#2a2470" transform="rotate(45 292.1 78.0)"/>
<rect x="472.5" y="78.3" width="1.1" height="1.1" fill="#2a2470" transform="rotate(45 473.0 78.8)"/>
<rect x="375.7" y="79.1" width="1.1" height="1.1" fill="#2a2470" transform="rotate(45 376.2 79.7)"/>
<rect x="407.5" y="77.0" width="1.3" height="1.3" fill="#2a2470" transform="rotate(45 408.2 77.6)"/>
<rect x="437.2" y="78.8" width="0.9" height="0.9" fill="#2a2470" transform="rotate(45 437.7 79.3)"/>
<rect x="435.6" y="77.5" width="1.1" height="1.1" fill="#2a2470" transform="rotate(45 436.2 78.1)"/>
<rect x="329.5" y="77.1" width="1.3" height="1.3" fill="#2a2470" transform="rotate(45 330.2 77.7)"/>
<rect x="462.0" y="77.3" width="1.1" height="1.1" fill="#2a2470" transform="rotate(45 462.5 77.8)"/>
<rect x="466.5" y="76.7" width="1.1" height="1.1" fill="#2a2470" transform="rotate(45 467.0 77.3)"/>
<rect x="434.4" y="77.3" width="1.1" height="1.1" fill="#2a2470" transform="rotate(45 435.0 77.9)"/>
<rect x="469.6" y="80.0" width="1.2" height="1.2" fill="#2a2470" transform="rotate(45 470.2 80.6)"/>
<rect x="458.6" y="76.5" width="1.3" height="1.3" fill="#2a2470" transform="rotate(45 459.2 77.1)"/>
<rect x="471.9" y="79.1" width="1.0" height="1.0" fill="#2a2470" transform="rotate(45 472.4 79.6)"/>
<rect x="433.2" y="79.7" width="1.4" height="1.4" fill="#2a2470" transform="rotate(45 433.8 80.4)"/>
<rect x="315.1" y="77.7" width="1.4" height="1.4" fill="#2a2470" transform="rotate(45 315.8 78.4)"/>
<rect x="378.6" y="78.3" width="1.3" height="1.3" fill="#2a2470" transform="rotate(45 379.2 79.0)"/>
<rect x="303.8" y="77.0" width="1.4" height="1.4" fill="#2a2470" transform="rotate(45 304.5 77.7)"/>
<rect x="470.0" y="78.4" width="1.0" height="1.0" fill="#2a2470" transform="rotate(45 470.5 78.9)"/>
<rect x="330.4" y="79.5" width="1.3" height="1.3" fill="#2a2470" transform="rotate(45 331.1 80.1)"/>
<rect x="284.8" y="77.9" width="1.3" height="1.3" fill="#2a2470" transform="rotate(45 285.4 78.5)"/>
<rect x="389.7" y="76.7" width="0.9" height="0.9" fill="#2a2470" transform="rotate(45 390.2 77.2)"/>
<rect x="474.9" y="76.6" width="1.3" height="1.3" fill="#2a2470" transform="rotate(45 475.6 77.2)"/>
<rect x="324.1" y="78.4" width="1.1" height="1.1" fill="#2a2470" transform="rotate(45 324.6 79.0)"/>
<rect x="350.4" y="78.6" width="0.9" height="0.9" fill="#2a2470" transform="rotate(45 350.9 79.0)"/>
<rect x="383.9" y="79.8" width="1.2" height="1.2" fill="#2a2470" transform="rotate(45 384.5 80.4)"/>
<rect x="459.1" y="78.0" width="1.2" height="1.2" fill="#2a2470" transform="rotate(45 459.7 78.6)"/>
<rect x="284.6" y="77.3" width="1.3" height="1.3" fill="#2a2470" transform="rotate(45 285.2 77.9)"/>
<rect x="301.3" y="78.1" width="0.9" height="0.9" fill="#2a2470" transform="rotate(45 301.8 78.5)"/>
<rect x="328.0" y="76.9" width="1.2" height="1.2" fill="#2a2470" transform="rotate(45 328.5 77.5)"/>
<rect x="434.8" y="76.4" width="1.2" height="1.2" fill="#2a2470" transform="rotate(45 435.4 77.0)"/>
<rect x="433.1" y="77.2" width="1.1" height="1.1" fill="#2a2470" transform="rotate(45 433.7 77.7)"/>
<rect x="433.5" y="79.3" width="1.2" height="1.2" fill="#2a2470" transform="rotate(45 434.1 79.9)"/>
<rect x="447.3" y="79.5" width="1.0" height="1.0" fill="#2a2470" transform="rotate(45 447.8 80.0)"/>
<rect x="306.2" y="78.4" width="1.2" height="1.2" fill="#2a2470" transform="rotate(45 306.8 79.0)"/>
<rect x="466.9" y="79.7" width="1.1" height="1.1" fill="#2a2470" transform="rotate(45 467.5 80.3)"/>
<rect x="327.0" y="76.7" width="1.0" height="1.0" fill="#2a2470" transform="rotate(45 327.5 77.2)"/>
<rect x="282.7" y="77.8" width="1.0" height="1.0" fill="#2a2470" transform="rotate(45 283.2 78.3)"/>
<rect x="461.4" y="77.7" width="1.4" height="1.4" fill="#2a2470" transform="rotate(45 462.1 78.4)"/>
<rect x="447.7" y="79.2" width="1.0" height="1.0" fill="#2a2470" transform="rotate(45 448.2 79.7)"/>
<rect x="345.1" y="78.7" width="1.0" height="1.0" fill="#2a2470" transform="rotate(45 345.6 79.2)"/>
<rect x="352.8" y="79.6" width="1.0" height="1.0" fill="#2a2470" transform="rotate(45 353.3 80.1)"/>
<rect x="446.4" y="78.9" width="1.3" height="1.3" fill="#2a2470" transform="rotate(45 447.1 79.6)"/>
<rect x="328.5" y="78.2" width="1.2" height="1.2" fill="#2a2470" transform="rotate(45 329.1 78.8)"/>
<rect x="357.2" y="77.8" width="1.0" height="1.0" fill="#2a2470" transform="rotate(45 357.7 78.3)"/>
<rect x="276.2" y="77.8" width="1.3" height="1.3" fill="#2a2470" transform="rotate(45 276.8 78.5)"/>
<rect x="306.2" y="77.6" width="1.2" height="1.2" fill="#2a2470" transform="rotate(45 306.8 78.2)"/>
<rect x="443.2" y="78.2" width="1.2" height="1.2" fill="#2a2470" transform="rotate(45 443.8 78.8)"/>
<rect x="304.6" y="76.9" width="0.9" height="0.9" fill="#2a2470" transform="rotate(45 305.0 77.4)"/>
<rect x="372.2" y="76.6" width="1.1" height="1.1" fill="#2a2470" transform="rotate(45 372.7 77.1)"/>
<rect x="328.4" y="76.7" width="0.9" height="0.9" fill="#2a2470" transform="rotate(45 328.9 77.2)"/>
<rect x="324.7" y="78.6" width="0.9" height="0.9" fill="#2a2470" transform="rotate(45 325.2 79.0)"/>
<rect x="342.4" y="77.5" width="1.0" height="1.0" fill="#2a2470" transform="rotate(45 342.9 78.0)"/>
<rect x="415.5" y="78.4" width="1.2" height="1.2" fill="#2a2470" transform="rotate(45 416.1 79.0)"/>
<rect x="472.4" y="77.1" width="1.1" height="1.1" fill="#2a2470" transform="rotate(45 472.9 77.7)"/>
<rect x="289.9" y="76.7" width="1.3" height="1.3" fill="#2a2470" transform="rotate(45 290.5 77.4)"/>
<rect x="448.8" y="78.1" width="1.1" height="1.1" fill="#2a2470" transform="rotate(45 449.4 78.7)"/>
<rect x="473.5" y="80.0" width="1.2" height="1.2" fill="#2a2470" transform="rotate(45 474.1 80.6)"/>
<rect x="440.6" y="78.3" width="1.1" height="1.1" fill="#2a2470" transform="rotate(45 441.1 78.8)"/>
<rect x="412.0" y="77.3" width="0.9" height="0.9" fill="#2a2470" transform="rotate(45 412.4 77.7)"/>
<rect x="407.9" y="80.5" width="1.0" height="1.0" fill="#2a2470" transform="rotate(45 408.4 80.9)"/>
<rect x="316.5" y="77.7" width="0.9" height="0.9" fill="#2a2470" transform="rotate(45 317.0 78.1)"/>
<rect x="277.8" y="80.1" width="1.1" height="1.1" fill="#2a2470" transform="rotate(45 278.4 80.6)"/>
<rect x="413.6" y="76.6" width="1.3" height="1.3" fill="#2a2470" transform="rotate(45 414.2 77.3)"/>
<rect x="446.6" y="76.3" width="1.2" height="1.2" fill="#2a2470" transform="rotate(45 447.2 76.9)"/>
<rect x="344.4" y="77.2" width="1.2" height="1.2" fill="#2a2470" transform="rotate(45 345.0 77.8)"/>
<rect x="401.7" y="77.3" width="1.0" height="1.0" fill="#2a2470" transform="rotate(45 402.2 77.8)"/>
<rect x="347.0" y="78.8" width="1.0" height="1.0" fill="#2a2470" transform="rotate(45 347.5 79.3)"/>
<rect x="387.9" y="78.5" width="1.2" height="1.2" fill="#2a2470" transform="rotate(45 388.5 79.1)"/>
<rect x="362.4" y="76.3" width="1.3" height="1.3" fill="#2a2470" transform="rotate(45 363.1 77.0)"/>
<rect x="403.7" y="74.1" width="1.3" height="1.3" fill="#2a2470" transform="rotate(45 404.3 74.8)"/>
<rect x="345.5" y="77.6" width="0.9" height="0.9" fill="#2a2470" transform="rotate(45 346.0 78.1)"/>
<rect x="448.8" y="79.0" width="1.3" height="1.3" fill="#2a2470" transform="rotate(45 449.5 79.7)"/>
<rect x="452.2" y="76.8" width="1.3" height="1.3" fill="#2a2470" transform="rotate(45 452.8 77.5)"/>
<rect x="305.4" y="78.0" width="1.3" height="1.3" fill="#2a2470" transform="rotate(45 306.0 78.7)"/>
<rect x="439.1" y="79.1" width="1.0" height="1.0" fill="#2a2470" transform="rotate(45 439.6 79.5)"/>
<rect x="345.7" y="79.7" width="1.0" height="1.0" fill="#2a2470" transform="rotate(45 346.2 80.1)"/>
<rect x="460.3" y="78.0" width="1.0" height="1.0" fill="#2a2470" transform="rotate(45 460.7 78.5)"/>
<rect x="365.0" y="78.0" width="1.4" height="1.4" fill="#2a2470" transform="rotate(45 365.7 78.7)"/>
<rect x="347.7" y="78.6" width="1.1" height="1.1" fill="#2a2470" transform="rotate(45 348.3 79.2)"/>
<rect x="330.5" y="75.2" width="1.2" height="1.2" fill="#2a2470" transform="rotate(45 331.1 75.8)"/>
<rect x="371.9" y="79.2" width="0.9" height="0.9" fill="#2a2470" transform="rotate(45 372.3 79.6)"/>
<rect x="336.8" y="78.6" width="1.1" height="1.1" fill="#2a2470" transform="rotate(45 337.4 79.2)"/>
<rect x="358.7" y="77.7" width="1.2" height="1.2" fill="#2a2470" transform="rotate(45 359.3 78.3)"/>
<rect x="313.9" y="77.8" width="1.2" height="1.2" fill="#2a2470" transform="rotate(45 314.5 78.4)"/>
<rect x="452.1" y="77.2" width="1.0" height="1.0" fill="#2a2470" transform="rotate(45 452.6 77.7)"/>
<rect x="468.1" y="78.6" width="1.1" height="1.1" fill="#2a2470" transform="rotate(45 468.6 79.1)"/>
<rect x="461.5" y="76.6" width="1.1" height="1.1" fill="#2a2470" transform="rotate(45 462.0 77.1)"/>
<rect x="298.5" y="79.5" width="1.3" height="1.3" fill="#2a2470" transform="rotate(45 299.1 80.1)"/>
<rect x="287.8" y="80.4" width="1.1" height="1.1" fill="#2a2470" transform="rotate(45 288.3 80.9)"/>
<rect x="282.8" y="78.4" width="1.3" height="1.3" fill="#2a2470" transform="rotate(45 283.5 79.1)"/>
<rect x="382.0" y="78.0" width="1.0" height="1.0" fill="#2a2470" transform="rotate(45 382.5 78.5)"/>
<rect x="318.1" y="77.2" width="1.1" height="1.1" fill="#2a2470" transform="rotate(45 318.7 77.8)"/>
<rect x="346.6" y="77.7" width="1.4" height="1.4" fill="#2a2470" transform="rotate(45 347.3 78.4)"/>
<rect x="460.8" y="76.5" width="0.9" height="0.9" fill="#2a2470" transform="rotate(45 461.2 77.0)"/>
<rect x="442.8" y="79.4" width="1.1" height="1.1" fill="#2a2470" transform="rotate(45 443.3 79.9)"/>
<rect x="472.2" y="78.7" width="1.0" height="1.0" fill="#2a2470" transform="rotate(45 472.7 79.2)"/>
<rect x="457.8" y="76.9" width="1.4" height="1.4" fill="#2a2470" transform="rotate(45 458.5 77.6)"/>
<rect x="349.8" y="77.3" width="1.3" height="1.3" fill="#2a2470" transform="rotate(45 350.5 78.0)"/>
<rect x="373.7" y="80.2" width="1.3" height="1.3" fill="#2a2470" transform="rotate(45 374.4 80.8)"/>
<rect x="357.8" y="77.1" width="1.1" height="1.1" fill="#2a2470" transform="rotate(45 358.4 77.6)"/>
<rect x="347.2" y="79.3" width="1.4" height="1.4" fill="#2a2470" transform="rotate(45 347.9 80.0)"/>
<rect x="310.9" y="78.9" width="1.1" height="1.1" fill="#2a2470" transform="rotate(45 311.4 79.4)"/>
<rect x="276.2" y="76.8" width="1.2" height="1.2" fill="#2a2470" transform="rotate(45 276.8 77.4)"/>
<rect x="473.5" y="79.2" width="1.1" height="1.1" fill="#2a2470" transform="rotate(45 474.1 79.8)"/>
<rect x="384.5" y="76.5" width="1.0" height="1.0" fill="#2a2470" transform="rotate(45 385.0 77.0)"/>
<rect x="456.3" y="79.2" width="1.3" height="1.3" fill="#2a2470" transform="rotate(45 456.9 79.8)"/>
<rect x="274.4" y="80.2" width="1.4" height="1.4" fill="#2a2470" transform="rotate(45 275.1 80.8)"/>
<rect x="415.4" y="78.5" width="1.2" height="1.2" fill="#2a2470" transform="rotate(45 416.0 79.1)"/>
<rect x="296.7" y="74.7" width="1.1" height="1.1" fill="#2a2470" transform="rotate(45 297.3 75.3)"/>
<rect x="332.3" y="76.5" width="1.0" height="1.0" fill="#2a2470" transform="rotate(45 332.7 77.0)"/>
<rect x="473.9" y="80.2" width="1.1" height="1.1" fill="#2a2470" transform="rotate(45 474.4 80.8)"/>
<rect x="473.6" y="77.1" width="1.1" height="1.1" fill="#2a2470" transform="rotate(45 474.1 77.7)"/>
<rect x="460.7" y="79.7" width="1.2" height="1.2" fill="#2a2470" transform="rotate(45 461.3 80.3)"/>
<rect x="389.6" y="78.3" width="0.9" height="0.9" fill="#2a2470" transform="rotate(45 390.1 78.8)"/>
<rect x="325.1" y="79.0" width="0.9" height="0.9" fill="#2a2470" transform="rotate(45 325.6 79.5)"/>
<rect x="424.9" y="78.8" width="1.0" height="1.0" fill="#2a2470" transform="rotate(45 425.5 79.4)"/>
<rect x="378.5" y="78.8" width="1.0" height="1.0" fill="#2a2470" transform="rotate(45 379.0 79.2)"/>
<rect x="385.3" y="78.6" width="1.0" height="1.0" fill="#2a2470" transform="rotate(45 385.8 79.1)"/>
<rect x="384.5" y="76.3" width="1.4" height="1.4" fill="#2a2470" transform="rotate(45 385.2 77.0)"/>
<rect x="470.7" y="78.6" width="1.1" height="1.1" fill="#2a2470" transform="rotate(45 471.2 79.1)"/>
<rect x="469.8" y="80.3" width="1.3" height="1.3" fill="#2a2470" transform="rotate(45 470.5 80.9)"/>
<rect x="298.0" y="78.0" width="0.9" height="0.9" fill="#2a2470" transform="rotate(45 298.5 78.5)"/>
<rect x="380.2" y="79.2" width="1.2" height="1.2" fill="#2a2470" transform="rotate(45 380.8 79.7)"/>
<rect x="321.1" y="73.7" width="1.0" height="1.0" fill="#2a2470" transform="rotate(45 321.6 74.2)"/>
<rect x="457.0" y="78.0" width="1.0" height="1.0" fill="#2a2470" transform="rotate(45 457.5 78.5)"/>
<rect x="448.3" y="76.9" width="1.2" height="1.2" fill="#2a2470" transform="rotate(45 448.9 77.5)"/>
<rect x="462.2" y="76.8" width="1.1" height="1.1" fill="#2a2470" transform="rotate(45 462.7 77.3)"/>
<rect x="439.5" y="78.0" width="1.3" height="1.3" fill="#2a2470" transform="rotate(45 440.2 78.7)"/>
<rect x="342.5" y="80.1" width="1.0" height="1.0" fill="#2a2470" transform="rotate(45 343.0 80.6)"/>
<rect x="335.2" y="77.0" width="1.4" height="1.4" fill="#2a2470" transform="rotate(45 335.9 77.7)"/>
<rect x="461.6" y="77.3" width="1.0" height="1.0" fill="#2a2470" transform="rotate(45 462.1 77.8)"/>
<rect x="367.4" y="78.0" width="0.9" height="0.9" fill="#2a2470" transform="rotate(45 367.9 78.4)"/>
<rect x="292.0" y="73.4" width="1.0" height="1.0" fill="#2a2470" transform="rotate(45 292.5 73.9)"/>
<rect x="472.5" y="78.4" width="1.3" height="1.3" fill="#2a2470" transform="rotate(45 473.2 79.0)"/>
<rect x="441.5" y="78.6" width="1.3" height="1.3" fill="#2a2470" transform="rotate(45 442.1 79.3)"/>
<rect x="326.4" y="79.0" width="1.3" height="1.3" fill="#2a2470" transform="rotate(45 327.0 79.7)"/>
<rect x="442.5" y="79.1" width="1.0" height="1.0" fill="#2a2470" transform="rotate(45 443.0 79.6)"/>
<rect x="443.6" y="80.3" width="0.9" height="0.9" fill="#2a2470" transform="rotate(45 444.0 80.8)"/>
<rect x="367.3" y="75.7" width="1.0" height="1.0" fill="#2a2470" transform="rotate(45 367.8 76.2)"/>
<rect x="416.7" y="78.9" width="1.2" height="1.2" fill="#2a2470" transform="rotate(45 417.4 79.5)"/>
<rect x="457.1" y="75.0" width="1.4" height="1.4" fill="#2a2470" transform="rotate(45 457.8 75.6)"/>
<rect x="286.4" y="79.7" width="1.3" height="1.3" fill="#2a2470" transform="rotate(45 287.1 80.4)"/>
<rect x="366.3" y="80.3" width="0.9" height="0.9" fill="#2a2470" transform="rotate(45 366.7 80.8)"/>
<rect x="289.5" y="80.2" width="1.0" height="1.0" fill="#2a2470" transform="rotate(45 290.0 80.7)"/>
<rect x="370.9" y="77.1" width="1.1" height="1.1" fill="#2a2470" transform="rotate(45 371.5 77.6)"/>
<rect x="435.5" y="78.1" width="1.2" height="1.2" fill="#2a2470" transform="rotate(45 436.1 78.7)"/>
<rect x="476.5" y="77.2" width="0.9" height="0.9" fill="#2a2470" transform="rotate(45 476.9 77.6)"/>
<rect x="286.3" y="73.2" width="1.0" height="1.0" fill="#2a2470" transform="rotate(45 286.8 73.7)"/>
<rect x="385.9" y="76.7" width="1.3" height="1.3" fill="#2a2470" transform="rotate(45 386.6 77.4)"/>
<rect x="305.8" y="78.6" width="1.1" height="1.1" fill="#2a2470" transform="rotate(45 306.4 79.1)"/>
<rect x="311.9" y="76.8" width="1.4" height="1.4" fill="#2a2470" transform="rotate(45 312.6 77.5)"/>
<rect x="338.2" y="77.0" width="1.2" height="1.2" fill="#2a2470" transform="rotate(45 338.9 77.6)"/>
<rect x="467.5" y="77.7" width="1.4" height="1.4" fill="#2a2470" transform="rotate(45 468.2 78.4)"/>
<rect x="470.7" y="77.1" width="0.9" height="0.9" fill="#2a2470" transform="rotate(45 471.2 77.6)"/>
<rect x="286.8" y="78.2" width="1.0" height="1.0" fill="#2a2470" transform="rotate(45 287.3 78.7)"/>
<rect x="441.2" y="76.6" width="0.9" height="0.9" fill="#2a2470" transform="rotate(45 441.7 77.1)"/>
<rect x="301.7" y="76.6" width="1.0" height="1.0" fill="#2a2470" transform="rotate(45 302.2 77.1)"/>
<rect x="311.3" y="77.6" width="1.0" height="1.0" fill="#2a2470" transform="rotate(45 311.7 78.1)"/>
<rect x="306.8" y="77.9" width="1.3" height="1.3" fill="#2a2470" transform="rotate(45 307.5 78.6)"/>
<rect x="305.5" y="76.8" width="1.1" height="1.1" fill="#2a2470" transform="rotate(45 306.0 77.3)"/>
<rect x="299.2" y="76.6" width="1.2" height="1.2" fill="#2a2470" transform="rotate(45 299.8 77.2)"/>
<rect x="447.5" y="80.4" width="0.9" height="0.9" fill="#2a2470" transform="rotate(45 448.0 80.9)"/>
<rect x="476.5" y="79.6" width="1.3" height="1.3" fill="#2a2470" transform="rotate(45 477.1 80.2)"/>
<rect x="364.6" y="79.6" width="1.3" height="1.3" fill="#2a2470" transform="rotate(45 365.2 80.2)"/>
<rect x="365.3" y="78.8" width="1.1" height="1.1" fill="#2a2470" transform="rotate(45 365.8 79.4)"/>
<rect x="445.0" y="79.0" width="1.1" height="1.1" fill="#2a2470" transform="rotate(45 445.6 79.5)"/>
<rect x="371.0" y="77.1" width="1.3" height="1.3" fill="#2a2470" transform="rotate(45 371.6 77.8)"/>
<rect x="360.1" y="78.5" width="1.2" height="1.2" fill="#2a2470" transform="rotate(45 360.7 79.1)"/>
<rect x="440.8" y="79.7" width="0.9" height="0.9" fill="#2a2470" transform="rotate(45 441.2 80.2)"/>
<rect x="366.5" y="78.4" width="1.2" height="1.2" fill="#2a2470" transform="rotate(45 367.1 79.0)"/>
<rect x="460.7" y="79.5" width="1.3" height="1.3" fill="#2a2470" transform="rotate(45 461.3 80.1)"/>
<rect x="289.6" y="78.2" width="0.9" height="0.9" fill="#2a2470" transform="rotate(45 290.0 78.6)"/>
<rect x="315.6" y="77.2" width="1.2" height="1.2" fill="#2a2470" transform="rotate(45 316.3 77.8)"/>
<rect x="360.0" y="78.8" width="1.1" height="1.1" fill="#2a2470" transform="rotate(45 360.6 79.4)"/>
<rect x="453.1" y="77.1" width="1.0" height="1.0" fill="#2a2470" transform="rotate(45 453.5 77.6)"/>
<rect x="342.1" y="76.5" width="1.2" height="1.2" fill="#2a2470" transform="rotate(45 342.7 77.1)"/>
<rect x="315.1" y="77.3" width="1.3" height="1.3" fill="#2a2470" transform="rotate(45 315.8 78.0)"/>
<rect x="436.0" y="78.0" width="1.2" height="1.2" fill="#2a2470" transform="rotate(45 436.6 78.6)"/>
<rect x="340.2" y="78.5" width="1.2" height="1.2" fill="#2a2470" transform="rotate(45 340.8 79.2)"/>
<rect x="402.9" y="77.0" width="1.0" height="1.0" fill="#2a2470" transform="rotate(45 403.4 77.5)"/>
<rect x="448.8" y="77.5" width="1.1" height="1.1" fill="#2a2470" transform="rotate(45 449.4 78.1)"/>
<rect x="447.1" y="77.9" width="1.3" height="1.3" fill="#2a2470" transform="rotate(45 447.8 78.6)"/>
<rect x="415.2" y="76.8" width="1.4" height="1.4" fill="#2a2470" transform="rotate(45 415.9 77.4)"/>
<rect x="383.5" y="80.2" width="1.3" height="1.3" fill="#2a2470" transform="rotate(45 384.2 80.9)"/>
<rect x="460.4" y="77.2" width="1.3" height="1.3" fill="#2a2470" transform="rotate(45 461.0 77.9)"/>
<rect x="370.7" y="80.2" width="0.9" height="0.9" fill="#2a2470" transform="rotate(45 371.2 80.7)"/>
<rect x="462.2" y="77.0" width="1.3" height="1.3" fill="#2a2470" transform="rotate(45 462.9 77.7)"/>
<rect x="366.5" y="76.0" width="1.1" height="1.1" fill="#2a2470" transform="rotate(45 367.1 76.5)"/>
<rect x="285.4" y="79.2" width="1.0" height="1.0" fill="#2a2470" transform="rotate(45 285.9 79.7)"/>
<rect x="310.4" y="79.9" width="1.3" height="1.3" fill="#2a2470" transform="rotate(45 311.1 80.6)"/>
<rect x="365.2" y="77.4" width="1.3" height="1.3" fill="#2a2470" transform="rotate(45 365.8 78.1)"/>
<rect x="436.1" y="76.0" width="1.0" height="1.0" fill="#2a2470" transform="rotate(45 436.6 76.5)"/>
<rect x="342.9" y="78.0" width="1.0" height="1.0" fill="#2a2470" transform="rotate(45 343.4 78.5)"/>
<rect x="308.4" y="77.3" width="1.3" height="1.3" fill="#2a2470" transform="rotate(45 309.0 78.0)"/>
<rect x="303.0" y="77.5" width="1.2" height="1.2" fill="#2a2470" transform="rotate(45 303.6 78.1)"/>
<rect x="403.1" y="76.8" width="1.3" height="1.3" fill="#2a2470" transform="rotate(45 403.7 77.5)"/>
<rect x="308.8" y="77.1" width="1.0" height="1.0" fill="#2a2470" transform="rotate(45 309.3 77.6)"/>
<rect x="364.8" y="79.0" width="1.4" height="1.4" fill="#2a2470" transform="rotate(45 365.5 79.7)"/>
<rect x="469.6" y="79.1" width="1.1" height="1.1" fill="#2a2470" transform="rotate(45 470.1 79.7)"/>
<rect x="303.3" y="78.2" width="1.1" height="1.1" fill="#2a2470" transform="rotate(45 303.9 78.7)"/>
<rect x="442.8" y="78.2" width="1.0" height="1.0" fill="#2a2470" transform="rotate(45 443.3 78.7)"/>
<rect x="312.1" y="80.2" width="1.0" height="1.0" fill="#2a2470" transform="rotate(45 312.6 80.7)"/>
<rect x="318.8" y="77.7" width="1.3" height="1.3" fill="#2a2470" transform="rotate(45 319.5 78.4)"/>
<rect x="468.8" y="76.7" width="1.0" height="1.0" fill="#2a2470" transform="rotate(45 469.3 77.2)"/>
<rect x="288.5" y="78.8" width="1.2" height="1.2" fill="#2a2470" transform="rotate(45 289.1 79.4)"/>
<rect x="357.7" y="79.8" width="1.2" height="1.2" fill="#2a2470" transform="rotate(45 358.3 80.4)"/>
<rect x="374.7" y="78.2" width="1.2" height="1.2" fill="#2a2470" transform="rotate(45 375.3 78.7)"/>
<rect x="450.7" y="76.7" width="1.1" height="1.1" fill="#2a2470" transform="rotate(45 451.2 77.2)"/>
<rect x="376.7" y="79.3" width="1.3" height="1.3" fill="#2a2470" transform="rotate(45 377.3 79.9)"/>
<rect x="364.1" y="80.3" width="1.1" height="1.1" fill="#2a2470" transform="rotate(45 364.6 80.9)"/>
<rect x="286.7" y="80.2" width="1.3" height="1.3" fill="#2a2470" transform="rotate(45 287.3 80.9)"/>
<rect x="444.7" y="77.9" width="1.2" height="1.2" fill="#2a2470" transform="rotate(45 445.3 78.5)"/>
<rect x="329.2" y="79.5" width="1.0" height="1.0" fill="#2a2470" transform="rotate(45 329.7 80.0)"/>
<rect x="296.9" y="76.3" width="1.4" height="1.4" fill="#2a2470" transform="rotate(45 297.6 77.0)"/>
<rect x="414.8" y="77.3" width="1.2" height="1.2" fill="#2a2470" transform="rotate(45 415.4 77.9)"/>
<rect x="314.9" y="78.2" width="1.4" height="1.4" fill="#2a2470" transform="rotate(45 315.6 78.9)"/>
<rect x="294.8" y="80.3" width="1.2" height="1.2" fill="#2a2470" transform="rotate(45 295.4 80.9)"/>
<rect x="406.0" y="80.0" width="1.3" height="1.3" fill="#2a2470" transform="rotate(45 406.6 80.6)"/>
<rect x="276.2" y="80.3" width="1.0" height="1.0" fill="#2a2470" transform="rotate(45 276.7 80.8)"/>
<rect x="288.8" y="79.2" width="1.2" height="1.2" fill="#2a2470" transform="rotate(45 289.4 79.8)"/>
<rect x="284.4" y="78.2" width="1.2" height="1.2" fill="#2a2470" transform="rotate(45 285.0 78.8)"/>
<rect x="353.8" y="77.3" width="1.3" height="1.3" fill="#2a2470" transform="rotate(45 354.4 77.9)"/>
<rect x="312.9" y="78.4" width="1.2" height="1.2" fill="#2a2470" transform="rotate(45 313.5 79.0)"/>
<rect x="330.4" y="78.8" width="1.3" height="1.3" fill="#2a2470" transform="rotate(45 331.0 79.5)"/>
<rect x="348.4" y="76.9" width="1.3" height="1.3" fill="#2a2470" transform="rotate(45 349.1 77.6)"/>
<rect x="382.1" y="79.2" width="1.1" height="1.1" fill="#2a2470" transform="rotate(45 382.7 79.8)"/>
<rect x="284.9" y="78.7" width="0.9" height="0.9" fill="#2a2470" transform="rotate(45 285.4 79.1)"/>
<rect x="328.4" y="76.5" width="1.1" height="1.1" fill="#2a2470" transform="rotate(45 328.9 77.1)"/>
<rect x="388.7" y="79.2" width="1.3" height="1.3" fill="#2a2470" transform="rotate(45 389.4 79.9)"/>
<rect x="364.6" y="78.1" width="1.3" height="1.3" fill="#2a2470" transform="rotate(45 365.2 78.7)"/>
<rect x="443.9" y="76.5" width="1.4" height="1.4" fill="#2a2470" transform="rotate(45 444.5 77.2)"/>
<rect x="318.7" y="79.9" width="1.2" height="1.2" fill="#2a2470" transform="rotate(45 319.3 80.5)"/>
<rect x="297.8" y="77.7" width="1.3" height="1.3" fill="#2a2470" transform="rotate(45 298.4 78.3)"/>
<rect x="442.5" y="79.8" width="1.0" height="1.0" fill="#2a2470" transform="rotate(45 443.0 80.3)"/>
<rect x="349.6" y="76.8" width="1.0" height="1.0" fill="#2a2470" transform="rotate(45 350.1 77.4)"/>
<rect x="388.5" y="77.9" width="1.1" height="1.1" fill="#2a2470" transform="rotate(45 389.0 78.5)"/>
<rect x="298.4" y="80.0" width="1.1" height="1.1" fill="#2a2470" transform="rotate(45 298.9 80.5)"/>
<rect x="293.3" y="77.7" width="0.9" height="0.9" fill="#2a2470" transform="rotate(45 293.7 78.1)"/>
<rect x="351.9" y="80.0" width="1.2" height="1.2" fill="#2a2470" transform="rotate(45 352.5 80.7)"/>
<rect x="327.4" y="79.9" width="1.4" height="1.4" fill="#2a2470" transform="rotate(45 328.1 80.6)"/>
<rect x="425.3" y="76.7" width="1.0" height="1.0" fill="#2a2470" transform="rotate(45 425.8 77.2)"/>
<rect x="311.8" y="78.5" width="1.1" height="1.1" fill="#2a2470" transform="rotate(45 312.4 79.1)"/>
<rect x="440.1" y="79.4" width="1.0" height="1.0" fill="#2a2470" transform="rotate(45 440.6 79.9)"/>
<rect x="440.2" y="80.2" width="0.9" height="0.9" fill="#2a2470" transform="rotate(45 440.7 80.6)"/>
<rect x="415.4" y="78.7" width="1.1" height="1.1" fill="#2a2470" transform="rotate(45 415.9 79.3)"/>
<rect x="443.7" y="77.3" width="1.3" height="1.3" fill="#2a2470" transform="rotate(45 444.3 77.9)"/>
<rect x="361.0" y="79.7" width="1.2" height="1.2" fill="#2a2470" transform="rotate(45 361.6 80.3)"/>
<rect x="362.1" y="76.3" width="1.4" height="1.4" fill="#2a2470" transform="rotate(45 362.7 77.0)"/>
<rect x="387.9" y="80.1" width="1.0" height="1.0" fill="#2a2470" transform="rotate(45 388.4 80.5)"/>
<rect x="375.0" y="78.3" width="1.4" height="1.4" fill="#2a2470" transform="rotate(45 375.6 79.0)"/>
<rect x="289.1" y="76.9" width="1.0" height="1.0" fill="#2a2470" transform="rotate(45 289.6 77.4)"/>
<rect x="290.9" y="76.1" width="1.2" height="1.2" fill="#2a2470" transform="rotate(45 291.5 76.6)"/>
<rect x="316.8" y="77.9" width="1.2" height="1.2" fill="#2a2470" transform="rotate(45 317.5 78.5)"/>
<rect x="413.5" y="76.7" width="0.9" height="0.9" fill="#2a2470" transform="rotate(45 414.0 77.2)"/>
<rect x="414.1" y="79.1" width="1.1" height="1.1" fill="#2a2470" transform="rotate(45 414.7 79.7)"/>
<rect x="284.3" y="77.7" width="1.3" height="1.3" fill="#2a2470" transform="rotate(45 284.9 78.4)"/>
<rect x="295.2" y="78.0" width="0.9" height="0.9" fill="#2a2470" transform="rotate(45 295.6 78.4)"/>
<rect x="297.7" y="78.4" width="1.0" height="1.0" fill="#2a2470" transform="rotate(45 298.1 78.9)"/>
<rect x="295.1" y="79.5" width="1.0" height="1.0" fill="#2a2470" transform="rotate(45 295.6 80.0)"/>
<rect x="440.3" y="77.3" width="1.1" height="1.1" fill="#2a2470" transform="rotate(45 440.8 77.8)"/>
<rect x="472.2" y="78.6" width="1.3" height="1.3" fill="#2a2470" transform="rotate(45 472.9 79.3)"/>
<rect x="305.2" y="80.3" width="1.0" height="1.0" fill="#2a2470" transform="rotate(45 305.7 80.8)"/>
<rect x="319.0" y="78.4" width="1.0" height="1.0" fill="#2a2470" transform="rotate(45 319.5 78.9)"/>
<rect x="315.5" y="79.9" width="1.3" height="1.3" fill="#2a2470" transform="rotate(45 316.1 80.6)"/>
<rect x="461.8" y="78.3" width="0.9" height="0.9" fill="#2a2470" transform="rotate(45 462.2 78.7)"/>
<rect x="346.5" y="79.4" width="1.4" height="1.4" fill="#2a2470" transform="rotate(45 347.2 80.1)"/>
<rect x="443.5" y="80.2" width="0.9" height="0.9" fill="#2a2470" transform="rotate(45 444.0 80.6)"/>
<rect x="470.3" y="77.3" width="1.1" height="1.1" fill="#2a2470" transform="rotate(45 470.8 77.9)"/>
<rect x="407.9" y="78.7" width="1.2" height="1.2" fill="#2a2470" transform="rotate(45 408.5 79.3)"/>
<rect x="367.1" y="77.2" width="1.0" height="1.0" fill="#2a2470" transform="rotate(45 367.7 77.7)"/>
<rect x="326.8" y="76.4" width="1.1" height="1.1" fill="#2a2470" transform="rotate(45 327.3 76.9)"/>
<rect x="385.6" y="79.3" width="1.0" height="1.0" fill="#2a2470" transform="rotate(45 386.1 79.8)"/>
<rect x="364.0" y="77.0" width="1.4" height="1.4" fill="#2a2470" transform="rotate(45 364.7 77.7)"/>
<rect x="463.9" y="79.2" width="1.2" height="1.2" fill="#2a2470" transform="rotate(45 464.5 79.9)"/>
<rect x="461.4" y="78.2" width="1.0" height="1.0" fill="#2a2470" transform="rotate(45 461.9 78.7)"/>
<rect x="347.2" y="79.8" width="1.1" height="1.1" fill="#2a2470" transform="rotate(45 347.7 80.4)"/>
<rect x="339.5" y="79.1" width="1.1" height="1.1" fill="#2a2470" transform="rotate(45 340.0 79.6)"/>
<rect x="374.6" y="75.7" width="1.2" height="1.2" fill="#2a2470" transform="rotate(45 375.1 76.3)"/>
<rect x="408.9" y="78.0" width="1.1" height="1.1" fill="#2a2470" transform="rotate(45 409.5 78.5)"/>
<rect x="459.6" y="77.2" width="1.2" height="1.2" fill="#2a2470" transform="rotate(45 460.2 77.8)"/>
<rect x="437.8" y="79.2" width="1.1" height="1.1" fill="#2a2470" transform="rotate(45 438.4 79.8)"/>
<rect x="377.0" y="80.1" width="1.4" height="1.4" fill="#2a2470" transform="rotate(45 377.7 80.7)"/>
<rect x="450.1" y="78.2" width="1.1" height="1.1" fill="#2a2470" transform="rotate(45 450.6 78.8)"/>
<rect x="289.0" y="77.0" width="1.2" height="1.2" fill="#2a2470" transform="rotate(45 289.6 77.6)"/>
<rect x="398.8" y="79.1" width="1.3" height="1.3" fill="#2a2470" transform="rotate(45 399.4 79.7)"/>
<rect x="414.0" y="73.8" width="0.9" height="0.9" fill="#2a2470" transform="rotate(45 414.4 74.3)"/>
<rect x="338.8" y="78.8" width="1.3" height="1.3" fill="#2a2470" transform="rotate(45 339.5 79.5)"/>
<rect x="387.1" y="78.2" width="0.9" height="0.9" fill="#2a2470" transform="rotate(45 387.5 78.7)"/>
<rect x="349.9" y="75.5" width="1.0" height="1.0" fill="#2a2470" transform="rotate(45 350.4 76.0)"/>
<rect x="300.5" y="79.6" width="1.2" height="1.2" fill="#2a2470" transform="rotate(45 301.1 80.2)"/>
<rect x="447.2" y="79.0" width="1.3" height="1.3" fill="#2a2470" transform="rotate(45 447.8 79.7)"/>
<rect x="295.4" y="79.7" width="1.0" height="1.0" fill="#2a2470" transform="rotate(45 295.9 80.1)"/>
<rect x="438.2" y="77.3" width="1.0" height="1.0" fill="#2a2470" transform="rotate(45 438.7 77.8)"/>
<rect x="421.3" y="77.8" width="0.9" height="0.9" fill="#2a2470" transform="rotate(45 421.8 78.2)"/>
<rect x="369.0" y="76.5" width="1.1" height="1.1" fill="#2a2470" transform="rotate(45 369.6 77.0)"/>
<rect x="334.3" y="78.9" width="1.2" height="1.2" fill="#2a2470" transform="rotate(45 334.9 79.4)"/>
<rect x="326.7" y="78.4" width="1.1" height="1.1" fill="#2a2470" transform="rotate(45 327.2 78.9)"/>
<rect x="325.0" y="76.6" width="1.3" height="1.3" fill="#2a2470" transform="rotate(45 325.6 77.2)"/>
<rect x="460.5" y="76.5" width="0.9" height="0.9" fill="#2a2470" transform="rotate(45 461.0 77.0)"/>
<rect x="353.3" y="76.7" width="1.2" height="1.2" fill="#2a2470" transform="rotate(45 353.8 77.3)"/>
<rect x="311.7" y="79.2" width="1.1" height="1.1" fill="#2a2470" transform="rotate(45 312.2 79.8)"/>
<rect x="380.4" y="77.8" width="1.0" height="1.0" fill="#2a2470" transform="rotate(45 380.9 78.3)"/>
<rect x="293.3" y="77.2" width="1.2" height="1.2" fill="#2a2470" transform="rotate(45 293.9 77.8)"/>
<rect x="377.4" y="77.7" width="1.1" height="1.1" fill="#2a2470" transform="rotate(45 378.0 78.2)"/>
<rect x="397.1" y="76.9" width="1.3" height="1.3" fill="#2a2470" transform="rotate(45 397.7 77.5)"/>
<rect x="333.3" y="74.4" width="1.3" height="1.3" fill="#2a2470" transform="rotate(45 333.9 75.1)"/>
<rect x="459.6" y="78.2" width="1.2" height="1.2" fill="#2a2470" transform="rotate(45 460.2 78.8)"/>
<rect x="403.7" y="76.3" width="1.0" height="1.0" fill="#2a2470" transform="rotate(45 404.2 76.8)"/>
<rect x="356.8" y="79.8" width="1.2" height="1.2" fill="#2a2470" transform="rotate(45 357.4 80.4)"/>
<rect x="352.3" y="79.6" width="1.3" height="1.3" fill="#2a2470" transform="rotate(45 353.0 80.2)"/>
<rect x="444.1" y="77.5" width="1.3" height="1.3" fill="#2a2470" transform="rotate(45 444.7 78.2)"/>
<rect x="377.5" y="78.9" width="1.2" height="1.2" fill="#2a2470" transform="rotate(45 378.1 79.6)"/>
<rect x="285.8" y="80.0" width="1.3" height="1.3" fill="#2a2470" transform="rotate(45 286.5 80.7)"/>
<rect x="363.3" y="78.2" width="1.2" height="1.2" fill="#2a2470" transform="rotate(45 363.9 78.8)"/>
<rect x="357.4" y="78.9" width="1.2" height="1.2" fill="#2a2470" transform="rotate(45 358.0 79.5)"/>
<rect x="442.7" y="78.2" width="1.2" height="1.2" fill="#2a2470" transform="rotate(45 443.3 78.8)"/>
<rect x="276.6" y="76.6" width="0.9" height="0.9" fill="#2a2470" transform="rotate(45 277.1 77.0)"/>
<rect x="348.8" y="73.9" width="1.2" height="1.2" fill="#2a2470" transform="rotate(45 349.4 74.5)"/>
<rect x="438.1" y="78.5" width="1.1" height="1.1" fill="#2a2470" transform="rotate(45 438.7 79.0)"/>
<rect x="275.5" y="80.1" width="1.0" height="1.0" fill="#2a2470" transform="rotate(45 276.0 80.6)"/>
<rect x="321.2" y="79.9" width="1.3" height="1.3" fill="#2a2470" transform="rotate(45 321.8 80.6)"/>
<rect x="463.0" y="78.9" width="1.2" height="1.2" fill="#2a2470" transform="rotate(45 463.6 79.5)"/>
<rect x="362.2" y="80.4" width="0.9" height="0.9" fill="#2a2470" transform="rotate(45 362.7 80.9)"/>
<rect x="412.9" y="76.4" width="1.2" height="1.2" fill="#2a2470" transform="rotate(45 413.5 77.0)"/>
<rect x="389.9" y="76.4" width="1.2" height="1.2" fill="#2a2470" transform="rotate(45 390.5 77.0)"/>
<rect x="341.9" y="78.4" width="1.3" height="1.3" fill="#2a2470" transform="rotate(45 342.5 79.1)"/>
<rect x="342.2" y="79.4" width="0.9" height="0.9" fill="#2a2470" transform="rotate(45 342.6 79.9)"/>
<rect x="312.4" y="76.7" width="1.0" height="1.0" fill="#2a2470" transform="rotate(45 312.9 77.2)"/>
<rect x="301.2" y="77.5" width="1.4" height="1.4" fill="#2a2470" transform="rotate(45 301.9 78.2)"/>
<rect x="465.6" y="77.3" width="1.3" height="1.3" fill="#2a2470" transform="rotate(45 466.2 77.9)"/>
<rect x="363.2" y="76.4" width="1.2" height="1.2" fill="#2a2470" transform="rotate(45 363.8 77.0)"/>
<rect x="405.6" y="79.4" width="0.9" height="0.9" fill="#2a2470" transform="rotate(45 406.0 79.8)"/>
<rect x="451.9" y="76.5" width="1.3" height="1.3" fill="#2a2470" transform="rotate(45 452.6 77.2)"/>
<rect x="363.1" y="78.1" width="1.3" height="1.3" fill="#2a2470" transform="rotate(45 363.7 78.7)"/>
<rect x="370.4" y="78.5" width="1.2" height="1.2" fill="#2a2470" transform="rotate(45 371.0 79.1)"/>
<rect x="449.1" y="77.8" width="1.1" height="1.1" fill="#2a2470" transform="rotate(45 449.7 78.4)"/>
<rect x="474.2" y="76.9" width="1.2" height="1.2" fill="#2a2470" transform="rotate(45 474.8 77.5)"/>
<rect x="438.1" y="79.4" width="1.0" height="1.0" fill="#2a2470" transform="rotate(45 438.7 79.9)"/>
<rect x="469.8" y="77.5" width="1.2" height="1.2" fill="#2a2470" transform="rotate(45 470.4 78.1)"/>
<rect x="279.4" y="78.5" width="1.1" height="1.1" fill="#2a2470" transform="rotate(45 279.9 79.1)"/>
<rect x="317.2" y="79.6" width="1.1" height="1.1" fill="#2a2470" transform="rotate(45 317.7 80.1)"/>
<rect x="426.3" y="79.8" width="1.2" height="1.2" fill="#2a2470" transform="rotate(45 426.9 80.4)"/>
<rect x="362.9" y="74.7" width="1.2" height="1.2" fill="#2a2470" transform="rotate(45 363.5 75.3)"/>
<rect x="319.5" y="77.6" width="1.0" height="1.0" fill="#2a2470" transform="rotate(45 320.0 78.0)"/>
<rect x="306.0" y="80.1" width="1.3" height="1.3" fill="#2a2470" transform="rotate(45 306.6 80.8)"/>
<rect x="309.8" y="79.3" width="1.0" height="1.0" fill="#2a2470" transform="rotate(45 310.3 79.8)"/>
<rect x="450.9" y="77.0" width="1.2" height="1.2" fill="#2a2470" transform="rotate(45 451.6 77.6)"/>
<rect x="458.6" y="80.4" width="0.9" height="0.9" fill="#2a2470" transform="rotate(45 459.0 80.9)"/>
<rect x="338.8" y="79.9" width="1.0" height="1.0" fill="#2a2470" transform="rotate(45 339.3 80.4)"/>
<rect x="291.3" y="78.1" width="1.3" height="1.3" fill="#2a2470" transform="rotate(45 291.9 78.7)"/>
<rect x="425.5" y="79.3" width="1.3" height="1.3" fill="#2a2470" transform="rotate(45 426.1 79.9)"/>
<rect x="471.0" y="78.2" width="1.1" height="1.1" fill="#2a2470" transform="rotate(45 471.5 78.7)"/>
<rect x="362.8" y="79.1" width="1.0" height="1.0" fill="#2a2470" transform="rotate(45 363.3 79.7)"/>
<rect x="339.7" y="80.2" width="1.3" height="1.3" fill="#2a2470" transform="rotate(45 340.3 80.8)"/>
<rect x="344.8" y="76.5" width="1.1" height="1.1" fill="#2a2470" transform="rotate(45 345.4 77.0)"/>
<rect x="455.7" y="78.5" width="1.3" height="1.3" fill="#2a2470" transform="rotate(45 456.4 79.1)"/>
<rect x="353.0" y="73.4" width="1.2" height="1.2" fill="#2a2470" transform="rotate(45 353.6 74.0)"/>
<rect x="433.1" y="76.4" width="1.2" height="1.2" fill="#2a2470" transform="rotate(45 433.7 77.0)"/>
<rect x="297.1" y="78.1" width="1.0" height="1.0" fill="#2a2470" transform="rotate(45 297.6 78.6)"/>
<rect x="278.1" y="78.9" width="1.3" height="1.3" fill="#2a2470" transform="rotate(45 278.8 79.5)"/>
<rect x="476.0" y="76.6" width="1.3" height="1.3" fill="#2a2470" transform="rotate(45 476.6 77.2)"/>
<rect x="351.9" y="79.0" width="0.9" height="0.9" fill="#2a2470" transform="rotate(45 352.3 79.5)"/>
<rect x="411.2" y="80.1" width="1.3" height="1.3" fill="#2a2470" transform="rotate(45 411.8 80.7)"/>
<rect x="286.7" y="77.8" width="1.1" height="1.1" fill="#2a2470" transform="rotate(45 287.3 78.3)"/>
<rect x="433.2" y="79.1" width="1.1" height="1.1" fill="#2a2470" transform="rotate(45 433.8 79.7)"/>
<rect x="348.7" y="77.1" width="1.1" height="1.1" fill="#2a2470" transform="rotate(45 349.2 77.6)"/>
<rect x="432.8" y="78.6" width="1.0" height="1.0" fill="#2a2470" transform="rotate(45 433.3 79.1)"/>
<rect x="345.7" y="78.1" width="1.4" height="1.4" fill="#2a2470" transform="rotate(45 346.4 78.8)"/>
<rect x="382.8" y="78.4" width="1.1" height="1.1" fill="#2a2470" transform="rotate(45 383.4 78.9)"/>
<rect x="326.2" y="77.6" width="1.0" height="1.0" fill="#2a2470" transform="rotate(45 326.7 78.1)"/>
<rect x="449.0" y="80.2" width="1.1" height="1.1" fill="#2a2470" transform="rotate(45 449.5 80.7)"/>
<rect x="458.2" y="78.5" width="1.0" height="1.0" fill="#2a2470" transform="rotate(45 458.7 79.0)"/>
<rect x="369.2" y="78.0" width="1.3" height="1.3" fill="#2a2470" transform="rotate(45 369.9 78.7)"/>
<rect x="299.5" y="77.4" width="1.2" height="1.2" fill="#2a2470" transform="rotate(45 300.1 78.0)"/>
<rect x="454.3" y="79.0" width="1.3" height="1.3" fill="#2a2470" transform="rotate(45 454.9 79.7)"/>
<circle cx="284.00" cy="61.60" r="0.95" fill="#5ab8d8"/>
<circle cx="288.00" cy="63.00" r="0.95" fill="#5ab8d8"/>
<circle cx="283.60" cy="65.60" r="0.95" fill="#3a78b0"/>
<circle cx="287.00" cy="67.60" r="0.95" fill="#5ab8d8"/>
<circle cx="306.00" cy="59.00" r="0.95" fill="#5ab8d8"/>
<circle cx="322.00" cy="60.00" r="0.95" fill="#5ab8d8"/>
<circle cx="324.40" cy="62.00" r="0.95" fill="#5ab8d8"/>
<circle cx="327.00" cy="62.00" r="0.95" fill="#5ab8d8"/>
<circle cx="323.60" cy="67.60" r="0.95" fill="#5ab8d8"/>
<circle cx="324.40" cy="71.00" r="0.95" fill="#5ab8d8"/>
<circle cx="357.00" cy="60.00" r="0.95" fill="#5ab8d8"/>
<circle cx="359.00" cy="62.40" r="0.95" fill="#3a78b0"/>
<circle cx="356.00" cy="65.60" r="0.95" fill="#3a78b0"/>
<circle cx="360.00" cy="67.00" r="0.95" fill="#5ab8d8"/>
<circle cx="362.00" cy="64.00" r="0.95" fill="#5ab8d8"/>
<circle cx="364.00" cy="63.00" r="0.95" fill="#3a78b0"/>
<circle cx="366.00" cy="66.00" r="0.95" fill="#5ab8d8"/>
<circle cx="368.00" cy="63.50" r="0.95" fill="#5ab8d8"/>
<circle cx="370.00" cy="65.00" r="0.95" fill="#5ab8d8"/>
<circle cx="372.00" cy="63.00" r="0.95" fill="#5ab8d8"/>
<circle cx="374.00" cy="63.60" r="0.95" fill="#5ab8d8"/>
<circle cx="378.00" cy="66.00" r="0.95" fill="#5ab8d8"/>
<circle cx="380.00" cy="67.00" r="0.95" fill="#5ab8d8"/>
<circle cx="377.00" cy="71.00" r="0.95" fill="#5ab8d8"/>
<circle cx="382.00" cy="72.00" r="0.95" fill="#5ab8d8"/>
<circle cx="409.00" cy="66.00" r="0.95" fill="#3a78b0"/>
<circle cx="412.00" cy="66.00" r="0.95" fill="#5ab8d8"/>
<circle cx="456.00" cy="69.00" r="0.95" fill="#5ab8d8"/>
<circle cx="459.00" cy="67.00" r="0.95" fill="#5ab8d8"/>
<circle cx="464.00" cy="69.00" r="0.95" fill="#3a78b0"/>
<circle cx="466.00" cy="72.00" r="0.95" fill="#3a78b0"/>
<circle cx="468.00" cy="73.00" r="0.95" fill="#5ab8d8"/>
<circle cx="436.00" cy="67.00" r="0.95" fill="#5ab8d8"/>
<circle cx="440.00" cy="71.00" r="0.95" fill="#5ab8d8"/>
<circle cx="282.00" cy="56.00" r="1.00" fill="#b8c860"/>
<circle cx="290.00" cy="55.60" r="1.00" fill="#d0c070"/>
<circle cx="296.40" cy="54.40" r="1.00" fill="#b8c860"/>
<circle cx="302.00" cy="55.40" r="1.00" fill="#d0c070"/>
<circle cx="305.00" cy="54.00" r="1.00" fill="#88b860"/>
<circle cx="320.00" cy="51.60" r="1.00" fill="#b8c860"/>
<circle cx="327.00" cy="51.00" r="1.00" fill="#d0c070"/>
<circle cx="345.00" cy="55.00" r="1.00" fill="#d0c070"/>
<circle cx="348.00" cy="56.00" r="1.00" fill="#c8b050"/>
<circle cx="361.00" cy="53.60" r="1.00" fill="#b8c860"/>
<circle cx="435.00" cy="62.00" r="1.00" fill="#b8c860"/>
<circle cx="449.00" cy="62.00" r="1.00" fill="#b8c860"/>
<circle cx="458.40" cy="59.00" r="1.00" fill="#c8b050"/>
<circle cx="467.00" cy="56.00" r="1.00" fill="#c8b050"/>
<circle cx="474.00" cy="57.60" r="1.00" fill="#d0c070"/>
<circle cx="478.00" cy="57.00" r="1.00" fill="#b8c860"/>
<circle cx="330.00" cy="62.40" r="1.30" fill="#5aa040"/>
<circle cx="375.50" cy="55.00" r="1.20" fill="#e8b040"/>
<circle cx="377.00" cy="55.00" r="0.90" fill="#e0a030"/>
<circle cx="437.00" cy="49.00" r="1.00" fill="#d05040"/>
<circle cx="442.00" cy="48.60" r="1.00" fill="#d05040"/>
<circle cx="443.00" cy="50.60" r="1.00" fill="#d05040"/>
<circle cx="449.60" cy="51.60" r="1.00" fill="#d05040"/>
<circle cx="346.00" cy="47.00" r="1.00" fill="#8a2040"/>
<circle cx="376.80" cy="39.60" r="1.10" fill="#302060"/>
<text x="308.60" y="73.00" font-size="4.5" text-anchor="start" fill="#2a2470">ε</text>
<text x="284.00" y="110.80" font-size="4.6" text-anchor="start" fill="#505060" textLength="10.00" lengthAdjust="spacingAndGlyphs">FLNA</text>
<line x1="281.00" y1="109.30" x2="283.20" y2="109.30" stroke="#505060" stroke-width="0.45"/>
<polygon points="280.40,109.30 281.60,108.70 281.60,109.90" fill="#505060"/>
<line x1="279.20" y1="112.90" x2="291.60" y2="112.90" stroke="#2a2a8a" stroke-width="0.5"/>
<rect x="279.20" y="112.00" width="2.20" height="1.80" fill="#2a2a8a"/>
<rect x="282.20" y="112.00" width="1.60" height="1.80" fill="#2a2a8a"/>
<rect x="284.60" y="112.00" width="1.60" height="1.80" fill="#2a2a8a"/>
<rect x="287.30" y="112.00" width="1.40" height="1.80" fill="#2a2a8a"/>
<text x="299.00" y="110.80" font-size="4.6" text-anchor="start" fill="#505060" textLength="12.50" lengthAdjust="spacingAndGlyphs">RPL10</text>
<line x1="312.30" y1="109.30" x2="314.60" y2="109.30" stroke="#505060" stroke-width="0.45"/>
<polygon points="315.20,109.30 314.00,108.70 314.00,109.90" fill="#505060"/>
<line x1="300.80" y1="112.90" x2="310.00" y2="112.90" stroke="#2a2a8a" stroke-width="0.5"/>
<rect x="305.20" y="112.20" width="1.80" height="1.40" fill="#2a2a8a"/>
<text x="319.30" y="110.80" font-size="4.6" text-anchor="start" fill="#505060" textLength="8.00" lengthAdjust="spacingAndGlyphs">GDI1</text>
<line x1="328.20" y1="109.30" x2="330.50" y2="109.30" stroke="#505060" stroke-width="0.45"/>
<polygon points="331.10,109.30 329.90,108.70 329.90,109.90" fill="#505060"/>
<line x1="324.50" y1="112.90" x2="326.80" y2="112.90" stroke="#2a2a8a" stroke-width="0.5"/>
<rect x="325.00" y="112.00" width="1.50" height="1.80" fill="#2a2a8a"/>
<text x="345.60" y="110.80" font-size="4.6" text-anchor="start" fill="#505060" textLength="11.40" lengthAdjust="spacingAndGlyphs">LAGE3</text>
<line x1="342.60" y1="109.30" x2="344.80" y2="109.30" stroke="#505060" stroke-width="0.45"/>
<polygon points="342.00,109.30 343.20,108.70 343.20,109.90" fill="#505060"/>
<line x1="345.50" y1="112.90" x2="347.00" y2="112.90" stroke="#2a2a8a" stroke-width="0.5"/>
<rect x="345.70" y="112.00" width="1.20" height="1.80" fill="#2a2a8a"/>
<text x="378.20" y="110.80" font-size="4.6" text-anchor="start" fill="#505060" textLength="9.30" lengthAdjust="spacingAndGlyphs">DKC1</text>
<line x1="375.60" y1="109.30" x2="377.60" y2="109.30" stroke="#505060" stroke-width="0.45"/>
<polygon points="375.00,109.30 376.20,108.70 376.20,109.90" fill="#505060"/>
<line x1="375.50" y1="112.90" x2="380.00" y2="112.90" stroke="#2a2a8a" stroke-width="0.5"/>
<rect x="375.80" y="112.00" width="2.60" height="1.80" fill="#2a2a8a"/>
<text x="392.80" y="110.80" font-size="4.6" text-anchor="start" fill="#505060" textLength="13.20" lengthAdjust="spacingAndGlyphs">CTAG1A</text>
<line x1="406.80" y1="109.30" x2="409.40" y2="109.30" stroke="#505060" stroke-width="0.45"/>
<polygon points="410.00,109.30 408.80,108.70 408.80,109.90" fill="#505060"/>
<line x1="399.00" y1="112.90" x2="400.00" y2="112.90" stroke="#2a2a8a" stroke-width="0.5"/>
<rect x="399.00" y="112.00" width="1.00" height="1.80" fill="#2a2a8a"/>
<text x="434.40" y="110.80" font-size="4.6" text-anchor="start" fill="#505060" textLength="12.90" lengthAdjust="spacingAndGlyphs">CTAG2</text>
<line x1="431.80" y1="109.30" x2="433.80" y2="109.30" stroke="#505060" stroke-width="0.45"/>
<polygon points="431.20,109.30 432.40,108.70 432.40,109.90" fill="#505060"/>
<line x1="438.50" y1="112.90" x2="440.00" y2="112.90" stroke="#2a2a8a" stroke-width="0.5"/>
<rect x="438.80" y="112.00" width="1.10" height="1.80" fill="#2a2a8a"/>
<text x="461.20" y="110.80" font-size="4.6" text-anchor="start" fill="#505060" textLength="12.10" lengthAdjust="spacingAndGlyphs">GAB3</text>
<line x1="458.80" y1="109.30" x2="460.60" y2="109.30" stroke="#505060" stroke-width="0.45"/>
<polygon points="458.20,109.30 459.40,108.70 459.40,109.90" fill="#505060"/>
<line x1="448.60" y1="112.90" x2="479.80" y2="112.90" stroke="#2a2a8a" stroke-width="0.5"/>
<rect x="448.60" y="112.00" width="1.60" height="1.80" fill="#2a2a8a"/>
<rect x="459.50" y="112.00" width="1.00" height="1.80" fill="#2a2a8a"/>
<rect x="466.50" y="112.00" width="1.20" height="1.80" fill="#2a2a8a"/>
<text x="289.30" y="119.70" font-size="4.6" text-anchor="start" fill="#505060" textLength="8.20" lengthAdjust="spacingAndGlyphs">EMD</text>
<line x1="298.30" y1="118.20" x2="300.50" y2="118.20" stroke="#505060" stroke-width="0.45"/>
<polygon points="301.10,118.20 299.90,117.60 299.90,118.80" fill="#505060"/>
<line x1="296.00" y1="121.40" x2="296.60" y2="121.40" stroke="#2a2a8a" stroke-width="0.5"/>
<rect x="295.70" y="120.50" width="1.20" height="1.80" fill="#2a2a8a"/>
<text x="308.90" y="119.70" font-size="4.6" text-anchor="start" fill="#505060" textLength="6.30" lengthAdjust="spacingAndGlyphs">TAZ</text>
<line x1="316.00" y1="118.20" x2="318.20" y2="118.20" stroke="#505060" stroke-width="0.45"/>
<polygon points="318.80,118.20 317.60,117.60 317.60,118.80" fill="#505060"/>
<line x1="311.30" y1="121.40" x2="313.50" y2="121.40" stroke="#2a2a8a" stroke-width="0.5"/>
<rect x="311.50" y="120.50" width="1.80" height="1.80" fill="#2a2a8a"/>
<text x="331.00" y="119.70" font-size="4.6" text-anchor="start" fill="#505060" textLength="14.50" lengthAdjust="spacingAndGlyphs">PLXNA3</text>
<line x1="346.20" y1="118.20" x2="348.40" y2="118.20" stroke="#505060" stroke-width="0.45"/>
<polygon points="349.00,118.20 347.80,117.60 347.80,118.80" fill="#505060"/>
<line x1="331.50" y1="121.40" x2="343.40" y2="121.40" stroke="#2a2a8a" stroke-width="0.5"/>
<rect x="331.50" y="120.60" width="11.90" height="1.60" fill="#2a2a8a"/>
<text x="361.00" y="119.70" font-size="4.6" text-anchor="start" fill="#505060" textLength="12.60" lengthAdjust="spacingAndGlyphs">FAM3A</text>
<line x1="358.20" y1="118.20" x2="360.30" y2="118.20" stroke="#505060" stroke-width="0.45"/>
<polygon points="357.60,118.20 358.80,117.60 358.80,118.80" fill="#505060"/>
<line x1="362.00" y1="121.40" x2="366.00" y2="121.40" stroke="#2a2a8a" stroke-width="0.5"/>
<rect x="362.00" y="120.50" width="1.30" height="1.80" fill="#2a2a8a"/>
<rect x="364.60" y="120.50" width="1.20" height="1.80" fill="#2a2a8a"/>
<text x="378.50" y="119.70" font-size="4.6" text-anchor="start" fill="#505060" textLength="10.50" lengthAdjust="spacingAndGlyphs">IKBKG</text>
<line x1="389.80" y1="118.20" x2="391.80" y2="118.20" stroke="#505060" stroke-width="0.45"/>
<polygon points="392.40,118.20 391.20,117.60 391.20,118.80" fill="#505060"/>
<line x1="383.00" y1="121.40" x2="385.00" y2="121.40" stroke="#2a2a8a" stroke-width="0.5"/>
<rect x="383.30" y="120.50" width="1.30" height="1.80" fill="#2a2a8a"/>
<text x="416.00" y="119.70" font-size="4.6" text-anchor="start" fill="#505060" textLength="15.80" lengthAdjust="spacingAndGlyphs">CTAG1B</text>
<line x1="413.60" y1="118.20" x2="415.60" y2="118.20" stroke="#505060" stroke-width="0.45"/>
<polygon points="413.00,118.20 414.20,117.60 414.20,118.80" fill="#505060"/>
<line x1="416.00" y1="121.40" x2="417.50" y2="121.40" stroke="#2a2a8a" stroke-width="0.5"/>
<rect x="416.00" y="120.50" width="1.00" height="1.80" fill="#2a2a8a"/>
<text x="304.00" y="127.20" font-size="4.6" text-anchor="start" fill="#505060" textLength="21.00" lengthAdjust="spacingAndGlyphs">DNASE1L1</text>
<line x1="301.00" y1="125.70" x2="303.20" y2="125.70" stroke="#505060" stroke-width="0.45"/>
<polygon points="300.40,125.70 301.60,125.10 301.60,126.30" fill="#505060"/>
<line x1="305.50" y1="128.80" x2="310.00" y2="128.80" stroke="#2a2a8a" stroke-width="0.5"/>
<rect x="306.00" y="127.90" width="2.60" height="1.80" fill="#2a2a8a"/>
<text x="347.50" y="127.20" font-size="4.6" text-anchor="start" fill="#505060" textLength="13.30" lengthAdjust="spacingAndGlyphs">UBL4A</text>
<line x1="344.40" y1="125.70" x2="346.60" y2="125.70" stroke="#505060" stroke-width="0.45"/>
<polygon points="343.80,125.70 345.00,125.10 345.00,126.30" fill="#505060"/>
<line x1="349.00" y1="128.80" x2="350.50" y2="128.80" stroke="#2a2a8a" stroke-width="0.5"/>
<rect x="349.20" y="127.90" width="1.20" height="1.80" fill="#2a2a8a"/>
<text x="312.70" y="134.40" font-size="4.6" text-anchor="start" fill="#505060" textLength="16.30" lengthAdjust="spacingAndGlyphs">ATP6AP1</text>
<line x1="329.80" y1="132.90" x2="332.00" y2="132.90" stroke="#505060" stroke-width="0.45"/>
<polygon points="332.60,132.90 331.40,132.30 331.40,133.50" fill="#505060"/>
<line x1="321.00" y1="136.00" x2="324.00" y2="136.00" stroke="#2a2a8a" stroke-width="0.5"/>
<rect x="321.30" y="135.40" width="2.20" height="1.20" fill="#2a2a8a"/>
<text x="348.00" y="134.40" font-size="4.6" text-anchor="start" fill="#505060" textLength="18.50" lengthAdjust="spacingAndGlyphs">SLC10A3</text>
<line x1="345.00" y1="132.90" x2="347.20" y2="132.90" stroke="#505060" stroke-width="0.45"/>
<polygon points="344.40,132.90 345.60,132.30 345.60,133.50" fill="#505060"/>
<line x1="350.00" y1="136.00" x2="351.50" y2="136.00" stroke="#2a2a8a" stroke-width="0.5"/>
<rect x="350.20" y="135.10" width="1.10" height="1.80" fill="#2a2a8a"/>
<text x="318.50" y="140.90" font-size="4.6" text-anchor="start" fill="#505060" textLength="13.50" lengthAdjust="spacingAndGlyphs">FAM50A</text>
<line x1="332.70" y1="139.40" x2="334.80" y2="139.40" stroke="#505060" stroke-width="0.45"/>
<polygon points="335.40,139.40 334.20,138.80 334.20,140.00" fill="#505060"/>
<line x1="324.50" y1="142.40" x2="327.50" y2="142.40" stroke="#2a2a8a" stroke-width="0.5"/>
<rect x="325.00" y="141.80" width="1.80" height="1.20" fill="#2a2a8a"/>
<text x="7.30" y="213.80" font-size="10.5" text-anchor="start" font-weight="bold" fill="#000">C</text>
<text x="21.50" y="230.70" font-size="6.8" text-anchor="start" textLength="22.00" lengthAdjust="spacingAndGlyphs">Glucose</text>
<line x1="32.70" y1="233.50" x2="32.70" y2="244.30" stroke="#333" stroke-width="0.9"/>
<polygon points="31.50,243.80 33.90,243.80 32.70,245.80" fill="#333"/>
<text x="14.40" y="253.80" font-size="6.8" text-anchor="start" textLength="33.60" lengthAdjust="spacingAndGlyphs">Glucose-6-<tspan font-style="italic">P</tspan></text>
<text x="42.00" y="243.60" font-size="6.0" text-anchor="start" textLength="36.80" lengthAdjust="spacingAndGlyphs">NADP<tspan font-size="3.8" dy="-2.2">+</tspan><tspan dy="2.2"> NADPH</tspan></text>
<line x1="49.00" y1="251.60" x2="63.80" y2="251.60" stroke="#d4325a" stroke-width="0.9"/>
<polygon points="63.20,250.40 63.20,252.80 65.60,251.60" fill="#d4325a"/>
<path d="M53.5,245 Q57.5,253 64,244.5" fill="none" stroke="#333" stroke-width="0.8"/>
<polygon points="62.6,244.6 65.2,243.2 64.8,246.2" fill="#333"/>
<text x="66.30" y="253.60" font-size="6.8" text-anchor="start" textLength="53.30" lengthAdjust="spacingAndGlyphs">6-<tspan font-style="italic">P</tspan>-Gluconolactone</text>
<line x1="121.00" y1="251.60" x2="129.80" y2="251.60" stroke="#d4325a" stroke-width="0.9"/>
<polygon points="129.20,250.40 129.20,252.80 131.60,251.60" fill="#d4325a"/>
<text x="132.70" y="253.60" font-size="6.8" text-anchor="start" textLength="39.30" lengthAdjust="spacingAndGlyphs">6-<tspan font-style="italic">P</tspan>-Gluconate</text>
<line x1="173.00" y1="251.60" x2="187.60" y2="251.60" stroke="#d4325a" stroke-width="0.9"/>
<polygon points="187.00,250.40 187.00,252.80 189.40,251.60" fill="#d4325a"/>
<text x="190.80" y="253.60" font-size="6.8" text-anchor="start" textLength="36.20" lengthAdjust="spacingAndGlyphs">Ribulose-5-<tspan font-style="italic">P</tspan></text>
<rect x="49.80" y="255.60" width="20.40" height="6.00" rx="3.00" fill="#dbeefa" stroke="#58ace0" stroke-width="0.75"/>
<text x="60.00" y="260.90" font-size="6.4" text-anchor="middle" fill="#333">G6PD</text>
<rect x="115.40" y="255.80" width="18.60" height="6.00" rx="3.00" fill="#dbeefa" stroke="#58ace0" stroke-width="0.75"/>
<text x="124.70" y="261.10" font-size="6.4" text-anchor="middle" fill="#333">6PGL</text>
<rect x="165.80" y="255.80" width="18.80" height="6.00" rx="3.00" fill="#dbeefa" stroke="#58ace0" stroke-width="0.75"/>
<text x="175.20" y="261.10" font-size="6.4" text-anchor="middle" fill="#333">6PGD</text>
<text x="72.00" y="227.30" font-size="6.8" text-anchor="start" font-style="italic" textLength="77.40" lengthAdjust="spacingAndGlyphs">Pentose Phosphate Pathway</text>
<line x1="79.20" y1="232.10" x2="95.80" y2="232.10" stroke="#d4325a" stroke-width="0.9"/>
<polygon points="95.20,230.90 95.20,233.30 97.60,232.10" fill="#d4325a"/>
<line x1="79.20" y1="238.80" x2="95.80" y2="238.80" stroke="#5ab4e0" stroke-width="0.9"/>
<polygon points="95.20,237.60 95.20,240.00 97.60,238.80" fill="#5ab4e0"/>
<text x="101.30" y="234.40" font-size="6.8" text-anchor="start" textLength="25.00" lengthAdjust="spacingAndGlyphs">Oxidative</text>
<text x="101.30" y="241.10" font-size="6.8" text-anchor="start" textLength="35.70" lengthAdjust="spacingAndGlyphs">Non-oxidative</text>
<text x="169.60" y="208.60" font-size="6.2" text-anchor="start" textLength="8.10" lengthAdjust="spacingAndGlyphs">ROS</text>
<circle cx="166.00" cy="206.90" r="2.30" fill="#f3d4da"/>
<circle cx="166.00" cy="206.90" r="1.70" fill="#e8a0ae" stroke="#b8404f" stroke-width="0.6"/>
<circle cx="162.20" cy="210.00" r="1.80" fill="#f3d4da"/>
<circle cx="162.20" cy="210.00" r="1.20" fill="#e8a0ae" stroke="#b8404f" stroke-width="0.6"/>
<circle cx="163.30" cy="213.20" r="2.00" fill="#f3d4da"/>
<circle cx="163.30" cy="213.20" r="1.40" fill="#e8a0ae" stroke="#b8404f" stroke-width="0.6"/>
<circle cx="183.30" cy="207.30" r="2.30" fill="#f3d4da"/>
<circle cx="183.30" cy="207.30" r="1.70" fill="#e8a0ae" stroke="#b8404f" stroke-width="0.6"/>
<circle cx="186.40" cy="211.50" r="2.40" fill="#f3d4da"/>
<circle cx="186.40" cy="211.50" r="1.80" fill="#e8a0ae" stroke="#b8404f" stroke-width="0.6"/>
<text x="156.00" y="223.00" font-size="6.2" text-anchor="start" textLength="11.70" lengthAdjust="spacingAndGlyphs">GSSG</text>
<text x="179.60" y="223.00" font-size="6.2" text-anchor="start" textLength="10.40" lengthAdjust="spacingAndGlyphs">GSH</text>
<text x="159.40" y="243.80" font-size="6.2" text-anchor="start" textLength="35.60" lengthAdjust="spacingAndGlyphs">NADP<tspan font-size="3.8" dy="-2.2">+</tspan><tspan dy="2.2"> NADPH</tspan></text>
<path d="M181.3,217.6 C182.5,209.5 169.5,209.5 168.9,216.2" fill="none" stroke="#333" stroke-width="0.8"/>
<polygon points="167.6,215.6 170.2,215.8 168.8,218.2" fill="#333"/>
<path d="M168.4,224.2 C168.6,229.5 183.2,233 183.2,238.6" fill="none" stroke="#333" stroke-width="0.8"/>
<path d="M182.2,226.3 C182.4,230.5 168.6,233 168.6,238.6" fill="none" stroke="#333" stroke-width="0.8"/>
<polygon points="180.9,226.8 183.4,226.6 182.4,224.2" fill="#333"/>
<polygon points="167.4,238 169.9,238.2 168.6,240.4" fill="#333"/>
<path d="M168.5,245 C169,252.5 182,252.5 182.4,246.8" fill="none" stroke="#333" stroke-width="0.8"/>
<polygon points="181.1,247.2 183.6,247.0 182.5,244.6" fill="#333"/>
<text x="198.00" y="218.80" font-size="6.8" text-anchor="start" font-style="italic" textLength="16.60" lengthAdjust="spacingAndGlyphs">Redox</text>
<text x="198.00" y="226.20" font-size="6.8" text-anchor="start" font-style="italic" textLength="34.00" lengthAdjust="spacingAndGlyphs">Homeostasis</text>
<line x1="204.40" y1="264.60" x2="204.40" y2="257.80" stroke="#4aa8d8" stroke-width="0.7"/>
<polygon points="204.40,257.80 203.30,259.80 205.50,259.80" fill="#4aa8d8"/>
<rect x="184.20" y="265.60" width="20.60" height="7.60" rx="3.80" fill="#dbeefa" stroke="#58ace0" stroke-width="0.75"/>
<text x="194.50" y="271.70" font-size="6.6" text-anchor="middle" fill="#333">RPE</text>
<rect x="206.70" y="265.60" width="18.30" height="7.60" rx="3.80" fill="#dbeefa" stroke="#58ace0" stroke-width="0.75"/>
<text x="215.85" y="271.70" font-size="6.6" text-anchor="middle" fill="#333">RPI</text>
<line x1="187.00" y1="273.20" x2="179.00" y2="277.50" stroke="#4aa8d8" stroke-width="0.7"/>
<polygon points="179.00,277.50 181.28,277.52 180.24,275.58" fill="#4aa8d8"/>
<line x1="222.00" y1="273.20" x2="226.00" y2="277.50" stroke="#4aa8d8" stroke-width="0.7"/>
<polygon points="226.00,277.50 225.44,275.29 223.83,276.78" fill="#4aa8d8"/>
<text x="165.40" y="282.30" font-size="6.8" text-anchor="start" textLength="22.10" lengthAdjust="spacingAndGlyphs">Xylulose</text>
<text x="172.00" y="290.00" font-size="6.8" text-anchor="start" textLength="9.70" lengthAdjust="spacingAndGlyphs">5-P</text>
<text x="221.00" y="282.30" font-size="6.8" text-anchor="start" textLength="18.40" lengthAdjust="spacingAndGlyphs">Ribose</text>
<text x="226.00" y="290.00" font-size="6.8" text-anchor="start" textLength="8.60" lengthAdjust="spacingAndGlyphs">5-P</text>
<line x1="216.30" y1="300.50" x2="193.40" y2="280.20" stroke="#4aa8d8" stroke-width="0.7"/>
<polygon points="193.40,280.20 194.17,282.35 195.63,280.70" fill="#4aa8d8"/>
<line x1="193.40" y1="300.50" x2="217.50" y2="280.20" stroke="#4aa8d8" stroke-width="0.7"/>
<polygon points="217.50,280.20 215.26,280.65 216.68,282.33" fill="#4aa8d8"/>
<line x1="196.00" y1="284.00" x2="216.30" y2="301.50" stroke="#4aa8d8" stroke-width="0.7"/>
<polygon points="216.30,301.50 215.50,299.36 214.07,301.03" fill="#4aa8d8"/>
<line x1="214.00" y1="284.00" x2="193.40" y2="301.50" stroke="#4aa8d8" stroke-width="0.7"/>
<polygon points="193.40,301.50 195.64,301.04 194.21,299.37" fill="#4aa8d8"/>
<rect x="194.80" y="287.30" width="19.60" height="7.20" rx="3.60" fill="#dbeefa" stroke="#58ace0" stroke-width="0.75"/>
<text x="204.60" y="293.20" font-size="6.4" text-anchor="middle" fill="#333">TKT</text>
<text x="162.00" y="308.30" font-size="6.8" text-anchor="start" textLength="41.00" lengthAdjust="spacingAndGlyphs">Glyceraldehyde</text>
<text x="178.00" y="315.00" font-size="6.8" text-anchor="start" textLength="8.50" lengthAdjust="spacingAndGlyphs">3-P</text>
<text x="207.70" y="308.30" font-size="6.8" text-anchor="start" textLength="39.30" lengthAdjust="spacingAndGlyphs">Sedoheptulose</text>
<text x="223.00" y="315.00" font-size="6.8" text-anchor="start" textLength="8.70" lengthAdjust="spacingAndGlyphs">7-P</text>
<line x1="214.00" y1="314.00" x2="193.40" y2="326.00" stroke="#4aa8d8" stroke-width="0.7"/>
<polygon points="193.40,326.00 195.68,325.94 194.57,324.04" fill="#4aa8d8"/>
<line x1="194.00" y1="312.50" x2="217.00" y2="327.00" stroke="#4aa8d8" stroke-width="0.7"/>
<polygon points="217.00,327.00 215.89,325.00 214.72,326.86" fill="#4aa8d8"/>
<line x1="196.00" y1="328.00" x2="218.50" y2="313.00" stroke="#4aa8d8" stroke-width="0.7"/>
<polygon points="218.50,313.00 216.23,313.19 217.45,315.02" fill="#4aa8d8"/>
<line x1="214.00" y1="328.00" x2="193.00" y2="311.50" stroke="#4aa8d8" stroke-width="0.7"/>
<polygon points="193.00,311.50 193.89,313.60 195.25,311.87" fill="#4aa8d8"/>
<rect x="194.60" y="317.50" width="21.70" height="6.80" rx="3.40" fill="#dbeefa" stroke="#58ace0" stroke-width="0.75"/>
<text x="205.45" y="323.20" font-size="6.0" text-anchor="middle" fill="#333">TALDO</text>
<text x="167.00" y="326.90" font-size="6.8" text-anchor="start" textLength="24.30" lengthAdjust="spacingAndGlyphs">Erythrose</text>
<text x="175.00" y="334.30" font-size="6.8" text-anchor="start" textLength="8.70" lengthAdjust="spacingAndGlyphs">4-P</text>
<text x="219.00" y="326.90" font-size="6.8" text-anchor="start" textLength="19.50" lengthAdjust="spacingAndGlyphs">Ribose</text>
<text x="224.00" y="334.30" font-size="6.8" text-anchor="start" textLength="8.70" lengthAdjust="spacingAndGlyphs">5-P</text>
<path d="M155,281 C140,287 120,292 112.3,300.3 C104,308 85,316 65,321.2" fill="none" stroke="#4aa8d8" stroke-width="0.8"/>
<path d="M65,279.2 C85,283 104,292 112.3,300.3 C120,309 140,318 155,321" fill="none" stroke="#4aa8d8" stroke-width="0.8"/>
<path d="M155,281 C158,280 161,279.8 164.5,280" fill="none" stroke="#4aa8d8" stroke-width="0.8"/>
<path d="M155,321 C158,322 161,322.3 164.5,322.3" fill="none" stroke="#4aa8d8" stroke-width="0.8"/>
<polygon points="63.4,279.0 66.2,277.7 65.9,280.6" fill="#4aa8d8"/>
<polygon points="63.4,321.5 66,320 66.3,322.9" fill="#4aa8d8"/>
<polygon points="165.4,280 162.9,278.7 162.9,281.3" fill="#4aa8d8"/>
<polygon points="165.4,322.3 162.9,321 162.9,323.6" fill="#4aa8d8"/>
<rect x="102.00" y="296.60" width="20.70" height="7.60" rx="3.80" fill="#dbeefa" stroke="#58ace0" stroke-width="0.75"/>
<text x="112.35" y="302.70" font-size="6.4" text-anchor="middle" fill="#333">TKT</text>
<text x="15.80" y="280.60" font-size="6.8" text-anchor="start" textLength="35.20" lengthAdjust="spacingAndGlyphs">Fructose-6-<tspan font-style="italic">P</tspan></text>
<line x1="32.70" y1="284.50" x2="32.70" y2="292.70" stroke="#333" stroke-width="0.9"/>
<polygon points="31.50,292.20 33.90,292.20 32.70,294.20" fill="#333"/>
<line x1="32.90" y1="258.50" x2="32.90" y2="271.50" stroke="#555" stroke-width="0.8"/>
<circle cx="32.90" cy="258.60" r="0.90" fill="#222"/>
<circle cx="32.90" cy="271.80" r="0.90" fill="#222"/>
<circle cx="33.00" cy="327.20" r="0.80" fill="#222"/>
<text x="9.60" y="302.30" font-size="6.8" text-anchor="start" textLength="48.10" lengthAdjust="spacingAndGlyphs">Fructose-1,6-bis<tspan font-style="italic">P</tspan></text>
<line x1="32.70" y1="305.00" x2="32.70" y2="313.80" stroke="#333" stroke-width="0.9"/>
<polygon points="31.50,313.30 33.90,313.30 32.70,315.30" fill="#333"/>
<text x="6.70" y="321.80" font-size="6.8" text-anchor="start" textLength="52.90" lengthAdjust="spacingAndGlyphs">Glyceraldehyde-3-<tspan font-style="italic">P</tspan></text>
<line x1="33.00" y1="324.00" x2="33.00" y2="334.60" stroke="#333" stroke-width="0.9"/>
<line x1="33.00" y1="334.60" x2="47.00" y2="334.60" stroke="#333" stroke-width="0.9"/>
<polygon points="46.6,333.3 46.6,335.9 49.3,334.6" fill="#333"/>
<text x="52.30" y="336.40" font-size="6.8" text-anchor="start" textLength="22.70" lengthAdjust="spacingAndGlyphs">Pyruvate</text>
<text x="12.80" y="276.00" font-size="6.6" text-anchor="middle" font-style="italic" fill="#444" textLength="28.00" lengthAdjust="spacingAndGlyphs" transform="rotate(-90 12.80 276.00)">Glycolysis</text>
<text x="269.00" y="163.40" font-size="10.5" text-anchor="start" font-weight="bold" fill="#000">D</text>
<text x="314.40" y="176.20" font-size="7.6" text-anchor="start" textLength="11.60" lengthAdjust="spacingAndGlyphs">6P-</text>
<text x="302.00" y="186.40" font-size="7.6" text-anchor="start" textLength="36.50" lengthAdjust="spacingAndGlyphs">Gluconate</text>
<line x1="304.20" y1="191.00" x2="304.20" y2="273.30" stroke="#222" stroke-width="1"/>
<line x1="304.20" y1="273.30" x2="334.60" y2="273.30" stroke="#222" stroke-width="1"/>
<line x1="302.20" y1="192.20" x2="304.20" y2="192.20" stroke="#222" stroke-width="0.7"/>
<text x="299.80" y="194.40" font-size="6.4" text-anchor="end" textLength="18.80" lengthAdjust="spacingAndGlyphs">6e+05</text>
<line x1="302.20" y1="219.20" x2="304.20" y2="219.20" stroke="#222" stroke-width="0.7"/>
<text x="299.80" y="221.40" font-size="6.4" text-anchor="end" textLength="18.80" lengthAdjust="spacingAndGlyphs">4e+05</text>
<line x1="302.20" y1="246.20" x2="304.20" y2="246.20" stroke="#222" stroke-width="0.7"/>
<text x="299.80" y="248.40" font-size="6.4" text-anchor="end" textLength="18.80" lengthAdjust="spacingAndGlyphs">2e+05</text>
<line x1="302.20" y1="273.20" x2="304.20" y2="273.20" stroke="#222" stroke-width="0.7"/>
<text x="299.80" y="275.40" font-size="6.4" text-anchor="end">0</text>
<rect x="309.20" y="209.40" width="7.20" height="63.40" fill="#2ba4df"/>
<rect x="323.10" y="246.20" width="7.30" height="26.60" fill="#f7931e"/>
<line x1="312.80" y1="200.00" x2="312.80" y2="209.40" stroke="#222" stroke-width="0.6"/>
<line x1="311.60" y1="200.00" x2="314.00" y2="200.00" stroke="#222" stroke-width="0.6"/>
<line x1="326.80" y1="240.80" x2="326.80" y2="246.20" stroke="#222" stroke-width="0.6"/>
<line x1="325.60" y1="240.80" x2="328.00" y2="240.80" stroke="#222" stroke-width="0.6"/>
<circle cx="312.80" cy="201.50" r="0.90" fill="#1a1a1a"/>
<circle cx="312.80" cy="211.50" r="0.90" fill="#1a1a1a"/>
<circle cx="312.80" cy="214.60" r="0.90" fill="#1a1a1a"/>
<circle cx="326.80" cy="242.00" r="0.90" fill="#1a1a1a"/>
<circle cx="326.80" cy="244.80" r="0.90" fill="#1a1a1a"/>
<circle cx="326.80" cy="252.50" r="0.90" fill="#1a1a1a"/>
<line x1="312.50" y1="195.40" x2="327.20" y2="195.40" stroke="#333" stroke-width="0.8"/>
<text x="319.80" y="194.00" font-size="6" text-anchor="middle">**</text>
<line x1="312.80" y1="273.30" x2="312.80" y2="275.00" stroke="#222" stroke-width="0.6"/>
<line x1="326.80" y1="273.30" x2="326.80" y2="275.00" stroke="#222" stroke-width="0.6"/>
<text x="275.60" y="232.40" font-size="6.8" text-anchor="middle" textLength="39.00" lengthAdjust="spacingAndGlyphs" transform="rotate(-90 275.60 232.40)" stroke="#222" stroke-width="0.22">Peak area (AU)</text>
<text x="348.30" y="163.40" font-size="10.5" text-anchor="start" font-weight="bold" fill="#000">E</text>
<text x="381.00" y="176.20" font-size="7.6" text-anchor="start" textLength="22.00" lengthAdjust="spacingAndGlyphs">G6PD</text>
<text x="379.60" y="185.80" font-size="7.6" text-anchor="start" textLength="24.40" lengthAdjust="spacingAndGlyphs">Activity</text>
<line x1="376.20" y1="191.00" x2="376.20" y2="273.30" stroke="#222" stroke-width="1"/>
<line x1="376.20" y1="273.30" x2="409.80" y2="273.30" stroke="#222" stroke-width="1"/>
<line x1="374.20" y1="192.70" x2="376.20" y2="192.70" stroke="#222" stroke-width="0.7"/>
<text x="370.80" y="195.00" font-size="6.6" text-anchor="end">125</text>
<line x1="374.20" y1="208.80" x2="376.20" y2="208.80" stroke="#222" stroke-width="0.7"/>
<text x="370.80" y="211.10" font-size="6.6" text-anchor="end">100</text>
<line x1="374.20" y1="225.00" x2="376.20" y2="225.00" stroke="#222" stroke-width="0.7"/>
<text x="370.80" y="227.30" font-size="6.6" text-anchor="end">75</text>
<line x1="374.20" y1="241.20" x2="376.20" y2="241.20" stroke="#222" stroke-width="0.7"/>
<text x="370.80" y="243.50" font-size="6.6" text-anchor="end">50</text>
<line x1="374.20" y1="257.10" x2="376.20" y2="257.10" stroke="#222" stroke-width="0.7"/>
<text x="370.80" y="259.40" font-size="6.6" text-anchor="end">25</text>
<line x1="374.20" y1="273.20" x2="376.20" y2="273.20" stroke="#222" stroke-width="0.7"/>
<text x="370.80" y="275.50" font-size="6.6" text-anchor="end">0</text>
<rect x="382.30" y="208.80" width="8.90" height="64.00" fill="#2ba4df"/>
<rect x="400.20" y="270.60" width="8.60" height="2.40" fill="#f7931e"/>
<line x1="386.70" y1="203.00" x2="386.70" y2="208.80" stroke="#222" stroke-width="0.6"/>
<line x1="385.50" y1="203.00" x2="387.90" y2="203.00" stroke="#222" stroke-width="0.6"/>
<circle cx="386.70" cy="204.50" r="0.90" fill="#1a1a1a"/>
<circle cx="386.70" cy="207.00" r="0.90" fill="#1a1a1a"/>
<circle cx="386.70" cy="210.50" r="0.90" fill="#1a1a1a"/>
<circle cx="386.70" cy="212.50" r="0.90" fill="#1a1a1a"/>
<path d="M402.5,271 l2.5,-2 l2,2 M403.5,268 l2,2" stroke="#222" stroke-width="0.7" fill="none"/>
<circle cx="405.00" cy="270.50" r="0.90" fill="#1a1a1a"/>
<circle cx="405.00" cy="271.80" r="0.90" fill="#1a1a1a"/>
<line x1="386.70" y1="195.10" x2="401.00" y2="195.10" stroke="#333" stroke-width="0.8"/>
<text x="393.80" y="193.60" font-size="6" text-anchor="middle">****</text>
<line x1="386.70" y1="273.30" x2="386.70" y2="275.00" stroke="#222" stroke-width="0.6"/>
<line x1="404.50" y1="273.30" x2="404.50" y2="275.00" stroke="#222" stroke-width="0.6"/>
<text x="354.20" y="231.50" font-size="6.8" text-anchor="middle" textLength="41.00" lengthAdjust="spacingAndGlyphs" transform="rotate(-90 354.20 231.50)" stroke="#222" stroke-width="0.22">G6PD activity %</text>
<text x="423.80" y="163.40" font-size="10.5" text-anchor="start" font-weight="bold" fill="#000">F</text>
<text x="465.00" y="176.20" font-size="7.6" text-anchor="start" textLength="16.00" lengthAdjust="spacingAndGlyphs">PPP</text>
<text x="455.60" y="186.40" font-size="7.6" text-anchor="start" textLength="34.40" lengthAdjust="spacingAndGlyphs">Activation</text>
<line x1="454.20" y1="191.00" x2="454.20" y2="273.30" stroke="#222" stroke-width="1"/>
<line x1="454.20" y1="273.30" x2="491.50" y2="273.30" stroke="#222" stroke-width="1"/>
<line x1="452.20" y1="199.80" x2="454.20" y2="199.80" stroke="#222" stroke-width="0.7"/>
<text x="448.40" y="202.10" font-size="6.6" text-anchor="end">0.15</text>
<line x1="452.20" y1="223.80" x2="454.20" y2="223.80" stroke="#222" stroke-width="0.7"/>
<text x="448.40" y="226.10" font-size="6.6" text-anchor="end">0.10</text>
<line x1="452.20" y1="248.50" x2="454.20" y2="248.50" stroke="#222" stroke-width="0.7"/>
<text x="448.40" y="250.80" font-size="6.6" text-anchor="end">0.05</text>
<line x1="452.20" y1="273.20" x2="454.20" y2="273.20" stroke="#222" stroke-width="0.7"/>
<text x="448.40" y="275.50" font-size="6.6" text-anchor="end">0</text>
<rect x="460.00" y="207.00" width="8.20" height="66.00" fill="#2ba4df"/>
<rect x="476.70" y="250.00" width="8.60" height="23.00" fill="#f7931e"/>
<line x1="464.10" y1="199.50" x2="464.10" y2="207.00" stroke="#222" stroke-width="0.6"/>
<line x1="462.90" y1="199.50" x2="465.30" y2="199.50" stroke="#222" stroke-width="0.6"/>
<circle cx="464.10" cy="201.00" r="0.90" fill="#1a1a1a"/>
<circle cx="464.10" cy="203.50" r="0.90" fill="#1a1a1a"/>
<circle cx="464.10" cy="213.60" r="0.90" fill="#1a1a1a"/>
<line x1="481.00" y1="247.80" x2="481.00" y2="250.00" stroke="#222" stroke-width="0.6"/>
<line x1="479.80" y1="247.80" x2="482.20" y2="247.80" stroke="#222" stroke-width="0.6"/>
<circle cx="481.00" cy="248.80" r="0.90" fill="#1a1a1a"/>
<circle cx="481.00" cy="251.80" r="0.90" fill="#1a1a1a"/>
<line x1="463.80" y1="196.00" x2="481.50" y2="196.00" stroke="#333" stroke-width="0.8"/>
<text x="472.60" y="194.60" font-size="6" text-anchor="middle">**</text>
<line x1="464.10" y1="273.30" x2="464.10" y2="275.00" stroke="#222" stroke-width="0.6"/>
<line x1="481.00" y1="273.30" x2="481.00" y2="275.00" stroke="#222" stroke-width="0.6"/>
<text x="430.40" y="231.80" font-size="7" text-anchor="middle" textLength="54.00" lengthAdjust="spacingAndGlyphs" transform="rotate(-90 430.40 231.80)" stroke="#222" stroke-width="0.22">13C3-6PG/13C3-HexP</text>
<text x="317.00" y="277.80" font-size="7" text-anchor="end" fill="#222" transform="rotate(-45 317.00 277.80)">hG6PD<tspan font-size="4" dy="1.6">ND</tspan></text>
<text x="332.40" y="277.80" font-size="7" text-anchor="end" fill="#222" transform="rotate(-45 332.40 277.80)">hG6PD<tspan font-size="4" dy="1.6">Mut-</tspan></text>
<text x="390.90" y="277.80" font-size="7" text-anchor="end" fill="#222" transform="rotate(-45 390.90 277.80)">hG6PD<tspan font-size="4" dy="1.6">ND</tspan></text>
<text x="410.10" y="277.80" font-size="7" text-anchor="end" fill="#222" transform="rotate(-45 410.10 277.80)">hG6PD<tspan font-size="4" dy="1.6">Mut-</tspan></text>
<text x="468.30" y="277.80" font-size="7" text-anchor="end" fill="#222" transform="rotate(-45 468.30 277.80)">hG6PD<tspan font-size="4" dy="1.6">ND</tspan></text>
<text x="486.60" y="277.80" font-size="7" text-anchor="end" fill="#222" transform="rotate(-45 486.60 277.80)">hG6PD<tspan font-size="4" dy="1.6">Mut-</tspan></text>
<text x="7.30" y="356.00" font-size="10.5" text-anchor="start" font-weight="bold" fill="#000">G</text>
<path d="M7.7,373.5 L12,368 L85,368 L87.5,373.5 L87.5,386 M7.7,373.5 L7.7,386 M12,368 L12,383 M85,368 L85,383 M7.7,373.5 L87.5,373.5" fill="none" stroke="#c8c8c8" stroke-width="0.5"/>
<path d="M27,368.5 Q31,376 37,380" fill="none" stroke="#9a4a3a" stroke-width="0.6"/>
<polygon points="7.3,390 12,384.8 87,384.8 87,390" fill="#7a7a7a"/>
<rect x="7.30" y="389.50" width="79.70" height="7.00" fill="#3c3c3c"/>
<rect x="9.00" y="390.20" width="75.00" height="1.60" fill="#8a8a8a"/>
<rect x="29.80" y="392.50" width="26.00" height="22.00" fill="#3e3e3e"/>
<polygon points="55.8,392.5 65.4,392.5 65.4,408 55.8,414.6" fill="#555"/>
<rect x="18.30" y="390.60" width="12.50" height="13.50" fill="#5a5a5a"/>
<circle cx="21.80" cy="394.50" r="1.20" fill="#e6e6e6"/>
<circle cx="21.80" cy="400.60" r="2.00" fill="#c8c8c8"/>
<circle cx="34.50" cy="397.00" r="1.30" fill="#e0e0e0"/>
<polygon points="29.6,404 40,405.5 40,407.5 29.6,406" fill="#9a9a9a"/>
<rect x="28.60" y="398.20" width="2.00" height="3.00" fill="#e8e8e8"/>
<path d="M36,385.6 C35.4,380 38.5,375.6 44,374.1 C49,372.8 53,373.5 55.4,374.7 L57,373.2 L58.7,372.3 L59.5,374 C60.7,375 61.7,376.8 62.1,378.3 L60,379.5 C58.6,380.6 57.6,382.6 57.2,385.6 Z" fill="#4d3e37"/>
<path d="M41,377 C45,375 50,374.6 54,375.8" fill="none" stroke="#6e5a50" stroke-width="0.8"/>
<circle cx="58.30" cy="373.40" r="0.80" fill="#7a6258"/>
<text x="27.00" y="428.20" font-size="6.8" text-anchor="start" textLength="38.40" lengthAdjust="spacingAndGlyphs">Critical Speed</text>
<text x="22.00" y="436.20" font-size="6.8" text-anchor="start" textLength="47.00" lengthAdjust="spacingAndGlyphs">N = 12 hG6PD<tspan font-size="4" dy="1.6">ND</tspan></text>
<text x="20.00" y="443.00" font-size="6.8" text-anchor="start" textLength="52.00" lengthAdjust="spacingAndGlyphs">N = 12 hG6PD<tspan font-size="4" dy="1.6">Mut-</tspan></text>
<text x="110.80" y="357.40" font-size="9" text-anchor="start" textLength="50.70" lengthAdjust="spacingAndGlyphs">Critical Speed</text>
<line x1="115.40" y1="361.50" x2="115.40" y2="442.20" stroke="#222" stroke-width="1"/>
<line x1="115.40" y1="442.20" x2="155.40" y2="442.20" stroke="#222" stroke-width="1"/>
<line x1="113.20" y1="442.20" x2="115.40" y2="442.20" stroke="#222" stroke-width="0.7"/>
<text x="111.60" y="444.60" font-size="6.8" text-anchor="end">0</text>
<line x1="113.20" y1="422.30" x2="115.40" y2="422.30" stroke="#222" stroke-width="0.7"/>
<text x="111.60" y="424.70" font-size="6.8" text-anchor="end">10</text>
<line x1="113.20" y1="402.40" x2="115.40" y2="402.40" stroke="#222" stroke-width="0.7"/>
<text x="111.60" y="404.80" font-size="6.8" text-anchor="end">20</text>
<line x1="113.20" y1="382.50" x2="115.40" y2="382.50" stroke="#222" stroke-width="0.7"/>
<text x="111.60" y="384.90" font-size="6.8" text-anchor="end">30</text>
<line x1="113.20" y1="362.60" x2="115.40" y2="362.60" stroke="#222" stroke-width="0.7"/>
<text x="111.60" y="365.00" font-size="6.8" text-anchor="end">40</text>
<rect x="122.00" y="383.50" width="9.80" height="58.70" fill="#2ba4df"/>
<rect x="140.80" y="378.52" width="9.30" height="63.68" fill="#f7931e"/>
<line x1="126.50" y1="377.70" x2="126.50" y2="384.00" stroke="#111" stroke-width="0.7"/>
<line x1="125.30" y1="377.70" x2="127.70" y2="377.70" stroke="#111" stroke-width="0.7"/>
<circle cx="125.50" cy="379.50" r="0.75" fill="#111"/>
<circle cx="127.30" cy="380.30" r="0.75" fill="#111"/>
<circle cx="126.00" cy="381.60" r="0.75" fill="#111"/>
<circle cx="127.00" cy="382.60" r="0.75" fill="#111"/>
<circle cx="125.80" cy="384.20" r="0.75" fill="#111"/>
<circle cx="127.40" cy="385.00" r="0.75" fill="#111"/>
<circle cx="126.30" cy="386.30" r="0.75" fill="#111"/>
<circle cx="125.40" cy="387.40" r="0.75" fill="#111"/>
<line x1="145.80" y1="373.20" x2="145.80" y2="379.00" stroke="#111" stroke-width="0.7"/>
<line x1="144.60" y1="373.20" x2="147.00" y2="373.20" stroke="#111" stroke-width="0.7"/>
<circle cx="145.20" cy="374.50" r="0.75" fill="#111"/>
<circle cx="146.60" cy="375.60" r="0.75" fill="#111"/>
<circle cx="145.50" cy="376.80" r="0.75" fill="#111"/>
<circle cx="146.40" cy="378.00" r="0.75" fill="#111"/>
<circle cx="145.60" cy="379.50" r="0.75" fill="#111"/>
<circle cx="146.20" cy="380.50" r="0.75" fill="#111"/>
<circle cx="145.30" cy="386.80" r="0.80" fill="#8a2a10"/>
<line x1="127.70" y1="372.40" x2="146.50" y2="372.40" stroke="#333" stroke-width="0.6"/>
<line x1="127.70" y1="372.40" x2="127.70" y2="375.40" stroke="#333" stroke-width="0.6"/>
<line x1="146.50" y1="372.40" x2="146.50" y2="374.40" stroke="#333" stroke-width="0.6"/>
<text x="119.20" y="366.60" font-size="6.4" text-anchor="start" textLength="33.10" lengthAdjust="spacingAndGlyphs">8% Increase</text>
<circle cx="135.80" cy="369.60" r="0.50" fill="#444"/>
<text x="98.40" y="402.00" font-size="7.4" text-anchor="middle" font-weight="bold" textLength="20.50" lengthAdjust="spacingAndGlyphs" transform="rotate(-90 98.40 402.00)">(m/min)</text>
<text x="129.2" y="449" font-size="6.6" text-anchor="end" fill="#222" transform="rotate(-45 129.2 449)">hG6PD<tspan font-size="4" dy="1.6">ND</tspan></text>
<text x="149" y="449" font-size="6.6" text-anchor="end" fill="#222" transform="rotate(-45 149 449)">hG6PD<tspan font-size="4" dy="1.6">Mut-</tspan></text>
<line x1="126.90" y1="442.20" x2="126.90" y2="444.00" stroke="#222" stroke-width="0.6"/>
<line x1="145.50" y1="442.20" x2="145.50" y2="444.00" stroke="#222" stroke-width="0.6"/>
<text x="170.80" y="356.00" font-size="10.5" text-anchor="start" font-weight="bold" fill="#000">H</text>
<line x1="195.20" y1="365.80" x2="195.20" y2="442.60" stroke="#222" stroke-width="1"/>
<line x1="195.20" y1="442.60" x2="310.60" y2="442.60" stroke="#222" stroke-width="1"/>
<line x1="193.00" y1="442.30" x2="195.20" y2="442.30" stroke="#222" stroke-width="0.7"/>
<text x="191.80" y="444.30" font-size="5.8" text-anchor="end">25</text>
<line x1="193.00" y1="423.60" x2="195.20" y2="423.60" stroke="#222" stroke-width="0.7"/>
<text x="191.80" y="425.60" font-size="5.8" text-anchor="end">30</text>
<line x1="193.00" y1="404.90" x2="195.20" y2="404.90" stroke="#222" stroke-width="0.7"/>
<text x="191.80" y="406.90" font-size="5.8" text-anchor="end">35</text>
<line x1="193.00" y1="386.20" x2="195.20" y2="386.20" stroke="#222" stroke-width="0.7"/>
<text x="191.80" y="388.20" font-size="5.8" text-anchor="end">40</text>
<line x1="193.00" y1="367.50" x2="195.20" y2="367.50" stroke="#222" stroke-width="0.7"/>
<text x="191.80" y="369.50" font-size="5.8" text-anchor="end">45</text>
<line x1="195.40" y1="442.60" x2="195.40" y2="444.60" stroke="#222" stroke-width="0.7"/>
<text x="195.40" y="453.80" font-size="6.6" text-anchor="middle">0</text>
<line x1="217.78" y1="442.60" x2="217.78" y2="444.60" stroke="#222" stroke-width="0.7"/>
<text x="217.78" y="453.80" font-size="6.6" text-anchor="middle">100</text>
<line x1="240.16" y1="442.60" x2="240.16" y2="444.60" stroke="#222" stroke-width="0.7"/>
<text x="240.16" y="453.80" font-size="6.6" text-anchor="middle">200</text>
<line x1="262.54" y1="442.60" x2="262.54" y2="444.60" stroke="#222" stroke-width="0.7"/>
<text x="262.54" y="453.80" font-size="6.6" text-anchor="middle">300</text>
<line x1="284.92" y1="442.60" x2="284.92" y2="444.60" stroke="#222" stroke-width="0.7"/>
<text x="284.92" y="453.80" font-size="6.6" text-anchor="middle">400</text>
<line x1="307.30" y1="442.60" x2="307.30" y2="444.60" stroke="#222" stroke-width="0.7"/>
<text x="307.30" y="453.80" font-size="6.6" text-anchor="middle">500</text>
<text x="253.50" y="464.60" font-size="9" text-anchor="middle" textLength="64.60" lengthAdjust="spacingAndGlyphs" stroke="#222" stroke-width="0.25">Time to fatigue (seconds)</text>
<text x="177.40" y="404.00" font-size="8.8" text-anchor="middle" textLength="57.50" lengthAdjust="spacingAndGlyphs" transform="rotate(-90 177.40 404.00)" stroke="#222" stroke-width="0.25">Critical speed (m/min)</text>
<line x1="195.40" y1="417.62" x2="303.8" y2="417.62" stroke="#e89030" stroke-width="0.8" stroke-dasharray="1.6,1.8"/>
<line x1="195.40" y1="424.72" x2="303.8" y2="424.72" stroke="#29a0c8" stroke-width="0.8" stroke-dasharray="1.6,1.8"/>
<path d="M228.97,392.18 Q259.18,419.11 300.59,424.35" fill="none" stroke="#29a0c8" stroke-width="0.9"/>
<path d="M218.90,387.70 Q243.52,407.89 281.56,416.49" fill="none" stroke="#e89030" stroke-width="0.9"/>
<rect x="217.40" y="383.20" width="3.00" height="3.00" fill="#e89030"/>
<rect x="222.32" y="394.05" width="3.00" height="3.00" fill="#e89030"/>
<rect x="250.97" y="403.40" width="3.00" height="3.00" fill="#e89030"/>
<rect x="280.06" y="415.74" width="3.00" height="3.00" fill="#e89030"/>
<circle cx="229.42" cy="392.18" r="1.50" fill="#29a0c8"/>
<circle cx="247.55" cy="404.90" r="1.50" fill="#29a0c8"/>
<circle cx="261.42" cy="413.88" r="1.50" fill="#29a0c8"/>
<circle cx="300.59" cy="424.35" r="1.50" fill="#29a0c8"/>
<path d="M305.2,413.8 Q307.2,413.8 307.2,415.8 L307.2,417 Q307.2,418.2 308.4,418.2 Q307.2,418.2 307.2,419.4 L307.2,420.6 Q307.2,422.6 305.2,422.6" fill="none" stroke="#333" stroke-width="0.6"/>
<text x="312.50" y="420.20" font-size="6.6" text-anchor="start" textLength="9.50" lengthAdjust="spacingAndGlyphs">CS</text>
<line x1="279.80" y1="376.40" x2="290.40" y2="376.40" stroke="#29a0c8" stroke-width="0.9"/>
<circle cx="285.00" cy="376.40" r="1.20" fill="#29a0c8"/>
<line x1="279.80" y1="388.00" x2="290.40" y2="388.00" stroke="#e89030" stroke-width="0.9"/>
<rect x="283.80" y="386.80" width="2.40" height="2.40" fill="#e89030"/>
<text x="292.00" y="378.60" font-size="6.6" text-anchor="start">hG6PD<tspan font-size="4" dy="1.6">ND</tspan></text>
<text x="292.00" y="390.20" font-size="6.6" text-anchor="start">hG6PD<tspan font-size="4" dy="1.6">Mut-</tspan></text>
<text x="332.60" y="356.00" font-size="10.5" text-anchor="start" font-weight="bold" fill="#000">I</text>
<line x1="356.50" y1="361.50" x2="356.50" y2="442.70" stroke="#222" stroke-width="1"/>
<line x1="356.50" y1="442.70" x2="477.70" y2="442.70" stroke="#222" stroke-width="1"/>
<line x1="354.30" y1="442.50" x2="356.50" y2="442.50" stroke="#222" stroke-width="0.7"/>
<text x="351.60" y="444.60" font-size="6.2" text-anchor="end">25</text>
<line x1="354.30" y1="422.75" x2="356.50" y2="422.75" stroke="#222" stroke-width="0.7"/>
<text x="351.60" y="424.85" font-size="6.2" text-anchor="end">30</text>
<line x1="354.30" y1="403.00" x2="356.50" y2="403.00" stroke="#222" stroke-width="0.7"/>
<text x="351.60" y="405.10" font-size="6.2" text-anchor="end">35</text>
<line x1="354.30" y1="383.25" x2="356.50" y2="383.25" stroke="#222" stroke-width="0.7"/>
<text x="351.60" y="385.35" font-size="6.2" text-anchor="end">40</text>
<line x1="354.30" y1="363.50" x2="356.50" y2="363.50" stroke="#222" stroke-width="0.7"/>
<text x="351.60" y="365.60" font-size="6.2" text-anchor="end">45</text>
<line x1="357.00" y1="442.70" x2="357.00" y2="444.70" stroke="#222" stroke-width="0.7"/>
<text x="357.00" y="453.80" font-size="6.6" text-anchor="middle" textLength="16.00" lengthAdjust="spacingAndGlyphs">0.000</text>
<line x1="396.65" y1="442.70" x2="396.65" y2="444.70" stroke="#222" stroke-width="0.7"/>
<text x="396.65" y="453.80" font-size="6.6" text-anchor="middle" textLength="16.00" lengthAdjust="spacingAndGlyphs">0.005</text>
<line x1="436.30" y1="442.70" x2="436.30" y2="444.70" stroke="#222" stroke-width="0.7"/>
<text x="436.30" y="453.80" font-size="6.6" text-anchor="middle" textLength="16.00" lengthAdjust="spacingAndGlyphs">0.010</text>
<line x1="475.95" y1="442.70" x2="475.95" y2="444.70" stroke="#222" stroke-width="0.7"/>
<text x="475.95" y="453.80" font-size="6.6" text-anchor="middle" textLength="16.00" lengthAdjust="spacingAndGlyphs">0.015</text>
<text x="418.00" y="464.70" font-size="9" text-anchor="middle" textLength="61.40" lengthAdjust="spacingAndGlyphs" stroke="#222" stroke-width="0.25">1/time fatigue (seconds)</text>
<text x="339.20" y="404.00" font-size="8.8" text-anchor="middle" textLength="57.50" lengthAdjust="spacingAndGlyphs" transform="rotate(-90 339.20 404.00)" stroke="#222" stroke-width="0.25">Critical speed (m/min)</text>
<line x1="375.24" y1="424.73" x2="415.68" y2="389.97" stroke="#29a0c8" stroke-width="0.9"/>
<line x1="378.41" y1="416.82" x2="441.85" y2="385.62" stroke="#e89030" stroke-width="0.9"/>
<rect x="376.91" y="414.54" width="3.00" height="3.00" fill="#e89030"/>
<rect x="396.74" y="401.50" width="3.00" height="3.00" fill="#e89030"/>
<rect x="433.21" y="392.02" width="3.00" height="3.00" fill="#e89030"/>
<rect x="440.35" y="380.17" width="3.00" height="3.00" fill="#e89030"/>
<circle cx="375.24" cy="423.54" r="1.50" fill="#29a0c8"/>
<circle cx="392.69" cy="412.48" r="1.50" fill="#29a0c8"/>
<circle cx="402.99" cy="403.00" r="1.50" fill="#29a0c8"/>
<circle cx="414.89" cy="389.57" r="1.50" fill="#29a0c8"/>
<text x="391.00" y="427.20" font-size="6.6" text-anchor="start" textLength="38.00" lengthAdjust="spacingAndGlyphs">Slope = AWC</text>
<line x1="450.40" y1="397.90" x2="459.40" y2="397.90" stroke="#29a0c8" stroke-width="0.9"/>
<circle cx="454.90" cy="397.90" r="1.20" fill="#29a0c8"/>
<line x1="450.40" y1="409.40" x2="459.40" y2="409.40" stroke="#e89030" stroke-width="0.9"/>
<rect x="453.70" y="408.20" width="2.40" height="2.40" fill="#e89030"/>
<text x="462.00" y="400.10" font-size="6.6" text-anchor="start">hG6PD<tspan font-size="4" dy="1.6">ND</tspan></text>
<text x="462.00" y="411.60" font-size="6.6" text-anchor="start">hG6PD<tspan font-size="4" dy="1.6">Mut-</tspan></text>
<rect x="0.5" y="0.5" width="519" height="477" fill="none" stroke="#4a4a4a" stroke-width="1"/>
</svg>
</body></html>
